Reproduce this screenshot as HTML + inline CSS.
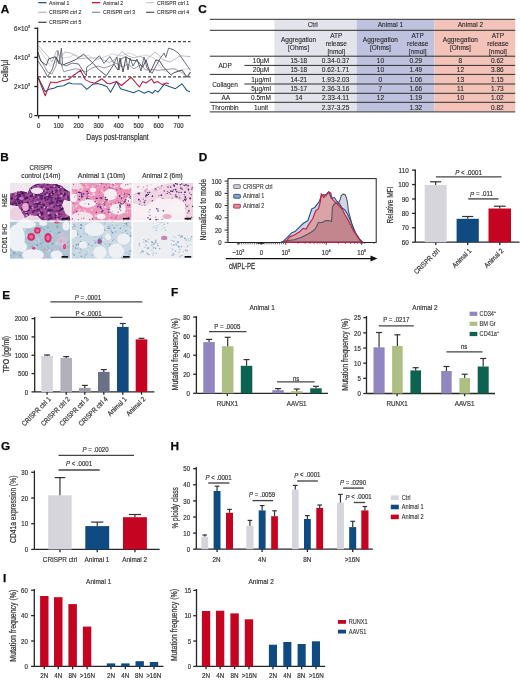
<!DOCTYPE html>
<html><head><meta charset="utf-8"><title>Figure</title>
<style>
html,body{margin:0;padding:0;background:#fff;}
body{width:520px;height:680px;overflow:hidden;}
svg{display:block;font-family:"Liberation Sans", sans-serif;will-change:transform;filter:blur(0.3px);}
</style></head>
<body>
<svg width="520" height="680" viewBox="0 0 520 680" font-family='"Liberation Sans", sans-serif'>
<rect width="520" height="680" fill="#fff"/>
<text x="0.69" y="12.70" font-size="11.8" font-weight="bold" fill="#0a0a0a" stroke="#0a0a0a" stroke-width="0.25">A</text>
<line x1="38.30" y1="2.70" x2="46.50" y2="2.70" stroke="#0f4a80" stroke-width="1.2"/>
<text transform="translate(49.10 2.70) scale(0.96 1.15)" font-size="5.4" text-anchor="start" font-weight="normal" fill="#3a3a3a" stroke="#3a3a3a" stroke-width="0.12" dominant-baseline="central">Animal 1</text>
<line x1="92.00" y1="2.70" x2="100.20" y2="2.70" stroke="#c40421" stroke-width="1.2"/>
<text transform="translate(103.00 2.70) scale(0.96 1.15)" font-size="5.4" text-anchor="start" font-weight="normal" fill="#3a3a3a" stroke="#3a3a3a" stroke-width="0.12" dominant-baseline="central">Animal 2</text>
<line x1="146.10" y1="2.70" x2="154.30" y2="2.70" stroke="#c9c9d0" stroke-width="1.2"/>
<text transform="translate(156.90 2.70) scale(0.96 1.15)" font-size="5.4" text-anchor="start" font-weight="normal" fill="#3a3a3a" stroke="#3a3a3a" stroke-width="0.12" dominant-baseline="central">CRISPR ctrl 1</text>
<line x1="38.30" y1="12.30" x2="46.50" y2="12.30" stroke="#b1b1ba" stroke-width="1.2"/>
<text transform="translate(49.10 12.30) scale(0.96 1.15)" font-size="5.4" text-anchor="start" font-weight="normal" fill="#3a3a3a" stroke="#3a3a3a" stroke-width="0.12" dominant-baseline="central">CRISPR ctrl 2</text>
<line x1="92.00" y1="12.30" x2="100.20" y2="12.30" stroke="#8c8c97" stroke-width="1.2"/>
<text transform="translate(103.00 12.30) scale(0.96 1.15)" font-size="5.4" text-anchor="start" font-weight="normal" fill="#3a3a3a" stroke="#3a3a3a" stroke-width="0.12" dominant-baseline="central">CRISPR ctrl 3</text>
<line x1="146.10" y1="12.30" x2="154.30" y2="12.30" stroke="#4f5466" stroke-width="1.2"/>
<text transform="translate(156.90 12.30) scale(0.96 1.15)" font-size="5.4" text-anchor="start" font-weight="normal" fill="#3a3a3a" stroke="#3a3a3a" stroke-width="0.12" dominant-baseline="central">CRISPR ctrl 4</text>
<line x1="38.30" y1="22.30" x2="46.50" y2="22.30" stroke="#3c3c44" stroke-width="1.2"/>
<text transform="translate(49.10 22.30) scale(0.96 1.15)" font-size="5.4" text-anchor="start" font-weight="normal" fill="#3a3a3a" stroke="#3a3a3a" stroke-width="0.12" dominant-baseline="central">CRISPR ctrl 5</text>
<polyline points="38.0,48.0 44.0,56.0 50.0,66.0 56.0,62.0 62.0,58.0 70.0,57.0 74.0,54.5 80.0,57.0 88.0,55.0 96.0,60.0 104.0,57.0 112.0,54.0 120.0,56.0 130.0,53.0 138.0,57.0 146.0,55.0 154.0,58.0 163.0,70.3 171.8,73.5 178.3,71.1 187.2,68.7 190.4,67.9" fill="none" stroke="#cfcfd6" stroke-width="0.9" stroke-linejoin="round"/>
<polyline points="38.0,45.0 47.5,55.7 52.0,62.0 56.8,50.3 60.0,58.0 65.2,51.8 71.4,53.4 76.0,55.7 78.6,58.8 87.8,58.0 99.4,58.0 109.4,62.6 114.0,60.0 122.0,51.5 128.0,56.0 134.0,58.0 140.0,56.0 146.0,60.0 152.4,54.2 154.8,52.1 158.0,54.2 163.0,60.0 170.0,62.0 180.7,55.8 190.4,56.6" fill="none" stroke="#b3b3bc" stroke-width="0.9" stroke-linejoin="round"/>
<polyline points="38.0,55.0 42.0,62.0 47.5,72.0 52.0,74.0 56.0,66.0 58.0,50.3 60.0,60.0 63.7,71.8 70.0,70.0 76.0,68.8 80.0,69.5 86.0,72.0 92.0,68.0 98.0,66.0 104.0,68.0 110.0,66.0 116.0,63.0 122.0,67.0 128.0,64.0 134.0,69.0 140.0,65.0 146.0,70.0 153.2,69.5 158.0,70.3 166.2,69.5 174.2,68.7 182.3,72.7 187.2,77.6 190.4,72.7" fill="none" stroke="#8e8e99" stroke-width="0.9" stroke-linejoin="round"/>
<polyline points="38.0,61.0 44.0,70.0 47.5,76.5 52.0,70.0 56.0,57.2 59.0,64.0 61.4,48.0 62.5,64.0 66.0,66.0 72.0,63.0 78.6,64.0 86.3,75.7 86.7,67.2 91.0,64.2 99.4,55.7 104.0,63.4 109.8,56.5 114.0,63.4 117.0,57.0 119.0,70.0 121.0,59.0 125.8,56.5 128.0,70.0 130.0,58.0 133.0,66.0 137.0,59.0 141.0,71.0 144.0,57.0 147.0,68.0 152.0,73.4 160.5,57.8 164.1,53.0 165.8,57.4 168.6,48.1 173.4,49.7 178.3,53.0 190.4,70.3" fill="none" stroke="#5a5f72" stroke-width="0.9" stroke-linejoin="round"/>
<polyline points="38.0,51.8 40.6,61.0 46.4,65.3 48.7,58.8 55.6,56.8 59.0,62.6 62.2,65.3 76.0,59.5 83.6,54.2 93.2,63.4 98.6,69.5 106.3,75.7 114.0,64.2 118.0,70.0 120.0,58.0 123.0,72.0 126.0,57.0 131.0,60.0 137.4,61.0 142.8,67.2 146.0,60.0 150.0,72.7 156.0,59.8 159.7,61.0 162.9,66.3 171.0,75.2 174.2,72.7 182.0,70.0 187.0,77.0 190.4,72.0" fill="none" stroke="#44444c" stroke-width="0.9" stroke-linejoin="round"/>
<polyline points="38.0,77.3 45.2,91.5 48.3,89.6 54.5,88.0 57.5,86.5 63.7,85.8 69.0,82.7 72.0,83.8 81.4,84.0 86.8,89.3 93.0,84.2 97.5,83.5 102.0,84.7 106.8,86.5 110.6,92.2 116.5,81.4 120.6,88.7 126.3,90.4 133.7,92.8 138.6,90.4 144.3,93.3 148.4,91.2 152.5,93.3 155.0,90.4 158.2,92.0 163.9,84.6 170.5,87.0 175.4,88.7 181.9,83.8 186.8,90.4 190.0,91.7" fill="none" stroke="#1b5284" stroke-width="1.05" stroke-linejoin="round"/>
<polyline points="38.0,77.3 45.2,95.8 50.6,82.0 56.0,82.7 63.0,80.4 68.3,79.6 73.0,75.8 80.6,70.4 85.2,79.6 89.8,81.9 94.5,83.2 102.0,78.8 107.5,83.5 110.0,83.8 116.5,81.4 121.4,85.5 131.2,77.3 139.4,87.0 142.7,81.4 146.0,83.0 151.7,78.9 154.0,83.0 157.4,81.4 162.3,84.6 166.4,83.0 168.8,83.8" fill="none" stroke="#c0163a" stroke-width="1.05" stroke-linejoin="round"/>
<line x1="38.00" y1="41.70" x2="190.50" y2="41.70" stroke="#444" stroke-width="1.2" stroke-dasharray="3 2"/>
<line x1="38.00" y1="76.80" x2="190.50" y2="76.80" stroke="#444" stroke-width="1.2" stroke-dasharray="3 2"/>
<line x1="37.60" y1="27.50" x2="37.60" y2="115.60" stroke="#262626" stroke-width="1.3"/>
<line x1="34.30" y1="115.60" x2="37.60" y2="115.60" stroke="#262626" stroke-width="1.3"/>
<text transform="translate(32.50 115.60) scale(1.0 1.15)" font-size="6.2" text-anchor="end" font-weight="normal" fill="#383838" stroke="#383838" stroke-width="0.18" dominant-baseline="central">0</text>
<line x1="34.30" y1="86.50" x2="37.60" y2="86.50" stroke="#262626" stroke-width="1.3"/>
<text transform="translate(14.00 86.50) scale(1.0 1.15)" font-size="6.2" text-anchor="start" font-weight="normal" fill="#383838" stroke="#383838" stroke-width="0.18" dominant-baseline="central">2×10<tspan font-size="3.8" dy="-2.0">3</tspan></text>
<line x1="34.30" y1="57.40" x2="37.60" y2="57.40" stroke="#262626" stroke-width="1.3"/>
<text transform="translate(14.00 57.40) scale(1.0 1.15)" font-size="6.2" text-anchor="start" font-weight="normal" fill="#383838" stroke="#383838" stroke-width="0.18" dominant-baseline="central">4×10<tspan font-size="3.8" dy="-2.0">3</tspan></text>
<line x1="34.30" y1="28.30" x2="37.60" y2="28.30" stroke="#262626" stroke-width="1.3"/>
<text transform="translate(14.00 28.30) scale(1.0 1.15)" font-size="6.2" text-anchor="start" font-weight="normal" fill="#383838" stroke="#383838" stroke-width="0.18" dominant-baseline="central">6×10<tspan font-size="3.8" dy="-2.0">3</tspan></text>
<line x1="37.60" y1="115.60" x2="190.80" y2="115.60" stroke="#262626" stroke-width="1.3"/>
<line x1="38.60" y1="115.60" x2="38.60" y2="118.40" stroke="#262626" stroke-width="1.3"/>
<line x1="58.60" y1="115.60" x2="58.60" y2="118.40" stroke="#262626" stroke-width="1.3"/>
<line x1="78.60" y1="115.60" x2="78.60" y2="118.40" stroke="#262626" stroke-width="1.3"/>
<line x1="98.60" y1="115.60" x2="98.60" y2="118.40" stroke="#262626" stroke-width="1.3"/>
<line x1="118.60" y1="115.60" x2="118.60" y2="118.40" stroke="#262626" stroke-width="1.3"/>
<line x1="138.60" y1="115.60" x2="138.60" y2="118.40" stroke="#262626" stroke-width="1.3"/>
<line x1="158.60" y1="115.60" x2="158.60" y2="118.40" stroke="#262626" stroke-width="1.3"/>
<line x1="178.60" y1="115.60" x2="178.60" y2="118.40" stroke="#262626" stroke-width="1.3"/>
<text transform="translate(38.60 125.30) scale(1.0 1.15)" font-size="6.0" text-anchor="middle" font-weight="normal" fill="#383838" stroke="#383838" stroke-width="0.18" dominant-baseline="central">0</text>
<text transform="translate(58.60 125.30) scale(1.0 1.15)" font-size="6.0" text-anchor="middle" font-weight="normal" fill="#383838" stroke="#383838" stroke-width="0.18" dominant-baseline="central">100</text>
<text transform="translate(78.60 125.30) scale(1.0 1.15)" font-size="6.0" text-anchor="middle" font-weight="normal" fill="#383838" stroke="#383838" stroke-width="0.18" dominant-baseline="central">200</text>
<text transform="translate(98.60 125.30) scale(1.0 1.15)" font-size="6.0" text-anchor="middle" font-weight="normal" fill="#383838" stroke="#383838" stroke-width="0.18" dominant-baseline="central">300</text>
<text transform="translate(118.60 125.30) scale(1.0 1.15)" font-size="6.0" text-anchor="middle" font-weight="normal" fill="#383838" stroke="#383838" stroke-width="0.18" dominant-baseline="central">400</text>
<text transform="translate(138.60 125.30) scale(1.0 1.15)" font-size="6.0" text-anchor="middle" font-weight="normal" fill="#383838" stroke="#383838" stroke-width="0.18" dominant-baseline="central">500</text>
<text transform="translate(158.60 125.30) scale(1.0 1.15)" font-size="6.0" text-anchor="middle" font-weight="normal" fill="#383838" stroke="#383838" stroke-width="0.18" dominant-baseline="central">600</text>
<text transform="translate(178.60 125.30) scale(1.0 1.15)" font-size="6.0" text-anchor="middle" font-weight="normal" fill="#383838" stroke="#383838" stroke-width="0.18" dominant-baseline="central">700</text>
<text transform="translate(117.50 136.90) scale(1.0 1.22)" font-size="6.8" text-anchor="middle" font-weight="normal" fill="#383838" stroke="#383838" stroke-width="0.18" dominant-baseline="central">Days post-transplant</text>
<text transform="translate(4.80 71.00) rotate(-90) scale(1.0 1.28)" font-size="6.8" text-anchor="middle" font-weight="normal" fill="#383838" stroke="#383838" stroke-width="0.18" dominant-baseline="central">Cells/µl</text>
<text x="198.30" y="12.80" font-size="11.8" font-weight="bold" fill="#0a0a0a" stroke="#0a0a0a" stroke-width="0.25">C</text>
<rect x="274.40" y="19.60" width="82.30" height="92.00" fill="#e3e3ec"/>
<rect x="356.70" y="19.60" width="77.70" height="92.00" fill="#bfc2de"/>
<rect x="434.40" y="19.60" width="80.80" height="92.00" fill="#f3c2b8"/>
<line x1="209.80" y1="19.30" x2="515.20" y2="19.30" stroke="#2e2e2e" stroke-width="1.0"/>
<line x1="209.80" y1="30.30" x2="515.20" y2="30.30" stroke="#2e2e2e" stroke-width="1.0"/>
<line x1="209.80" y1="56.20" x2="515.20" y2="56.20" stroke="#2e2e2e" stroke-width="1.0"/>
<line x1="209.80" y1="74.40" x2="515.20" y2="74.40" stroke="#2e2e2e" stroke-width="1.0"/>
<line x1="209.80" y1="93.30" x2="515.20" y2="93.30" stroke="#2e2e2e" stroke-width="1.0"/>
<line x1="209.80" y1="102.30" x2="515.20" y2="102.30" stroke="#2e2e2e" stroke-width="1.0"/>
<line x1="209.80" y1="111.90" x2="515.20" y2="111.90" stroke="#2e2e2e" stroke-width="1.0"/>
<line x1="244.40" y1="65.40" x2="515.20" y2="65.40" stroke="#2e2e2e" stroke-width="1.0"/>
<line x1="244.40" y1="84.00" x2="515.20" y2="84.00" stroke="#2e2e2e" stroke-width="1.0"/>
<text transform="translate(312.70 24.60)" font-size="6.5" text-anchor="middle" font-weight="normal" fill="#262626" stroke="#262626" stroke-width="0.1" dominant-baseline="central">Ctrl</text>
<text transform="translate(390.40 24.60)" font-size="6.5" text-anchor="middle" font-weight="normal" fill="#262626" stroke="#262626" stroke-width="0.1" dominant-baseline="central">Animal 1</text>
<text transform="translate(470.40 24.60)" font-size="6.5" text-anchor="middle" font-weight="normal" fill="#262626" stroke="#262626" stroke-width="0.1" dominant-baseline="central">Animal 2</text>
<text transform="translate(298.50 39.60)" font-size="6.5" text-anchor="middle" font-weight="normal" fill="#262626" stroke="#262626" stroke-width="0.1" dominant-baseline="central">Aggregation</text>
<text transform="translate(298.50 47.30)" font-size="6.5" text-anchor="middle" font-weight="normal" fill="#262626" stroke="#262626" stroke-width="0.1" dominant-baseline="central">[Ohms]</text>
<text transform="translate(336.30 35.80)" font-size="6.5" text-anchor="middle" font-weight="normal" fill="#262626" stroke="#262626" stroke-width="0.1" dominant-baseline="central">ATP</text>
<text transform="translate(336.30 43.60)" font-size="6.5" text-anchor="middle" font-weight="normal" fill="#262626" stroke="#262626" stroke-width="0.1" dominant-baseline="central">release</text>
<text transform="translate(336.30 51.40)" font-size="6.5" text-anchor="middle" font-weight="normal" fill="#262626" stroke="#262626" stroke-width="0.1" dominant-baseline="central">[nmol]</text>
<text transform="translate(380.40 39.60)" font-size="6.5" text-anchor="middle" font-weight="normal" fill="#262626" stroke="#262626" stroke-width="0.1" dominant-baseline="central">Aggregation</text>
<text transform="translate(380.40 47.30)" font-size="6.5" text-anchor="middle" font-weight="normal" fill="#262626" stroke="#262626" stroke-width="0.1" dominant-baseline="central">[Ohms]</text>
<text transform="translate(417.70 35.80)" font-size="6.5" text-anchor="middle" font-weight="normal" fill="#262626" stroke="#262626" stroke-width="0.1" dominant-baseline="central">ATP</text>
<text transform="translate(417.70 43.60)" font-size="6.5" text-anchor="middle" font-weight="normal" fill="#262626" stroke="#262626" stroke-width="0.1" dominant-baseline="central">release</text>
<text transform="translate(417.70 51.40)" font-size="6.5" text-anchor="middle" font-weight="normal" fill="#262626" stroke="#262626" stroke-width="0.1" dominant-baseline="central">[nmol]</text>
<text transform="translate(460.40 39.60)" font-size="6.5" text-anchor="middle" font-weight="normal" fill="#262626" stroke="#262626" stroke-width="0.1" dominant-baseline="central">Aggregation</text>
<text transform="translate(460.40 47.30)" font-size="6.5" text-anchor="middle" font-weight="normal" fill="#262626" stroke="#262626" stroke-width="0.1" dominant-baseline="central">[Ohms]</text>
<text transform="translate(497.90 35.80)" font-size="6.5" text-anchor="middle" font-weight="normal" fill="#262626" stroke="#262626" stroke-width="0.1" dominant-baseline="central">ATP</text>
<text transform="translate(497.90 43.60)" font-size="6.5" text-anchor="middle" font-weight="normal" fill="#262626" stroke="#262626" stroke-width="0.1" dominant-baseline="central">release</text>
<text transform="translate(497.90 51.40)" font-size="6.5" text-anchor="middle" font-weight="normal" fill="#262626" stroke="#262626" stroke-width="0.1" dominant-baseline="central">[nmol]</text>
<text transform="translate(261.00 60.70)" font-size="6.5" text-anchor="middle" font-weight="normal" fill="#262626" stroke="#262626" stroke-width="0.1" dominant-baseline="central">10µM</text>
<text transform="translate(298.80 60.70)" font-size="6.5" text-anchor="middle" font-weight="normal" fill="#262626" stroke="#262626" stroke-width="0.1" dominant-baseline="central">15-18</text>
<text transform="translate(335.60 60.70)" font-size="6.5" text-anchor="middle" font-weight="normal" fill="#262626" stroke="#262626" stroke-width="0.1" dominant-baseline="central">0.34-0.37</text>
<text transform="translate(380.40 60.70)" font-size="6.5" text-anchor="middle" font-weight="normal" fill="#262626" stroke="#262626" stroke-width="0.1" dominant-baseline="central">10</text>
<text transform="translate(415.80 60.70)" font-size="6.5" text-anchor="middle" font-weight="normal" fill="#262626" stroke="#262626" stroke-width="0.1" dominant-baseline="central">0.29</text>
<text transform="translate(460.40 60.70)" font-size="6.5" text-anchor="middle" font-weight="normal" fill="#262626" stroke="#262626" stroke-width="0.1" dominant-baseline="central">8</text>
<text transform="translate(497.30 60.70)" font-size="6.5" text-anchor="middle" font-weight="normal" fill="#262626" stroke="#262626" stroke-width="0.1" dominant-baseline="central">0.62</text>
<text transform="translate(261.00 69.90)" font-size="6.5" text-anchor="middle" font-weight="normal" fill="#262626" stroke="#262626" stroke-width="0.1" dominant-baseline="central">20µM</text>
<text transform="translate(298.80 69.90)" font-size="6.5" text-anchor="middle" font-weight="normal" fill="#262626" stroke="#262626" stroke-width="0.1" dominant-baseline="central">15-18</text>
<text transform="translate(335.60 69.90)" font-size="6.5" text-anchor="middle" font-weight="normal" fill="#262626" stroke="#262626" stroke-width="0.1" dominant-baseline="central">0.62-1.71</text>
<text transform="translate(380.40 69.90)" font-size="6.5" text-anchor="middle" font-weight="normal" fill="#262626" stroke="#262626" stroke-width="0.1" dominant-baseline="central">10</text>
<text transform="translate(415.80 69.90)" font-size="6.5" text-anchor="middle" font-weight="normal" fill="#262626" stroke="#262626" stroke-width="0.1" dominant-baseline="central">1.49</text>
<text transform="translate(460.40 69.90)" font-size="6.5" text-anchor="middle" font-weight="normal" fill="#262626" stroke="#262626" stroke-width="0.1" dominant-baseline="central">12</text>
<text transform="translate(497.30 69.90)" font-size="6.5" text-anchor="middle" font-weight="normal" fill="#262626" stroke="#262626" stroke-width="0.1" dominant-baseline="central">3.86</text>
<text transform="translate(261.00 79.20)" font-size="6.5" text-anchor="middle" font-weight="normal" fill="#262626" stroke="#262626" stroke-width="0.1" dominant-baseline="central">1µg/ml</text>
<text transform="translate(298.80 79.20)" font-size="6.5" text-anchor="middle" font-weight="normal" fill="#262626" stroke="#262626" stroke-width="0.1" dominant-baseline="central">14-21</text>
<text transform="translate(335.60 79.20)" font-size="6.5" text-anchor="middle" font-weight="normal" fill="#262626" stroke="#262626" stroke-width="0.1" dominant-baseline="central">1.93-2.03</text>
<text transform="translate(380.40 79.20)" font-size="6.5" text-anchor="middle" font-weight="normal" fill="#262626" stroke="#262626" stroke-width="0.1" dominant-baseline="central">0</text>
<text transform="translate(415.80 79.20)" font-size="6.5" text-anchor="middle" font-weight="normal" fill="#262626" stroke="#262626" stroke-width="0.1" dominant-baseline="central">1.06</text>
<text transform="translate(460.40 79.20)" font-size="6.5" text-anchor="middle" font-weight="normal" fill="#262626" stroke="#262626" stroke-width="0.1" dominant-baseline="central">13</text>
<text transform="translate(497.30 79.20)" font-size="6.5" text-anchor="middle" font-weight="normal" fill="#262626" stroke="#262626" stroke-width="0.1" dominant-baseline="central">1.15</text>
<text transform="translate(261.00 88.60)" font-size="6.5" text-anchor="middle" font-weight="normal" fill="#262626" stroke="#262626" stroke-width="0.1" dominant-baseline="central">5µg/ml</text>
<text transform="translate(298.80 88.60)" font-size="6.5" text-anchor="middle" font-weight="normal" fill="#262626" stroke="#262626" stroke-width="0.1" dominant-baseline="central">15-17</text>
<text transform="translate(335.60 88.60)" font-size="6.5" text-anchor="middle" font-weight="normal" fill="#262626" stroke="#262626" stroke-width="0.1" dominant-baseline="central">2.36-3.16</text>
<text transform="translate(380.40 88.60)" font-size="6.5" text-anchor="middle" font-weight="normal" fill="#262626" stroke="#262626" stroke-width="0.1" dominant-baseline="central">7</text>
<text transform="translate(415.80 88.60)" font-size="6.5" text-anchor="middle" font-weight="normal" fill="#262626" stroke="#262626" stroke-width="0.1" dominant-baseline="central">1.66</text>
<text transform="translate(460.40 88.60)" font-size="6.5" text-anchor="middle" font-weight="normal" fill="#262626" stroke="#262626" stroke-width="0.1" dominant-baseline="central">11</text>
<text transform="translate(497.30 88.60)" font-size="6.5" text-anchor="middle" font-weight="normal" fill="#262626" stroke="#262626" stroke-width="0.1" dominant-baseline="central">1.73</text>
<text transform="translate(261.00 97.70)" font-size="6.5" text-anchor="middle" font-weight="normal" fill="#262626" stroke="#262626" stroke-width="0.1" dominant-baseline="central">0.5mM</text>
<text transform="translate(298.80 97.70)" font-size="6.5" text-anchor="middle" font-weight="normal" fill="#262626" stroke="#262626" stroke-width="0.1" dominant-baseline="central">14</text>
<text transform="translate(335.60 97.70)" font-size="6.5" text-anchor="middle" font-weight="normal" fill="#262626" stroke="#262626" stroke-width="0.1" dominant-baseline="central">2.33-4.11</text>
<text transform="translate(380.40 97.70)" font-size="6.5" text-anchor="middle" font-weight="normal" fill="#262626" stroke="#262626" stroke-width="0.1" dominant-baseline="central">12</text>
<text transform="translate(415.80 97.70)" font-size="6.5" text-anchor="middle" font-weight="normal" fill="#262626" stroke="#262626" stroke-width="0.1" dominant-baseline="central">1.19</text>
<text transform="translate(460.40 97.70)" font-size="6.5" text-anchor="middle" font-weight="normal" fill="#262626" stroke="#262626" stroke-width="0.1" dominant-baseline="central">10</text>
<text transform="translate(497.30 97.70)" font-size="6.5" text-anchor="middle" font-weight="normal" fill="#262626" stroke="#262626" stroke-width="0.1" dominant-baseline="central">1.02</text>
<text transform="translate(261.00 107.10)" font-size="6.5" text-anchor="middle" font-weight="normal" fill="#262626" stroke="#262626" stroke-width="0.1" dominant-baseline="central">1unit</text>
<text transform="translate(335.60 107.10)" font-size="6.5" text-anchor="middle" font-weight="normal" fill="#262626" stroke="#262626" stroke-width="0.1" dominant-baseline="central">2.37-3.25</text>
<text transform="translate(415.80 107.10)" font-size="6.5" text-anchor="middle" font-weight="normal" fill="#262626" stroke="#262626" stroke-width="0.1" dominant-baseline="central">1.32</text>
<text transform="translate(497.30 107.10)" font-size="6.5" text-anchor="middle" font-weight="normal" fill="#262626" stroke="#262626" stroke-width="0.1" dominant-baseline="central">0.82</text>
<text transform="translate(225.20 65.20)" font-size="6.5" text-anchor="middle" font-weight="normal" fill="#262626" stroke="#262626" stroke-width="0.1" dominant-baseline="central">ADP</text>
<text transform="translate(225.00 84.00)" font-size="6.5" text-anchor="middle" font-weight="normal" fill="#262626" stroke="#262626" stroke-width="0.1" dominant-baseline="central">Collagen</text>
<text transform="translate(225.80 97.70)" font-size="6.5" text-anchor="middle" font-weight="normal" fill="#262626" stroke="#262626" stroke-width="0.1" dominant-baseline="central">AA</text>
<text transform="translate(225.00 107.10)" font-size="6.5" text-anchor="middle" font-weight="normal" fill="#262626" stroke="#262626" stroke-width="0.1" dominant-baseline="central">Thrombin</text>
<text x="0.18" y="161.00" font-size="11.8" font-weight="bold" fill="#0a0a0a" stroke="#0a0a0a" stroke-width="0.25">B</text>
<text transform="translate(41.00 168.20) scale(0.87 1.15)" font-size="7.0" text-anchor="middle" font-weight="normal" fill="#383838" stroke="#383838" stroke-width="0.18" dominant-baseline="central">CRISPR</text>
<text transform="translate(40.90 175.60) scale(0.95 1.15)" font-size="7.0" text-anchor="middle" font-weight="normal" fill="#383838" stroke="#383838" stroke-width="0.18" dominant-baseline="central">control (14m)</text>
<text transform="translate(101.50 175.60) scale(1.0 1.15)" font-size="7.0" text-anchor="middle" font-weight="normal" fill="#383838" stroke="#383838" stroke-width="0.18" dominant-baseline="central">Animal 1 (10m)</text>
<text transform="translate(162.50 175.60) scale(0.93 1.15)" font-size="7.0" text-anchor="middle" font-weight="normal" fill="#383838" stroke="#383838" stroke-width="0.18" dominant-baseline="central">Animal 2 (6m)</text>
<text transform="translate(4.60 200.30) rotate(-90) scale(0.95 1.15)" font-size="6.8" text-anchor="middle" font-weight="normal" fill="#383838" stroke="#383838" stroke-width="0.18" dominant-baseline="central">H&amp;E</text>
<text transform="translate(4.60 238.40) rotate(-90) scale(0.94 1.15)" font-size="6.8" text-anchor="middle" font-weight="normal" fill="#383838" stroke="#383838" stroke-width="0.18" dominant-baseline="central">CD61 IHC</text>
<defs>
<clipPath id="c00"><rect x="10" y="183" width="60.2" height="37.6"/></clipPath>
<clipPath id="c01"><rect x="10" y="221.6" width="60.2" height="37.2"/></clipPath>
<clipPath id="c10"><rect x="71.4" y="183" width="60.2" height="37.6"/></clipPath>
<clipPath id="c11"><rect x="71.4" y="221.6" width="60.2" height="37.2"/></clipPath>
<clipPath id="c20"><rect x="133" y="183" width="60.2" height="37.6"/></clipPath>
<clipPath id="c21"><rect x="133" y="221.6" width="60.2" height="37.2"/></clipPath>
<clipPath id="mass1"><polygon points="10,194 16,192 22,191 28,193 30,188 33,185.5 37,184 43,183.5 50,184 56,184 62,186 66,190 71,192 71,201 64,200 62,205 66,214 71,217 71,221 50,221 42,221 38,216 30,215 25,218 22,212 18,206 10,205"/></clipPath>
<clipPath id="band3"><polygon points="133,194 140,192 148,191 155,188 162,185 170,183 194,183 194,221 186,221 185,203 176,198 166,199 158,198 150,203 146,206 140,205 133,203"/></clipPath>
<filter id="hb" x="-5%" y="-5%" width="110%" height="110%"><feGaussianBlur stdDeviation="0.35"/></filter>
</defs>
<g clip-path="url(#c00)"><g filter="url(#hb)">
<rect x="10.00" y="183.00" width="60.20" height="37.60" fill="#eee8ee"/>
<ellipse cx="17.0" cy="214.0" rx="8.0" ry="7.0" fill="#ecd0e2"/>
<g clip-path="url(#mass1)">
<rect x="10.00" y="183.00" width="60.20" height="37.60" fill="#9c4a94"/>
<circle cx="29.8" cy="188.7" r="1.12" fill="#4d1a5e" fill-opacity="1.0"/>
<circle cx="60.1" cy="186.6" r="1.08" fill="#502068" fill-opacity="1.0"/>
<circle cx="23.1" cy="186.3" r="0.97" fill="#5e2270" fill-opacity="1.0"/>
<circle cx="15.5" cy="199.1" r="1.24" fill="#4d1a5e" fill-opacity="1.0"/>
<circle cx="67.8" cy="207.0" r="1.08" fill="#4d1a5e" fill-opacity="1.0"/>
<circle cx="45.2" cy="198.1" r="1.33" fill="#4d1a5e" fill-opacity="1.0"/>
<circle cx="44.0" cy="188.1" r="0.97" fill="#502068" fill-opacity="1.0"/>
<circle cx="17.2" cy="194.7" r="1.23" fill="#5e2270" fill-opacity="1.0"/>
<circle cx="16.3" cy="204.7" r="0.82" fill="#4d1a5e" fill-opacity="1.0"/>
<circle cx="43.4" cy="185.4" r="0.74" fill="#5e2270" fill-opacity="1.0"/>
<circle cx="40.3" cy="203.2" r="1.21" fill="#3f1650" fill-opacity="1.0"/>
<circle cx="45.7" cy="200.2" r="0.89" fill="#5e2270" fill-opacity="1.0"/>
<circle cx="52.6" cy="192.3" r="1.07" fill="#502068" fill-opacity="1.0"/>
<circle cx="40.2" cy="196.1" r="0.99" fill="#502068" fill-opacity="1.0"/>
<circle cx="69.8" cy="187.5" r="0.97" fill="#6d2a7c" fill-opacity="1.0"/>
<circle cx="19.3" cy="201.6" r="0.73" fill="#4d1a5e" fill-opacity="1.0"/>
<circle cx="56.6" cy="204.8" r="1.27" fill="#6d2a7c" fill-opacity="1.0"/>
<circle cx="30.7" cy="196.3" r="1.02" fill="#3f1650" fill-opacity="1.0"/>
<circle cx="14.2" cy="186.6" r="0.88" fill="#4d1a5e" fill-opacity="1.0"/>
<circle cx="13.7" cy="209.7" r="1.12" fill="#3f1650" fill-opacity="1.0"/>
<circle cx="27.4" cy="197.7" r="1.13" fill="#4d1a5e" fill-opacity="1.0"/>
<circle cx="67.4" cy="196.5" r="1.10" fill="#3f1650" fill-opacity="1.0"/>
<circle cx="13.6" cy="212.2" r="0.78" fill="#5e2270" fill-opacity="1.0"/>
<circle cx="34.3" cy="217.8" r="1.02" fill="#5e2270" fill-opacity="1.0"/>
<circle cx="37.4" cy="203.9" r="1.27" fill="#3f1650" fill-opacity="1.0"/>
<circle cx="62.7" cy="193.6" r="0.97" fill="#6d2a7c" fill-opacity="1.0"/>
<circle cx="51.6" cy="197.5" r="0.85" fill="#4d1a5e" fill-opacity="1.0"/>
<circle cx="20.7" cy="191.8" r="0.85" fill="#3f1650" fill-opacity="1.0"/>
<circle cx="60.7" cy="189.9" r="0.88" fill="#5e2270" fill-opacity="1.0"/>
<circle cx="35.6" cy="197.0" r="1.07" fill="#5e2270" fill-opacity="1.0"/>
<circle cx="52.1" cy="202.6" r="1.10" fill="#4d1a5e" fill-opacity="1.0"/>
<circle cx="37.9" cy="216.1" r="1.32" fill="#502068" fill-opacity="1.0"/>
<circle cx="33.9" cy="198.2" r="0.77" fill="#3f1650" fill-opacity="1.0"/>
<circle cx="13.8" cy="185.6" r="0.84" fill="#5e2270" fill-opacity="1.0"/>
<circle cx="16.7" cy="205.8" r="0.77" fill="#502068" fill-opacity="1.0"/>
<circle cx="19.2" cy="186.9" r="0.94" fill="#4d1a5e" fill-opacity="1.0"/>
<circle cx="14.3" cy="190.9" r="0.94" fill="#6d2a7c" fill-opacity="1.0"/>
<circle cx="68.3" cy="205.9" r="1.01" fill="#4d1a5e" fill-opacity="1.0"/>
<circle cx="61.8" cy="220.7" r="1.00" fill="#3f1650" fill-opacity="1.0"/>
<circle cx="29.0" cy="188.5" r="1.19" fill="#6d2a7c" fill-opacity="1.0"/>
<circle cx="39.2" cy="209.3" r="1.04" fill="#5e2270" fill-opacity="1.0"/>
<circle cx="68.0" cy="203.1" r="0.80" fill="#502068" fill-opacity="1.0"/>
<circle cx="65.8" cy="211.8" r="0.89" fill="#4d1a5e" fill-opacity="1.0"/>
<circle cx="52.5" cy="192.9" r="0.94" fill="#5e2270" fill-opacity="1.0"/>
<circle cx="31.7" cy="191.5" r="1.05" fill="#502068" fill-opacity="1.0"/>
<circle cx="30.1" cy="191.5" r="1.23" fill="#5e2270" fill-opacity="1.0"/>
<circle cx="59.2" cy="214.1" r="1.18" fill="#5e2270" fill-opacity="1.0"/>
<circle cx="22.2" cy="201.7" r="1.18" fill="#4d1a5e" fill-opacity="1.0"/>
<circle cx="58.2" cy="200.9" r="0.83" fill="#502068" fill-opacity="1.0"/>
<circle cx="68.3" cy="200.0" r="1.31" fill="#6d2a7c" fill-opacity="1.0"/>
<circle cx="68.3" cy="196.9" r="0.84" fill="#5e2270" fill-opacity="1.0"/>
<circle cx="38.7" cy="195.8" r="1.01" fill="#502068" fill-opacity="1.0"/>
<circle cx="61.3" cy="201.2" r="1.12" fill="#4d1a5e" fill-opacity="1.0"/>
<circle cx="60.9" cy="187.6" r="0.95" fill="#5e2270" fill-opacity="1.0"/>
<circle cx="39.2" cy="189.8" r="1.21" fill="#6d2a7c" fill-opacity="1.0"/>
<circle cx="15.3" cy="219.0" r="1.17" fill="#3f1650" fill-opacity="1.0"/>
<circle cx="34.5" cy="219.0" r="1.17" fill="#5e2270" fill-opacity="1.0"/>
<circle cx="70.6" cy="184.0" r="1.08" fill="#3f1650" fill-opacity="1.0"/>
<circle cx="59.2" cy="188.6" r="1.24" fill="#3f1650" fill-opacity="1.0"/>
<circle cx="50.1" cy="196.3" r="1.06" fill="#5e2270" fill-opacity="1.0"/>
<circle cx="11.3" cy="213.4" r="1.17" fill="#4d1a5e" fill-opacity="1.0"/>
<circle cx="42.1" cy="218.5" r="0.98" fill="#5e2270" fill-opacity="1.0"/>
<circle cx="60.4" cy="191.0" r="0.86" fill="#6d2a7c" fill-opacity="1.0"/>
<circle cx="40.6" cy="212.0" r="0.91" fill="#502068" fill-opacity="1.0"/>
<circle cx="35.6" cy="188.0" r="1.29" fill="#6d2a7c" fill-opacity="1.0"/>
<circle cx="64.8" cy="208.2" r="1.23" fill="#502068" fill-opacity="1.0"/>
<circle cx="35.7" cy="217.9" r="1.03" fill="#502068" fill-opacity="1.0"/>
<circle cx="19.3" cy="202.4" r="1.27" fill="#5e2270" fill-opacity="1.0"/>
<circle cx="47.1" cy="212.5" r="0.80" fill="#5e2270" fill-opacity="1.0"/>
<circle cx="38.9" cy="210.6" r="1.06" fill="#6d2a7c" fill-opacity="1.0"/>
<circle cx="51.6" cy="203.2" r="1.01" fill="#4d1a5e" fill-opacity="1.0"/>
<circle cx="63.9" cy="185.2" r="0.82" fill="#4d1a5e" fill-opacity="1.0"/>
<circle cx="57.1" cy="202.3" r="1.07" fill="#4d1a5e" fill-opacity="1.0"/>
<circle cx="37.0" cy="206.3" r="1.03" fill="#502068" fill-opacity="1.0"/>
<circle cx="22.2" cy="193.5" r="1.03" fill="#3f1650" fill-opacity="1.0"/>
<circle cx="41.0" cy="192.4" r="1.04" fill="#6d2a7c" fill-opacity="1.0"/>
<circle cx="66.3" cy="216.9" r="0.83" fill="#3f1650" fill-opacity="1.0"/>
<circle cx="18.4" cy="187.6" r="0.99" fill="#4d1a5e" fill-opacity="1.0"/>
<circle cx="50.9" cy="199.3" r="0.84" fill="#6d2a7c" fill-opacity="1.0"/>
<circle cx="57.8" cy="217.1" r="0.80" fill="#6d2a7c" fill-opacity="1.0"/>
<circle cx="18.7" cy="216.5" r="1.33" fill="#5e2270" fill-opacity="1.0"/>
<circle cx="55.5" cy="186.6" r="1.28" fill="#5e2270" fill-opacity="1.0"/>
<circle cx="70.4" cy="214.6" r="0.80" fill="#3f1650" fill-opacity="1.0"/>
<circle cx="70.6" cy="198.3" r="0.97" fill="#6d2a7c" fill-opacity="1.0"/>
<circle cx="29.4" cy="210.4" r="0.71" fill="#502068" fill-opacity="1.0"/>
<circle cx="38.0" cy="209.7" r="0.95" fill="#502068" fill-opacity="1.0"/>
<circle cx="48.1" cy="202.5" r="0.74" fill="#5e2270" fill-opacity="1.0"/>
<circle cx="69.3" cy="187.0" r="0.87" fill="#4d1a5e" fill-opacity="1.0"/>
<circle cx="65.3" cy="189.9" r="1.19" fill="#3f1650" fill-opacity="1.0"/>
<circle cx="61.8" cy="208.7" r="1.31" fill="#3f1650" fill-opacity="1.0"/>
<circle cx="19.1" cy="217.9" r="1.07" fill="#6d2a7c" fill-opacity="1.0"/>
<circle cx="15.5" cy="185.2" r="1.15" fill="#3f1650" fill-opacity="1.0"/>
<circle cx="64.6" cy="193.2" r="0.71" fill="#4d1a5e" fill-opacity="1.0"/>
<circle cx="58.9" cy="186.2" r="1.26" fill="#4d1a5e" fill-opacity="1.0"/>
<circle cx="26.1" cy="187.6" r="0.71" fill="#502068" fill-opacity="1.0"/>
<circle cx="35.5" cy="217.8" r="1.10" fill="#4d1a5e" fill-opacity="1.0"/>
<circle cx="42.1" cy="192.1" r="0.77" fill="#5e2270" fill-opacity="1.0"/>
<circle cx="26.0" cy="189.9" r="1.31" fill="#6d2a7c" fill-opacity="1.0"/>
<circle cx="42.4" cy="190.8" r="0.99" fill="#5e2270" fill-opacity="1.0"/>
<circle cx="26.5" cy="213.5" r="1.35" fill="#4d1a5e" fill-opacity="1.0"/>
<circle cx="10.9" cy="210.9" r="1.06" fill="#5e2270" fill-opacity="1.0"/>
<circle cx="41.4" cy="192.3" r="0.99" fill="#3f1650" fill-opacity="1.0"/>
<circle cx="50.0" cy="203.7" r="1.28" fill="#502068" fill-opacity="1.0"/>
<circle cx="28.8" cy="191.2" r="0.85" fill="#5e2270" fill-opacity="1.0"/>
<circle cx="60.8" cy="209.9" r="1.11" fill="#3f1650" fill-opacity="1.0"/>
<circle cx="70.4" cy="220.3" r="1.24" fill="#4d1a5e" fill-opacity="1.0"/>
<circle cx="14.3" cy="211.2" r="0.87" fill="#5e2270" fill-opacity="1.0"/>
<circle cx="13.4" cy="208.3" r="0.95" fill="#502068" fill-opacity="1.0"/>
<circle cx="50.9" cy="193.7" r="0.86" fill="#6d2a7c" fill-opacity="1.0"/>
<circle cx="12.8" cy="190.0" r="0.87" fill="#4d1a5e" fill-opacity="1.0"/>
<circle cx="26.1" cy="219.5" r="1.33" fill="#502068" fill-opacity="1.0"/>
<circle cx="29.7" cy="184.3" r="1.27" fill="#5e2270" fill-opacity="1.0"/>
<circle cx="31.8" cy="183.0" r="0.95" fill="#3f1650" fill-opacity="1.0"/>
<circle cx="27.0" cy="207.9" r="0.86" fill="#4d1a5e" fill-opacity="1.0"/>
<circle cx="15.5" cy="214.0" r="0.79" fill="#502068" fill-opacity="1.0"/>
<circle cx="12.5" cy="183.9" r="0.90" fill="#5e2270" fill-opacity="1.0"/>
<circle cx="15.2" cy="219.4" r="1.25" fill="#5e2270" fill-opacity="1.0"/>
<circle cx="50.1" cy="210.2" r="1.27" fill="#3f1650" fill-opacity="1.0"/>
<circle cx="56.6" cy="210.4" r="1.02" fill="#6d2a7c" fill-opacity="1.0"/>
<circle cx="54.2" cy="207.4" r="0.73" fill="#502068" fill-opacity="1.0"/>
<circle cx="48.3" cy="210.9" r="1.23" fill="#5e2270" fill-opacity="1.0"/>
<circle cx="65.5" cy="211.6" r="1.07" fill="#4d1a5e" fill-opacity="1.0"/>
<circle cx="60.4" cy="205.2" r="1.28" fill="#5e2270" fill-opacity="1.0"/>
<circle cx="15.2" cy="184.6" r="1.11" fill="#4d1a5e" fill-opacity="1.0"/>
<circle cx="33.0" cy="200.2" r="0.73" fill="#4d1a5e" fill-opacity="1.0"/>
<circle cx="48.2" cy="208.9" r="1.02" fill="#4d1a5e" fill-opacity="1.0"/>
<circle cx="37.9" cy="185.7" r="1.31" fill="#502068" fill-opacity="1.0"/>
<circle cx="15.6" cy="203.0" r="1.18" fill="#3f1650" fill-opacity="1.0"/>
<circle cx="25.4" cy="185.8" r="0.87" fill="#5e2270" fill-opacity="1.0"/>
<circle cx="24.1" cy="207.7" r="1.00" fill="#3f1650" fill-opacity="1.0"/>
<circle cx="14.7" cy="217.6" r="0.89" fill="#4d1a5e" fill-opacity="1.0"/>
<circle cx="47.6" cy="207.4" r="0.75" fill="#5e2270" fill-opacity="1.0"/>
<circle cx="30.2" cy="207.8" r="1.15" fill="#502068" fill-opacity="1.0"/>
<circle cx="44.6" cy="183.5" r="0.74" fill="#6d2a7c" fill-opacity="1.0"/>
<circle cx="69.3" cy="186.8" r="0.84" fill="#3f1650" fill-opacity="1.0"/>
<circle cx="27.7" cy="202.6" r="1.00" fill="#3f1650" fill-opacity="1.0"/>
<circle cx="56.8" cy="220.7" r="1.06" fill="#6d2a7c" fill-opacity="1.0"/>
<circle cx="69.7" cy="218.6" r="0.71" fill="#3f1650" fill-opacity="1.0"/>
<circle cx="14.7" cy="202.3" r="1.35" fill="#6d2a7c" fill-opacity="1.0"/>
<circle cx="33.6" cy="217.8" r="1.30" fill="#4d1a5e" fill-opacity="1.0"/>
<circle cx="45.5" cy="188.4" r="1.04" fill="#6d2a7c" fill-opacity="1.0"/>
<circle cx="18.1" cy="214.2" r="1.03" fill="#4d1a5e" fill-opacity="1.0"/>
<circle cx="52.9" cy="191.8" r="1.28" fill="#3f1650" fill-opacity="1.0"/>
<circle cx="34.0" cy="189.0" r="1.32" fill="#3f1650" fill-opacity="1.0"/>
<circle cx="34.7" cy="210.6" r="0.97" fill="#3f1650" fill-opacity="1.0"/>
<circle cx="29.3" cy="214.9" r="0.70" fill="#6d2a7c" fill-opacity="1.0"/>
<circle cx="61.2" cy="187.6" r="1.30" fill="#4d1a5e" fill-opacity="1.0"/>
<circle cx="65.0" cy="194.0" r="0.94" fill="#3f1650" fill-opacity="1.0"/>
<circle cx="33.8" cy="216.1" r="0.75" fill="#3f1650" fill-opacity="1.0"/>
<circle cx="56.1" cy="215.5" r="0.88" fill="#4d1a5e" fill-opacity="1.0"/>
<circle cx="60.9" cy="193.9" r="1.31" fill="#5e2270" fill-opacity="1.0"/>
<circle cx="69.2" cy="199.6" r="0.91" fill="#6d2a7c" fill-opacity="1.0"/>
<circle cx="57.9" cy="199.3" r="0.72" fill="#3f1650" fill-opacity="1.0"/>
<circle cx="65.7" cy="218.7" r="1.06" fill="#4d1a5e" fill-opacity="1.0"/>
<circle cx="13.0" cy="210.8" r="0.99" fill="#5e2270" fill-opacity="1.0"/>
<circle cx="49.3" cy="193.9" r="0.73" fill="#502068" fill-opacity="1.0"/>
<circle cx="17.8" cy="200.9" r="0.92" fill="#6d2a7c" fill-opacity="1.0"/>
<circle cx="25.6" cy="211.1" r="1.12" fill="#3f1650" fill-opacity="1.0"/>
<circle cx="50.0" cy="194.4" r="1.06" fill="#3f1650" fill-opacity="1.0"/>
<circle cx="17.3" cy="207.4" r="0.75" fill="#502068" fill-opacity="1.0"/>
<circle cx="65.3" cy="201.9" r="0.84" fill="#6d2a7c" fill-opacity="1.0"/>
<circle cx="70.8" cy="200.1" r="0.79" fill="#5e2270" fill-opacity="1.0"/>
<circle cx="24.9" cy="189.6" r="1.06" fill="#6d2a7c" fill-opacity="1.0"/>
<circle cx="24.6" cy="192.8" r="1.07" fill="#4d1a5e" fill-opacity="1.0"/>
<circle cx="55.7" cy="198.7" r="0.97" fill="#502068" fill-opacity="1.0"/>
<circle cx="22.8" cy="193.3" r="1.19" fill="#3f1650" fill-opacity="1.0"/>
<circle cx="26.9" cy="219.8" r="0.78" fill="#502068" fill-opacity="1.0"/>
<circle cx="42.3" cy="213.0" r="1.25" fill="#4d1a5e" fill-opacity="1.0"/>
<circle cx="26.5" cy="192.4" r="0.96" fill="#3f1650" fill-opacity="1.0"/>
<circle cx="36.3" cy="194.9" r="1.23" fill="#4d1a5e" fill-opacity="1.0"/>
<circle cx="17.8" cy="199.2" r="1.20" fill="#3f1650" fill-opacity="1.0"/>
<circle cx="69.1" cy="201.6" r="0.75" fill="#502068" fill-opacity="1.0"/>
<circle cx="62.2" cy="219.9" r="0.86" fill="#4d1a5e" fill-opacity="1.0"/>
<circle cx="23.7" cy="188.8" r="1.33" fill="#4d1a5e" fill-opacity="1.0"/>
<circle cx="67.4" cy="210.4" r="1.12" fill="#3f1650" fill-opacity="1.0"/>
<circle cx="15.2" cy="212.5" r="0.70" fill="#5e2270" fill-opacity="1.0"/>
<circle cx="24.2" cy="218.0" r="1.12" fill="#6d2a7c" fill-opacity="1.0"/>
<circle cx="68.7" cy="206.8" r="1.04" fill="#3f1650" fill-opacity="1.0"/>
<circle cx="52.6" cy="187.3" r="0.75" fill="#502068" fill-opacity="1.0"/>
<circle cx="67.6" cy="190.3" r="0.87" fill="#502068" fill-opacity="1.0"/>
<circle cx="10.1" cy="203.4" r="1.35" fill="#6d2a7c" fill-opacity="1.0"/>
<circle cx="68.5" cy="207.5" r="1.27" fill="#3f1650" fill-opacity="1.0"/>
<circle cx="42.1" cy="203.8" r="0.72" fill="#3f1650" fill-opacity="1.0"/>
<circle cx="53.0" cy="194.7" r="0.71" fill="#3f1650" fill-opacity="1.0"/>
<circle cx="64.0" cy="207.6" r="0.75" fill="#5e2270" fill-opacity="1.0"/>
<circle cx="50.7" cy="218.2" r="0.85" fill="#4d1a5e" fill-opacity="1.0"/>
<circle cx="52.4" cy="210.3" r="0.94" fill="#3f1650" fill-opacity="1.0"/>
<circle cx="22.1" cy="213.3" r="1.18" fill="#502068" fill-opacity="1.0"/>
<circle cx="14.1" cy="201.8" r="0.83" fill="#5e2270" fill-opacity="1.0"/>
<circle cx="24.1" cy="191.4" r="1.19" fill="#6d2a7c" fill-opacity="1.0"/>
<circle cx="16.6" cy="206.7" r="1.10" fill="#5e2270" fill-opacity="1.0"/>
<circle cx="39.6" cy="217.6" r="0.74" fill="#502068" fill-opacity="1.0"/>
<circle cx="18.9" cy="198.0" r="0.84" fill="#502068" fill-opacity="1.0"/>
<circle cx="18.7" cy="185.0" r="0.74" fill="#3f1650" fill-opacity="1.0"/>
<circle cx="37.4" cy="210.1" r="0.90" fill="#4d1a5e" fill-opacity="1.0"/>
<circle cx="70.8" cy="218.4" r="0.91" fill="#5e2270" fill-opacity="1.0"/>
<circle cx="49.8" cy="202.9" r="1.00" fill="#6d2a7c" fill-opacity="1.0"/>
<circle cx="50.5" cy="197.4" r="0.94" fill="#6d2a7c" fill-opacity="1.0"/>
<circle cx="37.0" cy="187.1" r="0.75" fill="#4d1a5e" fill-opacity="1.0"/>
<circle cx="31.4" cy="219.3" r="0.78" fill="#5e2270" fill-opacity="1.0"/>
<circle cx="33.2" cy="212.2" r="0.90" fill="#3f1650" fill-opacity="1.0"/>
<circle cx="15.4" cy="209.8" r="0.83" fill="#502068" fill-opacity="1.0"/>
<circle cx="66.1" cy="190.3" r="0.94" fill="#3f1650" fill-opacity="1.0"/>
<circle cx="11.8" cy="198.6" r="1.23" fill="#3f1650" fill-opacity="1.0"/>
<circle cx="12.5" cy="184.3" r="0.74" fill="#4d1a5e" fill-opacity="1.0"/>
<circle cx="25.7" cy="211.4" r="1.28" fill="#6d2a7c" fill-opacity="1.0"/>
<circle cx="32.1" cy="195.7" r="1.32" fill="#4d1a5e" fill-opacity="1.0"/>
<circle cx="26.0" cy="210.2" r="0.91" fill="#6d2a7c" fill-opacity="1.0"/>
<circle cx="28.1" cy="210.4" r="1.09" fill="#4d1a5e" fill-opacity="1.0"/>
<circle cx="11.5" cy="191.9" r="1.01" fill="#3f1650" fill-opacity="1.0"/>
<circle cx="68.2" cy="197.7" r="0.86" fill="#3f1650" fill-opacity="1.0"/>
<circle cx="59.7" cy="188.0" r="1.02" fill="#4d1a5e" fill-opacity="1.0"/>
<circle cx="59.0" cy="211.1" r="1.23" fill="#5e2270" fill-opacity="1.0"/>
<circle cx="47.0" cy="195.5" r="0.91" fill="#6d2a7c" fill-opacity="1.0"/>
<circle cx="57.8" cy="205.6" r="1.03" fill="#3f1650" fill-opacity="1.0"/>
<circle cx="55.9" cy="192.4" r="0.74" fill="#4d1a5e" fill-opacity="1.0"/>
<circle cx="39.4" cy="203.7" r="0.80" fill="#3f1650" fill-opacity="1.0"/>
<circle cx="63.9" cy="220.5" r="0.87" fill="#4d1a5e" fill-opacity="1.0"/>
<circle cx="22.7" cy="199.0" r="1.34" fill="#3f1650" fill-opacity="1.0"/>
<circle cx="20.6" cy="188.1" r="1.00" fill="#5e2270" fill-opacity="1.0"/>
<circle cx="55.6" cy="215.2" r="1.13" fill="#4d1a5e" fill-opacity="1.0"/>
<circle cx="57.6" cy="194.2" r="0.88" fill="#6d2a7c" fill-opacity="1.0"/>
<circle cx="32.8" cy="211.0" r="0.83" fill="#5e2270" fill-opacity="1.0"/>
<circle cx="21.3" cy="191.9" r="0.88" fill="#502068" fill-opacity="1.0"/>
<circle cx="21.5" cy="185.5" r="0.86" fill="#5e2270" fill-opacity="1.0"/>
<circle cx="40.9" cy="191.8" r="1.23" fill="#3f1650" fill-opacity="1.0"/>
<circle cx="70.4" cy="186.9" r="1.01" fill="#5e2270" fill-opacity="1.0"/>
<circle cx="61.3" cy="217.7" r="0.73" fill="#6d2a7c" fill-opacity="1.0"/>
<circle cx="24.2" cy="184.9" r="1.09" fill="#502068" fill-opacity="1.0"/>
<circle cx="21.8" cy="185.9" r="1.03" fill="#5e2270" fill-opacity="1.0"/>
<circle cx="37.4" cy="192.9" r="1.21" fill="#4d1a5e" fill-opacity="1.0"/>
<circle cx="16.5" cy="205.7" r="1.10" fill="#5e2270" fill-opacity="1.0"/>
<circle cx="12.3" cy="195.9" r="0.73" fill="#6d2a7c" fill-opacity="1.0"/>
<circle cx="12.3" cy="210.8" r="1.29" fill="#4d1a5e" fill-opacity="1.0"/>
<circle cx="59.9" cy="198.5" r="0.94" fill="#502068" fill-opacity="1.0"/>
<circle cx="29.0" cy="190.7" r="1.22" fill="#502068" fill-opacity="1.0"/>
<circle cx="39.5" cy="198.5" r="1.22" fill="#502068" fill-opacity="1.0"/>
<circle cx="19.4" cy="203.3" r="1.12" fill="#3f1650" fill-opacity="1.0"/>
<circle cx="52.4" cy="198.6" r="0.88" fill="#6d2a7c" fill-opacity="1.0"/>
<circle cx="35.5" cy="185.0" r="1.18" fill="#6d2a7c" fill-opacity="1.0"/>
<circle cx="35.3" cy="183.7" r="1.20" fill="#6d2a7c" fill-opacity="1.0"/>
<circle cx="49.3" cy="197.8" r="0.96" fill="#4d1a5e" fill-opacity="1.0"/>
<circle cx="36.5" cy="188.9" r="0.77" fill="#4d1a5e" fill-opacity="1.0"/>
<circle cx="34.8" cy="216.5" r="1.00" fill="#5e2270" fill-opacity="1.0"/>
<circle cx="17.9" cy="185.0" r="0.79" fill="#3f1650" fill-opacity="1.0"/>
<circle cx="15.4" cy="206.6" r="0.94" fill="#502068" fill-opacity="1.0"/>
<circle cx="20.5" cy="196.2" r="0.81" fill="#5e2270" fill-opacity="1.0"/>
<circle cx="66.5" cy="187.1" r="1.02" fill="#5e2270" fill-opacity="1.0"/>
<circle cx="28.4" cy="214.8" r="0.73" fill="#3f1650" fill-opacity="1.0"/>
<circle cx="29.2" cy="206.1" r="1.11" fill="#4d1a5e" fill-opacity="1.0"/>
<circle cx="65.2" cy="206.6" r="1.24" fill="#5e2270" fill-opacity="1.0"/>
<circle cx="49.1" cy="215.6" r="1.10" fill="#502068" fill-opacity="1.0"/>
<circle cx="61.6" cy="214.5" r="0.82" fill="#5e2270" fill-opacity="1.0"/>
<circle cx="12.5" cy="218.7" r="0.80" fill="#6d2a7c" fill-opacity="1.0"/>
<circle cx="17.5" cy="192.4" r="1.17" fill="#5e2270" fill-opacity="1.0"/>
<circle cx="12.5" cy="204.4" r="1.19" fill="#4d1a5e" fill-opacity="1.0"/>
<circle cx="50.7" cy="195.3" r="0.95" fill="#3f1650" fill-opacity="1.0"/>
<circle cx="43.6" cy="206.8" r="0.90" fill="#3f1650" fill-opacity="1.0"/>
<circle cx="28.8" cy="192.5" r="0.95" fill="#6d2a7c" fill-opacity="1.0"/>
<circle cx="37.3" cy="199.7" r="0.72" fill="#502068" fill-opacity="1.0"/>
<circle cx="70.2" cy="200.7" r="0.99" fill="#502068" fill-opacity="1.0"/>
<circle cx="57.6" cy="200.4" r="0.82" fill="#3f1650" fill-opacity="1.0"/>
<circle cx="34.4" cy="185.6" r="0.93" fill="#6d2a7c" fill-opacity="1.0"/>
<circle cx="15.6" cy="199.8" r="1.03" fill="#4d1a5e" fill-opacity="1.0"/>
<circle cx="12.5" cy="188.0" r="1.30" fill="#6d2a7c" fill-opacity="1.0"/>
<circle cx="57.4" cy="202.4" r="0.74" fill="#502068" fill-opacity="1.0"/>
<circle cx="64.6" cy="207.8" r="1.21" fill="#4d1a5e" fill-opacity="1.0"/>
<circle cx="62.3" cy="220.9" r="1.18" fill="#4d1a5e" fill-opacity="1.0"/>
<circle cx="21.8" cy="220.3" r="1.02" fill="#5e2270" fill-opacity="1.0"/>
<circle cx="51.9" cy="210.4" r="0.84" fill="#6d2a7c" fill-opacity="1.0"/>
<circle cx="47.2" cy="192.6" r="0.91" fill="#502068" fill-opacity="1.0"/>
<circle cx="26.8" cy="214.0" r="0.79" fill="#502068" fill-opacity="1.0"/>
<circle cx="68.8" cy="201.2" r="1.08" fill="#502068" fill-opacity="1.0"/>
<circle cx="40.9" cy="195.1" r="0.72" fill="#5e2270" fill-opacity="1.0"/>
<circle cx="34.6" cy="207.2" r="0.88" fill="#6d2a7c" fill-opacity="1.0"/>
<circle cx="64.6" cy="189.4" r="1.21" fill="#4d1a5e" fill-opacity="1.0"/>
<circle cx="56.9" cy="184.8" r="1.26" fill="#3f1650" fill-opacity="1.0"/>
<circle cx="43.9" cy="205.0" r="1.27" fill="#4d1a5e" fill-opacity="1.0"/>
<circle cx="25.4" cy="203.4" r="1.26" fill="#6d2a7c" fill-opacity="1.0"/>
<circle cx="26.2" cy="220.6" r="1.08" fill="#6d2a7c" fill-opacity="1.0"/>
<circle cx="30.2" cy="186.1" r="0.85" fill="#502068" fill-opacity="1.0"/>
<circle cx="55.4" cy="184.8" r="1.23" fill="#6d2a7c" fill-opacity="1.0"/>
<circle cx="28.9" cy="219.7" r="1.27" fill="#6d2a7c" fill-opacity="1.0"/>
<circle cx="54.7" cy="211.4" r="0.84" fill="#6d2a7c" fill-opacity="1.0"/>
<circle cx="47.6" cy="199.4" r="1.03" fill="#4d1a5e" fill-opacity="1.0"/>
<circle cx="18.1" cy="191.6" r="1.12" fill="#4d1a5e" fill-opacity="1.0"/>
<circle cx="13.3" cy="204.6" r="0.90" fill="#502068" fill-opacity="1.0"/>
<circle cx="31.8" cy="191.5" r="1.08" fill="#502068" fill-opacity="1.0"/>
<circle cx="18.2" cy="196.9" r="1.24" fill="#5e2270" fill-opacity="1.0"/>
<circle cx="18.2" cy="218.6" r="0.86" fill="#5e2270" fill-opacity="1.0"/>
<circle cx="37.5" cy="185.4" r="0.79" fill="#6d2a7c" fill-opacity="1.0"/>
<circle cx="34.5" cy="193.0" r="0.71" fill="#502068" fill-opacity="1.0"/>
<circle cx="64.5" cy="205.6" r="1.08" fill="#502068" fill-opacity="1.0"/>
<circle cx="67.2" cy="210.9" r="0.86" fill="#4d1a5e" fill-opacity="1.0"/>
<circle cx="12.7" cy="203.2" r="0.96" fill="#5e2270" fill-opacity="1.0"/>
<circle cx="19.7" cy="217.6" r="0.77" fill="#502068" fill-opacity="1.0"/>
<circle cx="43.6" cy="218.8" r="0.79" fill="#5e2270" fill-opacity="1.0"/>
<circle cx="41.6" cy="207.4" r="1.12" fill="#3f1650" fill-opacity="1.0"/>
<circle cx="59.6" cy="189.6" r="0.90" fill="#6d2a7c" fill-opacity="1.0"/>
<circle cx="48.2" cy="220.8" r="1.17" fill="#3f1650" fill-opacity="1.0"/>
<circle cx="53.6" cy="183.2" r="1.25" fill="#3f1650" fill-opacity="1.0"/>
<circle cx="14.9" cy="207.9" r="0.81" fill="#4d1a5e" fill-opacity="1.0"/>
<circle cx="25.9" cy="207.5" r="0.78" fill="#6d2a7c" fill-opacity="1.0"/>
<circle cx="53.4" cy="193.1" r="1.06" fill="#3f1650" fill-opacity="1.0"/>
<circle cx="51.8" cy="217.9" r="1.33" fill="#6d2a7c" fill-opacity="1.0"/>
<circle cx="49.2" cy="219.7" r="0.84" fill="#502068" fill-opacity="1.0"/>
<circle cx="10.9" cy="192.9" r="0.85" fill="#5e2270" fill-opacity="1.0"/>
<circle cx="67.6" cy="211.4" r="0.91" fill="#3f1650" fill-opacity="1.0"/>
<circle cx="30.0" cy="192.1" r="1.29" fill="#502068" fill-opacity="1.0"/>
<circle cx="38.6" cy="214.9" r="1.15" fill="#4d1a5e" fill-opacity="1.0"/>
<circle cx="36.7" cy="210.5" r="1.07" fill="#6d2a7c" fill-opacity="1.0"/>
<circle cx="58.1" cy="197.9" r="1.08" fill="#502068" fill-opacity="1.0"/>
<circle cx="65.6" cy="188.5" r="0.72" fill="#4d1a5e" fill-opacity="1.0"/>
<circle cx="47.9" cy="189.1" r="1.34" fill="#4d1a5e" fill-opacity="1.0"/>
<circle cx="11.9" cy="188.3" r="1.12" fill="#4d1a5e" fill-opacity="1.0"/>
<circle cx="52.5" cy="211.0" r="0.74" fill="#502068" fill-opacity="1.0"/>
<circle cx="56.5" cy="190.6" r="1.32" fill="#502068" fill-opacity="1.0"/>
<circle cx="64.4" cy="185.5" r="1.26" fill="#3f1650" fill-opacity="1.0"/>
<circle cx="16.5" cy="190.8" r="0.77" fill="#4d1a5e" fill-opacity="1.0"/>
<circle cx="67.9" cy="217.6" r="1.19" fill="#4d1a5e" fill-opacity="1.0"/>
<circle cx="60.3" cy="207.0" r="0.89" fill="#4d1a5e" fill-opacity="1.0"/>
<circle cx="18.1" cy="213.1" r="1.12" fill="#6d2a7c" fill-opacity="1.0"/>
<circle cx="29.5" cy="199.1" r="0.71" fill="#6d2a7c" fill-opacity="1.0"/>
<circle cx="66.7" cy="184.8" r="1.19" fill="#6d2a7c" fill-opacity="1.0"/>
<circle cx="56.9" cy="205.9" r="1.01" fill="#6d2a7c" fill-opacity="1.0"/>
<circle cx="47.7" cy="184.2" r="0.97" fill="#3f1650" fill-opacity="1.0"/>
<circle cx="41.6" cy="186.7" r="1.00" fill="#4d1a5e" fill-opacity="1.0"/>
<circle cx="42.8" cy="191.2" r="1.26" fill="#4d1a5e" fill-opacity="1.0"/>
<circle cx="45.0" cy="193.9" r="0.98" fill="#502068" fill-opacity="1.0"/>
<circle cx="22.3" cy="212.0" r="1.34" fill="#4d1a5e" fill-opacity="1.0"/>
<circle cx="31.2" cy="186.6" r="1.15" fill="#5e2270" fill-opacity="1.0"/>
<circle cx="69.0" cy="205.5" r="1.32" fill="#502068" fill-opacity="1.0"/>
<circle cx="25.9" cy="218.9" r="0.88" fill="#5e2270" fill-opacity="1.0"/>
<circle cx="67.2" cy="191.8" r="0.81" fill="#4d1a5e" fill-opacity="1.0"/>
<circle cx="39.9" cy="220.7" r="1.06" fill="#4d1a5e" fill-opacity="1.0"/>
<circle cx="48.3" cy="196.5" r="0.96" fill="#3f1650" fill-opacity="1.0"/>
<circle cx="64.4" cy="211.3" r="0.97" fill="#4d1a5e" fill-opacity="1.0"/>
<circle cx="32.7" cy="194.5" r="0.98" fill="#502068" fill-opacity="1.0"/>
<circle cx="40.6" cy="197.4" r="1.27" fill="#5e2270" fill-opacity="1.0"/>
<circle cx="67.6" cy="187.8" r="1.09" fill="#502068" fill-opacity="1.0"/>
<circle cx="49.4" cy="196.2" r="0.91" fill="#5e2270" fill-opacity="1.0"/>
<circle cx="62.9" cy="200.1" r="1.06" fill="#6d2a7c" fill-opacity="1.0"/>
<circle cx="20.3" cy="199.7" r="1.20" fill="#502068" fill-opacity="1.0"/>
<circle cx="24.1" cy="195.7" r="1.12" fill="#5e2270" fill-opacity="1.0"/>
<circle cx="41.0" cy="193.2" r="1.19" fill="#502068" fill-opacity="1.0"/>
<circle cx="19.4" cy="188.9" r="0.86" fill="#6d2a7c" fill-opacity="1.0"/>
<circle cx="46.8" cy="196.2" r="0.85" fill="#5e2270" fill-opacity="1.0"/>
<circle cx="25.8" cy="219.3" r="1.35" fill="#5e2270" fill-opacity="1.0"/>
<circle cx="68.7" cy="186.9" r="0.95" fill="#5e2270" fill-opacity="1.0"/>
<circle cx="58.5" cy="210.9" r="0.98" fill="#5e2270" fill-opacity="1.0"/>
<circle cx="16.7" cy="217.6" r="0.88" fill="#3f1650" fill-opacity="1.0"/>
<circle cx="38.3" cy="183.5" r="1.26" fill="#3f1650" fill-opacity="1.0"/>
<circle cx="52.3" cy="202.0" r="1.11" fill="#3f1650" fill-opacity="1.0"/>
<circle cx="11.3" cy="192.8" r="1.18" fill="#4d1a5e" fill-opacity="1.0"/>
<circle cx="55.2" cy="217.5" r="0.98" fill="#502068" fill-opacity="1.0"/>
<circle cx="45.8" cy="207.6" r="1.25" fill="#502068" fill-opacity="1.0"/>
<circle cx="62.0" cy="208.8" r="1.12" fill="#3f1650" fill-opacity="1.0"/>
<circle cx="36.4" cy="192.9" r="1.16" fill="#3f1650" fill-opacity="1.0"/>
<circle cx="24.8" cy="198.2" r="1.16" fill="#5e2270" fill-opacity="1.0"/>
<circle cx="25.3" cy="199.1" r="1.00" fill="#502068" fill-opacity="1.0"/>
<circle cx="62.4" cy="202.7" r="1.13" fill="#5e2270" fill-opacity="1.0"/>
<circle cx="64.6" cy="195.5" r="0.71" fill="#3f1650" fill-opacity="1.0"/>
<circle cx="65.4" cy="187.0" r="0.86" fill="#5e2270" fill-opacity="1.0"/>
<circle cx="19.8" cy="212.7" r="1.31" fill="#502068" fill-opacity="1.0"/>
<circle cx="31.2" cy="215.2" r="1.00" fill="#5e2270" fill-opacity="1.0"/>
<circle cx="53.8" cy="202.5" r="1.12" fill="#6d2a7c" fill-opacity="1.0"/>
<circle cx="41.8" cy="198.6" r="1.32" fill="#5e2270" fill-opacity="1.0"/>
<circle cx="70.4" cy="190.0" r="1.03" fill="#4d1a5e" fill-opacity="1.0"/>
<circle cx="54.5" cy="206.3" r="1.11" fill="#6d2a7c" fill-opacity="1.0"/>
<circle cx="26.7" cy="198.2" r="0.71" fill="#3f1650" fill-opacity="1.0"/>
<circle cx="65.8" cy="206.9" r="1.14" fill="#502068" fill-opacity="1.0"/>
<circle cx="26.2" cy="191.5" r="1.18" fill="#502068" fill-opacity="1.0"/>
<circle cx="69.3" cy="220.8" r="1.32" fill="#3f1650" fill-opacity="1.0"/>
<circle cx="22.9" cy="187.9" r="1.20" fill="#5e2270" fill-opacity="1.0"/>
<circle cx="38.6" cy="204.4" r="0.85" fill="#5e2270" fill-opacity="1.0"/>
<circle cx="31.5" cy="207.3" r="1.23" fill="#3f1650" fill-opacity="1.0"/>
<circle cx="38.6" cy="194.2" r="1.06" fill="#5e2270" fill-opacity="1.0"/>
<circle cx="57.6" cy="200.8" r="1.21" fill="#5e2270" fill-opacity="1.0"/>
<circle cx="26.3" cy="197.3" r="0.86" fill="#3f1650" fill-opacity="1.0"/>
<circle cx="51.4" cy="201.3" r="1.22" fill="#6d2a7c" fill-opacity="1.0"/>
<circle cx="31.8" cy="207.9" r="0.91" fill="#3f1650" fill-opacity="1.0"/>
<circle cx="36.1" cy="207.2" r="1.13" fill="#6d2a7c" fill-opacity="1.0"/>
<circle cx="19.3" cy="194.5" r="0.95" fill="#4d1a5e" fill-opacity="1.0"/>
<circle cx="60.5" cy="217.4" r="1.21" fill="#5e2270" fill-opacity="1.0"/>
<circle cx="42.4" cy="196.1" r="1.08" fill="#4d1a5e" fill-opacity="1.0"/>
<circle cx="22.8" cy="185.7" r="0.89" fill="#502068" fill-opacity="1.0"/>
<circle cx="16.2" cy="188.4" r="0.85" fill="#3f1650" fill-opacity="1.0"/>
<circle cx="31.1" cy="188.8" r="1.29" fill="#502068" fill-opacity="1.0"/>
<circle cx="20.2" cy="216.9" r="1.10" fill="#4d1a5e" fill-opacity="1.0"/>
<circle cx="50.8" cy="217.0" r="1.21" fill="#6d2a7c" fill-opacity="1.0"/>
<circle cx="22.0" cy="209.3" r="1.05" fill="#3f1650" fill-opacity="1.0"/>
<circle cx="50.9" cy="187.4" r="0.78" fill="#3f1650" fill-opacity="1.0"/>
<circle cx="24.3" cy="188.3" r="1.02" fill="#4d1a5e" fill-opacity="1.0"/>
<circle cx="39.5" cy="217.4" r="1.16" fill="#5e2270" fill-opacity="1.0"/>
<circle cx="40.4" cy="203.5" r="1.26" fill="#4d1a5e" fill-opacity="1.0"/>
<circle cx="19.8" cy="195.2" r="1.15" fill="#3f1650" fill-opacity="1.0"/>
<circle cx="50.6" cy="214.9" r="0.94" fill="#3f1650" fill-opacity="1.0"/>
<circle cx="71.0" cy="208.7" r="0.82" fill="#6d2a7c" fill-opacity="1.0"/>
<circle cx="48.8" cy="184.1" r="1.10" fill="#6d2a7c" fill-opacity="1.0"/>
<circle cx="59.3" cy="186.6" r="1.01" fill="#5e2270" fill-opacity="1.0"/>
<circle cx="12.1" cy="210.3" r="1.11" fill="#6d2a7c" fill-opacity="1.0"/>
<circle cx="15.8" cy="208.0" r="0.92" fill="#502068" fill-opacity="1.0"/>
<circle cx="43.8" cy="217.7" r="0.88" fill="#6d2a7c" fill-opacity="1.0"/>
<circle cx="35.8" cy="204.1" r="1.24" fill="#6d2a7c" fill-opacity="1.0"/>
<circle cx="31.7" cy="201.8" r="0.92" fill="#6d2a7c" fill-opacity="1.0"/>
<circle cx="63.3" cy="196.1" r="0.83" fill="#3f1650" fill-opacity="1.0"/>
<circle cx="58.3" cy="195.6" r="0.91" fill="#6d2a7c" fill-opacity="1.0"/>
<circle cx="17.8" cy="220.0" r="0.76" fill="#4d1a5e" fill-opacity="1.0"/>
<circle cx="34.3" cy="204.1" r="0.96" fill="#502068" fill-opacity="1.0"/>
<circle cx="13.0" cy="194.4" r="0.70" fill="#5e2270" fill-opacity="1.0"/>
<circle cx="60.1" cy="201.1" r="1.20" fill="#4d1a5e" fill-opacity="1.0"/>
<circle cx="58.1" cy="217.6" r="1.10" fill="#502068" fill-opacity="1.0"/>
<circle cx="19.0" cy="208.6" r="1.15" fill="#4d1a5e" fill-opacity="1.0"/>
<circle cx="23.0" cy="208.3" r="1.00" fill="#5e2270" fill-opacity="1.0"/>
<circle cx="16.2" cy="189.9" r="0.72" fill="#4d1a5e" fill-opacity="1.0"/>
<circle cx="65.8" cy="207.9" r="0.94" fill="#5e2270" fill-opacity="1.0"/>
<circle cx="58.0" cy="204.4" r="0.87" fill="#6d2a7c" fill-opacity="1.0"/>
<circle cx="21.3" cy="184.3" r="0.71" fill="#502068" fill-opacity="1.0"/>
<circle cx="49.1" cy="218.5" r="0.74" fill="#502068" fill-opacity="1.0"/>
<circle cx="41.9" cy="214.3" r="1.20" fill="#3f1650" fill-opacity="1.0"/>
<circle cx="45.1" cy="217.9" r="0.77" fill="#d07ac0" fill-opacity="1.0"/>
<circle cx="51.5" cy="205.6" r="1.10" fill="#c468b4" fill-opacity="1.0"/>
<circle cx="39.0" cy="198.7" r="0.56" fill="#e0a0d0" fill-opacity="1.0"/>
<circle cx="22.9" cy="188.8" r="0.51" fill="#d07ac0" fill-opacity="1.0"/>
<circle cx="10.6" cy="208.4" r="1.09" fill="#d07ac0" fill-opacity="1.0"/>
<circle cx="23.3" cy="187.6" r="0.78" fill="#dc92cc" fill-opacity="1.0"/>
<circle cx="53.9" cy="192.2" r="0.94" fill="#c468b4" fill-opacity="1.0"/>
<circle cx="66.3" cy="196.9" r="0.95" fill="#c468b4" fill-opacity="1.0"/>
<circle cx="54.5" cy="186.2" r="0.88" fill="#e0a0d0" fill-opacity="1.0"/>
<circle cx="38.1" cy="218.4" r="0.65" fill="#d07ac0" fill-opacity="1.0"/>
<circle cx="53.7" cy="183.4" r="0.51" fill="#d07ac0" fill-opacity="1.0"/>
<circle cx="33.7" cy="194.9" r="0.86" fill="#e0a0d0" fill-opacity="1.0"/>
<circle cx="47.1" cy="195.0" r="1.07" fill="#e0a0d0" fill-opacity="1.0"/>
<circle cx="38.7" cy="189.3" r="1.08" fill="#d07ac0" fill-opacity="1.0"/>
<circle cx="32.2" cy="207.5" r="0.88" fill="#e0a0d0" fill-opacity="1.0"/>
<circle cx="39.1" cy="212.6" r="0.77" fill="#dc92cc" fill-opacity="1.0"/>
<circle cx="57.9" cy="204.5" r="0.68" fill="#d07ac0" fill-opacity="1.0"/>
<circle cx="47.9" cy="207.7" r="0.98" fill="#dc92cc" fill-opacity="1.0"/>
<circle cx="63.0" cy="210.6" r="0.51" fill="#c468b4" fill-opacity="1.0"/>
<circle cx="46.7" cy="194.7" r="0.76" fill="#c468b4" fill-opacity="1.0"/>
<circle cx="33.0" cy="209.0" r="0.86" fill="#c468b4" fill-opacity="1.0"/>
<circle cx="59.3" cy="193.8" r="0.50" fill="#dc92cc" fill-opacity="1.0"/>
<circle cx="26.3" cy="189.0" r="1.05" fill="#d07ac0" fill-opacity="1.0"/>
<circle cx="27.6" cy="188.3" r="1.03" fill="#c468b4" fill-opacity="1.0"/>
<circle cx="26.7" cy="215.3" r="0.98" fill="#e0a0d0" fill-opacity="1.0"/>
<circle cx="31.2" cy="186.2" r="0.83" fill="#e0a0d0" fill-opacity="1.0"/>
<circle cx="22.2" cy="211.5" r="1.06" fill="#c468b4" fill-opacity="1.0"/>
<circle cx="28.9" cy="185.2" r="0.74" fill="#c468b4" fill-opacity="1.0"/>
<circle cx="66.5" cy="205.3" r="0.51" fill="#e0a0d0" fill-opacity="1.0"/>
<circle cx="38.0" cy="186.3" r="0.98" fill="#d07ac0" fill-opacity="1.0"/>
<circle cx="24.2" cy="205.0" r="1.04" fill="#dc92cc" fill-opacity="1.0"/>
<circle cx="39.1" cy="205.4" r="0.61" fill="#c468b4" fill-opacity="1.0"/>
<circle cx="15.6" cy="213.6" r="0.67" fill="#dc92cc" fill-opacity="1.0"/>
<circle cx="34.6" cy="202.7" r="0.59" fill="#d07ac0" fill-opacity="1.0"/>
<circle cx="66.3" cy="201.7" r="1.02" fill="#dc92cc" fill-opacity="1.0"/>
<circle cx="48.6" cy="212.9" r="0.59" fill="#d07ac0" fill-opacity="1.0"/>
<circle cx="31.0" cy="202.7" r="0.51" fill="#d07ac0" fill-opacity="1.0"/>
<circle cx="22.5" cy="216.1" r="0.84" fill="#c468b4" fill-opacity="1.0"/>
<circle cx="26.0" cy="212.6" r="0.76" fill="#e0a0d0" fill-opacity="1.0"/>
<circle cx="56.8" cy="214.1" r="1.08" fill="#dc92cc" fill-opacity="1.0"/>
<circle cx="61.5" cy="195.9" r="1.10" fill="#e0a0d0" fill-opacity="1.0"/>
<circle cx="15.1" cy="184.9" r="0.83" fill="#e0a0d0" fill-opacity="1.0"/>
<circle cx="39.7" cy="215.1" r="1.04" fill="#e0a0d0" fill-opacity="1.0"/>
<circle cx="66.3" cy="209.8" r="0.55" fill="#dc92cc" fill-opacity="1.0"/>
<circle cx="44.4" cy="207.3" r="1.07" fill="#e0a0d0" fill-opacity="1.0"/>
<circle cx="21.1" cy="215.3" r="0.72" fill="#c468b4" fill-opacity="1.0"/>
<circle cx="70.5" cy="191.4" r="0.52" fill="#dc92cc" fill-opacity="1.0"/>
<circle cx="67.4" cy="185.3" r="0.83" fill="#d07ac0" fill-opacity="1.0"/>
<circle cx="61.1" cy="184.8" r="0.97" fill="#e0a0d0" fill-opacity="1.0"/>
<circle cx="13.4" cy="188.5" r="0.95" fill="#c468b4" fill-opacity="1.0"/>
<circle cx="51.3" cy="194.4" r="0.85" fill="#d07ac0" fill-opacity="1.0"/>
<circle cx="38.7" cy="197.1" r="0.73" fill="#dc92cc" fill-opacity="1.0"/>
<circle cx="39.4" cy="189.4" r="0.64" fill="#c468b4" fill-opacity="1.0"/>
<circle cx="65.8" cy="216.9" r="0.78" fill="#c468b4" fill-opacity="1.0"/>
<circle cx="58.7" cy="189.0" r="1.00" fill="#d07ac0" fill-opacity="1.0"/>
<circle cx="67.0" cy="215.9" r="1.03" fill="#c468b4" fill-opacity="1.0"/>
<circle cx="57.5" cy="219.4" r="1.06" fill="#e0a0d0" fill-opacity="1.0"/>
<circle cx="61.4" cy="206.9" r="0.77" fill="#dc92cc" fill-opacity="1.0"/>
<circle cx="29.7" cy="191.9" r="0.57" fill="#dc92cc" fill-opacity="1.0"/>
<circle cx="18.7" cy="191.4" r="0.53" fill="#e0a0d0" fill-opacity="1.0"/>
<circle cx="43.8" cy="188.5" r="1.02" fill="#dc92cc" fill-opacity="1.0"/>
<circle cx="35.5" cy="192.4" r="0.52" fill="#dc92cc" fill-opacity="1.0"/>
<circle cx="30.4" cy="189.4" r="0.79" fill="#dc92cc" fill-opacity="1.0"/>
<circle cx="37.8" cy="201.3" r="0.59" fill="#d07ac0" fill-opacity="1.0"/>
<circle cx="48.5" cy="212.9" r="1.06" fill="#e0a0d0" fill-opacity="1.0"/>
<circle cx="61.0" cy="187.5" r="0.95" fill="#dc92cc" fill-opacity="1.0"/>
<circle cx="36.4" cy="192.9" r="0.64" fill="#c468b4" fill-opacity="1.0"/>
<circle cx="16.0" cy="194.0" r="1.04" fill="#d07ac0" fill-opacity="1.0"/>
<circle cx="60.8" cy="220.2" r="0.59" fill="#d07ac0" fill-opacity="1.0"/>
<circle cx="37.0" cy="202.3" r="0.81" fill="#e0a0d0" fill-opacity="1.0"/>
<circle cx="10.1" cy="214.6" r="0.82" fill="#c468b4" fill-opacity="1.0"/>
<circle cx="32.0" cy="184.5" r="0.75" fill="#dc92cc" fill-opacity="1.0"/>
<circle cx="44.9" cy="188.2" r="0.61" fill="#c468b4" fill-opacity="1.0"/>
<circle cx="53.4" cy="190.5" r="0.55" fill="#d07ac0" fill-opacity="1.0"/>
<circle cx="64.2" cy="210.8" r="0.96" fill="#c468b4" fill-opacity="1.0"/>
<circle cx="22.6" cy="206.3" r="0.92" fill="#c468b4" fill-opacity="1.0"/>
<circle cx="45.6" cy="190.7" r="0.54" fill="#e0a0d0" fill-opacity="1.0"/>
<circle cx="61.3" cy="217.8" r="0.81" fill="#dc92cc" fill-opacity="1.0"/>
<circle cx="30.4" cy="215.0" r="1.02" fill="#e0a0d0" fill-opacity="1.0"/>
<circle cx="15.5" cy="198.6" r="0.96" fill="#c468b4" fill-opacity="1.0"/>
<circle cx="63.2" cy="193.1" r="0.61" fill="#dc92cc" fill-opacity="1.0"/>
<circle cx="12.2" cy="209.7" r="0.84" fill="#d07ac0" fill-opacity="1.0"/>
<circle cx="31.7" cy="218.4" r="1.08" fill="#d07ac0" fill-opacity="1.0"/>
<circle cx="17.4" cy="210.2" r="0.99" fill="#dc92cc" fill-opacity="1.0"/>
<circle cx="57.5" cy="216.0" r="0.85" fill="#d07ac0" fill-opacity="1.0"/>
<circle cx="27.8" cy="187.1" r="0.94" fill="#e0a0d0" fill-opacity="1.0"/>
<circle cx="41.3" cy="203.2" r="0.82" fill="#d07ac0" fill-opacity="1.0"/>
<circle cx="24.9" cy="186.4" r="0.87" fill="#c468b4" fill-opacity="1.0"/>
<circle cx="16.3" cy="192.5" r="0.99" fill="#d07ac0" fill-opacity="1.0"/>
<circle cx="11.2" cy="218.2" r="0.94" fill="#dc92cc" fill-opacity="1.0"/>
</g>
<ellipse cx="37.0" cy="190.8" rx="6.2" ry="3.2" fill="#f0e2ec"/>
<ellipse cx="25.5" cy="207.0" rx="3.2" ry="4.0" fill="#e7a8d4"/>
<ellipse cx="21.5" cy="198.5" rx="2.6" ry="1.6" fill="#c878b8"/>
<ellipse cx="67.5" cy="208.0" rx="3.6" ry="6.5" fill="#f0e0ea"/>
<ellipse cx="33.5" cy="218.5" rx="6.0" ry="2.6" fill="#ecd2e2"/>
</g></g>
<g clip-path="url(#c10)"><g filter="url(#hb)">
<rect x="71.40" y="183.00" width="60.20" height="37.60" fill="#ec94ba"/>
<circle cx="72.5" cy="205.8" r="0.80" fill="#f8e0ea" fill-opacity="0.9"/>
<circle cx="114.3" cy="186.9" r="1.01" fill="#f8e0ea" fill-opacity="0.9"/>
<circle cx="74.2" cy="187.7" r="0.75" fill="#f2b4cc" fill-opacity="0.9"/>
<circle cx="78.1" cy="187.6" r="1.02" fill="#f8e0ea" fill-opacity="0.9"/>
<circle cx="123.9" cy="188.6" r="0.80" fill="#faeef2" fill-opacity="0.9"/>
<circle cx="81.4" cy="214.4" r="1.06" fill="#faeef2" fill-opacity="0.9"/>
<circle cx="113.7" cy="205.7" r="0.82" fill="#f6d0de" fill-opacity="0.9"/>
<circle cx="95.5" cy="218.8" r="0.94" fill="#f2b4cc" fill-opacity="0.9"/>
<circle cx="95.8" cy="214.9" r="0.90" fill="#f2b4cc" fill-opacity="0.9"/>
<circle cx="121.1" cy="215.2" r="0.44" fill="#f8e0ea" fill-opacity="0.9"/>
<circle cx="129.8" cy="218.5" r="0.57" fill="#faeef2" fill-opacity="0.9"/>
<circle cx="111.9" cy="183.4" r="0.48" fill="#f8e0ea" fill-opacity="0.9"/>
<circle cx="75.6" cy="199.5" r="0.75" fill="#f6d0de" fill-opacity="0.9"/>
<circle cx="85.2" cy="199.0" r="0.68" fill="#faeef2" fill-opacity="0.9"/>
<circle cx="110.0" cy="213.8" r="1.02" fill="#f6d0de" fill-opacity="0.9"/>
<circle cx="73.5" cy="207.4" r="0.59" fill="#f2b4cc" fill-opacity="0.9"/>
<circle cx="109.7" cy="213.6" r="0.43" fill="#f6d0de" fill-opacity="0.9"/>
<circle cx="86.7" cy="202.8" r="0.70" fill="#f6d0de" fill-opacity="0.9"/>
<circle cx="88.9" cy="194.6" r="0.85" fill="#f6d0de" fill-opacity="0.9"/>
<circle cx="75.1" cy="219.4" r="1.04" fill="#f2b4cc" fill-opacity="0.9"/>
<circle cx="76.6" cy="205.4" r="1.05" fill="#faeef2" fill-opacity="0.9"/>
<circle cx="79.0" cy="188.0" r="0.61" fill="#faeef2" fill-opacity="0.9"/>
<circle cx="106.6" cy="193.4" r="0.92" fill="#f2b4cc" fill-opacity="0.9"/>
<circle cx="122.6" cy="206.2" r="0.80" fill="#faeef2" fill-opacity="0.9"/>
<circle cx="83.7" cy="210.0" r="0.72" fill="#f2b4cc" fill-opacity="0.9"/>
<circle cx="108.8" cy="200.8" r="0.62" fill="#f8e0ea" fill-opacity="0.9"/>
<circle cx="91.8" cy="190.2" r="0.78" fill="#faeef2" fill-opacity="0.9"/>
<circle cx="72.1" cy="196.4" r="1.00" fill="#f8e0ea" fill-opacity="0.9"/>
<circle cx="91.2" cy="195.4" r="0.59" fill="#f8e0ea" fill-opacity="0.9"/>
<circle cx="89.4" cy="212.3" r="0.51" fill="#f6d0de" fill-opacity="0.9"/>
<circle cx="108.4" cy="196.2" r="0.86" fill="#faeef2" fill-opacity="0.9"/>
<circle cx="122.3" cy="196.5" r="0.93" fill="#f8e0ea" fill-opacity="0.9"/>
<circle cx="131.7" cy="208.8" r="1.05" fill="#faeef2" fill-opacity="0.9"/>
<circle cx="92.0" cy="196.4" r="0.87" fill="#f2b4cc" fill-opacity="0.9"/>
<circle cx="121.5" cy="202.7" r="0.92" fill="#faeef2" fill-opacity="0.9"/>
<circle cx="87.8" cy="207.0" r="0.84" fill="#f8e0ea" fill-opacity="0.9"/>
<circle cx="96.6" cy="186.9" r="0.69" fill="#f6d0de" fill-opacity="0.9"/>
<circle cx="101.8" cy="219.6" r="0.80" fill="#faeef2" fill-opacity="0.9"/>
<circle cx="123.2" cy="193.6" r="0.83" fill="#f6d0de" fill-opacity="0.9"/>
<circle cx="94.6" cy="200.2" r="0.72" fill="#f2b4cc" fill-opacity="0.9"/>
<circle cx="89.3" cy="197.8" r="0.79" fill="#faeef2" fill-opacity="0.9"/>
<circle cx="110.9" cy="183.3" r="0.92" fill="#faeef2" fill-opacity="0.9"/>
<circle cx="94.6" cy="194.4" r="0.78" fill="#f8e0ea" fill-opacity="0.9"/>
<circle cx="98.0" cy="197.3" r="0.56" fill="#f2b4cc" fill-opacity="0.9"/>
<circle cx="91.2" cy="215.0" r="0.99" fill="#f2b4cc" fill-opacity="0.9"/>
<circle cx="83.9" cy="199.2" r="1.04" fill="#f6d0de" fill-opacity="0.9"/>
<circle cx="73.0" cy="192.7" r="1.03" fill="#f2b4cc" fill-opacity="0.9"/>
<circle cx="127.5" cy="212.4" r="0.78" fill="#faeef2" fill-opacity="0.9"/>
<circle cx="103.0" cy="202.7" r="0.88" fill="#faeef2" fill-opacity="0.9"/>
<circle cx="99.7" cy="184.5" r="0.87" fill="#faeef2" fill-opacity="0.9"/>
<circle cx="129.2" cy="208.7" r="0.77" fill="#f6d0de" fill-opacity="0.9"/>
<circle cx="96.4" cy="202.0" r="0.85" fill="#f8e0ea" fill-opacity="0.9"/>
<circle cx="125.1" cy="219.6" r="0.74" fill="#faeef2" fill-opacity="0.9"/>
<circle cx="118.2" cy="217.2" r="0.81" fill="#f6d0de" fill-opacity="0.9"/>
<circle cx="81.8" cy="195.1" r="1.08" fill="#f2b4cc" fill-opacity="0.9"/>
<circle cx="102.7" cy="187.2" r="1.03" fill="#f2b4cc" fill-opacity="0.9"/>
<circle cx="121.5" cy="220.6" r="1.02" fill="#faeef2" fill-opacity="0.9"/>
<circle cx="109.9" cy="202.9" r="0.97" fill="#f8e0ea" fill-opacity="0.9"/>
<circle cx="102.2" cy="190.1" r="0.53" fill="#f6d0de" fill-opacity="0.9"/>
<circle cx="92.9" cy="220.8" r="0.85" fill="#f6d0de" fill-opacity="0.9"/>
<circle cx="113.6" cy="183.4" r="0.40" fill="#f6d0de" fill-opacity="0.9"/>
<circle cx="127.3" cy="198.1" r="0.47" fill="#f6d0de" fill-opacity="0.9"/>
<circle cx="112.2" cy="190.5" r="0.75" fill="#f2b4cc" fill-opacity="0.9"/>
<circle cx="124.5" cy="217.0" r="0.76" fill="#f8e0ea" fill-opacity="0.9"/>
<circle cx="106.4" cy="198.6" r="0.49" fill="#f8e0ea" fill-opacity="0.9"/>
<circle cx="103.0" cy="202.4" r="0.42" fill="#f6d0de" fill-opacity="0.9"/>
<circle cx="81.8" cy="202.9" r="0.98" fill="#faeef2" fill-opacity="0.9"/>
<circle cx="120.6" cy="185.4" r="0.41" fill="#f2b4cc" fill-opacity="0.9"/>
<circle cx="80.2" cy="192.1" r="0.59" fill="#f6d0de" fill-opacity="0.9"/>
<circle cx="87.7" cy="186.8" r="1.03" fill="#f6d0de" fill-opacity="0.9"/>
<circle cx="92.7" cy="200.1" r="0.67" fill="#f6d0de" fill-opacity="0.9"/>
<circle cx="84.8" cy="198.0" r="0.93" fill="#f6d0de" fill-opacity="0.9"/>
<circle cx="98.2" cy="206.6" r="0.57" fill="#f6d0de" fill-opacity="0.9"/>
<circle cx="81.1" cy="205.3" r="0.52" fill="#f6d0de" fill-opacity="0.9"/>
<circle cx="126.2" cy="214.0" r="0.61" fill="#f2b4cc" fill-opacity="0.9"/>
<circle cx="130.0" cy="201.8" r="1.06" fill="#f8e0ea" fill-opacity="0.9"/>
<circle cx="112.7" cy="208.6" r="0.81" fill="#faeef2" fill-opacity="0.9"/>
<circle cx="90.3" cy="216.3" r="0.74" fill="#f8e0ea" fill-opacity="0.9"/>
<circle cx="76.7" cy="189.5" r="0.67" fill="#f6d0de" fill-opacity="0.9"/>
<circle cx="130.7" cy="194.0" r="0.79" fill="#f6d0de" fill-opacity="0.9"/>
<circle cx="91.8" cy="216.1" r="0.64" fill="#f6d0de" fill-opacity="0.9"/>
<circle cx="130.0" cy="199.0" r="1.04" fill="#f8e0ea" fill-opacity="0.9"/>
<circle cx="95.0" cy="200.7" r="0.64" fill="#faeef2" fill-opacity="0.9"/>
<circle cx="73.5" cy="208.2" r="0.64" fill="#f8e0ea" fill-opacity="0.9"/>
<circle cx="86.1" cy="187.9" r="0.54" fill="#f8e0ea" fill-opacity="0.9"/>
<circle cx="105.3" cy="200.7" r="0.96" fill="#f8e0ea" fill-opacity="0.9"/>
<circle cx="81.1" cy="196.4" r="0.91" fill="#faeef2" fill-opacity="0.9"/>
<circle cx="109.8" cy="205.1" r="0.61" fill="#faeef2" fill-opacity="0.9"/>
<circle cx="102.2" cy="191.6" r="0.72" fill="#f8e0ea" fill-opacity="0.9"/>
<circle cx="128.9" cy="220.9" r="0.82" fill="#faeef2" fill-opacity="0.9"/>
<circle cx="107.2" cy="197.0" r="0.57" fill="#f8e0ea" fill-opacity="0.9"/>
<circle cx="79.1" cy="211.5" r="0.87" fill="#f6d0de" fill-opacity="0.9"/>
<circle cx="104.5" cy="193.3" r="0.94" fill="#faeef2" fill-opacity="0.9"/>
<circle cx="73.2" cy="210.3" r="0.50" fill="#f6d0de" fill-opacity="0.9"/>
<circle cx="95.2" cy="186.3" r="0.52" fill="#f8e0ea" fill-opacity="0.9"/>
<circle cx="91.0" cy="208.2" r="0.48" fill="#f2b4cc" fill-opacity="0.9"/>
<circle cx="120.5" cy="211.8" r="0.53" fill="#f2b4cc" fill-opacity="0.9"/>
<circle cx="76.8" cy="194.0" r="0.97" fill="#faeef2" fill-opacity="0.9"/>
<circle cx="88.6" cy="198.3" r="1.04" fill="#f8e0ea" fill-opacity="0.9"/>
<circle cx="128.5" cy="189.7" r="0.66" fill="#f2b4cc" fill-opacity="0.9"/>
<circle cx="126.1" cy="184.0" r="0.89" fill="#faeef2" fill-opacity="0.9"/>
<circle cx="86.6" cy="215.2" r="0.65" fill="#f6d0de" fill-opacity="0.9"/>
<circle cx="82.5" cy="187.4" r="1.04" fill="#f8e0ea" fill-opacity="0.9"/>
<circle cx="114.9" cy="184.5" r="0.43" fill="#f8e0ea" fill-opacity="0.9"/>
<circle cx="97.7" cy="211.8" r="0.51" fill="#f6d0de" fill-opacity="0.9"/>
<circle cx="105.1" cy="206.9" r="1.06" fill="#f8e0ea" fill-opacity="0.9"/>
<circle cx="106.2" cy="210.2" r="0.58" fill="#faeef2" fill-opacity="0.9"/>
<circle cx="112.3" cy="204.9" r="1.05" fill="#f6d0de" fill-opacity="0.9"/>
<circle cx="122.3" cy="212.5" r="0.60" fill="#f6d0de" fill-opacity="0.9"/>
<circle cx="124.8" cy="205.2" r="0.89" fill="#f8e0ea" fill-opacity="0.9"/>
<circle cx="112.9" cy="184.4" r="0.62" fill="#f2b4cc" fill-opacity="0.9"/>
<circle cx="117.1" cy="186.3" r="0.89" fill="#faeef2" fill-opacity="0.9"/>
<circle cx="132.3" cy="206.4" r="0.55" fill="#f6d0de" fill-opacity="0.9"/>
<circle cx="92.7" cy="219.1" r="0.71" fill="#f2b4cc" fill-opacity="0.9"/>
<circle cx="113.6" cy="211.1" r="0.98" fill="#faeef2" fill-opacity="0.9"/>
<circle cx="102.4" cy="208.7" r="0.54" fill="#f8e0ea" fill-opacity="0.9"/>
<circle cx="101.3" cy="190.2" r="1.07" fill="#f2b4cc" fill-opacity="0.9"/>
<circle cx="82.0" cy="189.2" r="0.95" fill="#f8e0ea" fill-opacity="0.9"/>
<circle cx="104.6" cy="192.5" r="0.44" fill="#f2b4cc" fill-opacity="0.9"/>
<circle cx="92.6" cy="186.5" r="0.85" fill="#f8e0ea" fill-opacity="0.9"/>
<circle cx="79.7" cy="209.9" r="0.87" fill="#f8e0ea" fill-opacity="0.9"/>
<circle cx="114.4" cy="183.2" r="0.88" fill="#f8e0ea" fill-opacity="0.9"/>
<circle cx="128.5" cy="196.4" r="0.61" fill="#f8e0ea" fill-opacity="0.9"/>
<circle cx="107.2" cy="192.1" r="0.84" fill="#f6d0de" fill-opacity="0.9"/>
<circle cx="104.8" cy="211.9" r="0.52" fill="#f8e0ea" fill-opacity="0.9"/>
<circle cx="107.9" cy="200.5" r="0.94" fill="#f8e0ea" fill-opacity="0.9"/>
<circle cx="78.4" cy="194.0" r="0.65" fill="#f8e0ea" fill-opacity="0.9"/>
<circle cx="74.0" cy="217.0" r="0.61" fill="#f6d0de" fill-opacity="0.9"/>
<circle cx="114.2" cy="200.0" r="0.48" fill="#f2b4cc" fill-opacity="0.9"/>
<circle cx="98.5" cy="204.6" r="0.60" fill="#f6d0de" fill-opacity="0.9"/>
<circle cx="74.2" cy="200.8" r="1.09" fill="#faeef2" fill-opacity="0.9"/>
<circle cx="76.5" cy="210.3" r="1.09" fill="#f2b4cc" fill-opacity="0.9"/>
<circle cx="78.0" cy="201.6" r="0.70" fill="#f8e0ea" fill-opacity="0.9"/>
<circle cx="119.2" cy="195.2" r="0.65" fill="#f6d0de" fill-opacity="0.9"/>
<circle cx="110.7" cy="206.9" r="1.05" fill="#f2b4cc" fill-opacity="0.9"/>
<circle cx="111.2" cy="186.0" r="0.92" fill="#f6d0de" fill-opacity="0.9"/>
<circle cx="118.6" cy="214.9" r="0.61" fill="#f8e0ea" fill-opacity="0.9"/>
<circle cx="130.1" cy="203.0" r="1.03" fill="#f8e0ea" fill-opacity="0.9"/>
<circle cx="77.6" cy="210.3" r="0.62" fill="#f2b4cc" fill-opacity="0.9"/>
<circle cx="94.5" cy="207.6" r="0.65" fill="#f8e0ea" fill-opacity="0.9"/>
<circle cx="93.9" cy="203.9" r="0.66" fill="#f2b4cc" fill-opacity="0.9"/>
<circle cx="86.0" cy="184.6" r="0.80" fill="#faeef2" fill-opacity="0.9"/>
<circle cx="126.6" cy="218.9" r="0.75" fill="#faeef2" fill-opacity="0.9"/>
<circle cx="116.0" cy="220.8" r="0.82" fill="#f6d0de" fill-opacity="0.9"/>
<circle cx="80.1" cy="191.6" r="0.50" fill="#faeef2" fill-opacity="0.9"/>
<circle cx="76.9" cy="184.5" r="0.71" fill="#f8e0ea" fill-opacity="0.9"/>
<circle cx="84.7" cy="197.2" r="0.42" fill="#faeef2" fill-opacity="0.9"/>
<circle cx="80.1" cy="185.7" r="0.44" fill="#faeef2" fill-opacity="0.9"/>
<circle cx="125.7" cy="185.4" r="0.41" fill="#f8e0ea" fill-opacity="0.9"/>
<circle cx="126.5" cy="189.2" r="0.61" fill="#faeef2" fill-opacity="0.9"/>
<circle cx="120.5" cy="208.7" r="0.80" fill="#faeef2" fill-opacity="0.9"/>
<circle cx="76.6" cy="195.3" r="0.72" fill="#f8e0ea" fill-opacity="0.9"/>
<circle cx="130.8" cy="219.5" r="0.83" fill="#f6d0de" fill-opacity="0.9"/>
<circle cx="115.5" cy="195.6" r="0.86" fill="#faeef2" fill-opacity="0.9"/>
<circle cx="129.5" cy="201.3" r="0.85" fill="#f2b4cc" fill-opacity="0.9"/>
<circle cx="124.2" cy="203.2" r="0.84" fill="#f8e0ea" fill-opacity="0.9"/>
<circle cx="85.0" cy="211.1" r="0.88" fill="#f8e0ea" fill-opacity="0.9"/>
<circle cx="111.7" cy="197.1" r="0.81" fill="#faeef2" fill-opacity="0.9"/>
<circle cx="93.4" cy="192.1" r="0.71" fill="#f2b4cc" fill-opacity="0.9"/>
<circle cx="78.4" cy="189.9" r="1.02" fill="#f6d0de" fill-opacity="0.9"/>
<circle cx="84.9" cy="214.8" r="0.85" fill="#f8e0ea" fill-opacity="0.9"/>
<circle cx="103.8" cy="192.6" r="0.74" fill="#faeef2" fill-opacity="0.9"/>
<circle cx="85.2" cy="204.8" r="0.48" fill="#f6d0de" fill-opacity="0.9"/>
<circle cx="123.3" cy="208.8" r="0.96" fill="#f8e0ea" fill-opacity="0.9"/>
<circle cx="124.1" cy="203.9" r="0.90" fill="#f6d0de" fill-opacity="0.9"/>
<circle cx="109.6" cy="219.5" r="0.76" fill="#faeef2" fill-opacity="0.9"/>
<circle cx="122.0" cy="197.9" r="0.52" fill="#f8e0ea" fill-opacity="0.9"/>
<circle cx="105.7" cy="212.4" r="0.50" fill="#f6d0de" fill-opacity="0.9"/>
<circle cx="96.1" cy="184.8" r="0.43" fill="#f8e0ea" fill-opacity="0.9"/>
<circle cx="99.4" cy="187.6" r="0.49" fill="#f6d0de" fill-opacity="0.9"/>
<circle cx="109.3" cy="216.1" r="0.79" fill="#f2b4cc" fill-opacity="0.9"/>
<circle cx="81.6" cy="211.3" r="0.64" fill="#f6d0de" fill-opacity="0.9"/>
<circle cx="121.8" cy="187.7" r="0.66" fill="#f2b4cc" fill-opacity="0.9"/>
<circle cx="115.4" cy="184.7" r="0.82" fill="#f6d0de" fill-opacity="0.9"/>
<circle cx="93.1" cy="195.4" r="0.82" fill="#f6d0de" fill-opacity="0.9"/>
<circle cx="127.8" cy="208.7" r="0.58" fill="#f8e0ea" fill-opacity="0.9"/>
<circle cx="113.7" cy="183.8" r="1.09" fill="#faeef2" fill-opacity="0.9"/>
<circle cx="78.3" cy="183.8" r="0.48" fill="#f2b4cc" fill-opacity="0.9"/>
<circle cx="82.7" cy="204.1" r="0.60" fill="#faeef2" fill-opacity="0.9"/>
<circle cx="122.4" cy="205.4" r="0.58" fill="#f2b4cc" fill-opacity="0.9"/>
<circle cx="129.3" cy="183.5" r="0.64" fill="#f8e0ea" fill-opacity="0.9"/>
<circle cx="101.1" cy="201.4" r="0.42" fill="#f6d0de" fill-opacity="0.9"/>
<circle cx="76.0" cy="206.6" r="0.85" fill="#faeef2" fill-opacity="0.9"/>
<circle cx="122.8" cy="219.8" r="0.89" fill="#faeef2" fill-opacity="0.9"/>
<circle cx="95.4" cy="216.2" r="0.83" fill="#f6d0de" fill-opacity="0.9"/>
<circle cx="93.4" cy="203.1" r="0.62" fill="#f8e0ea" fill-opacity="0.9"/>
<circle cx="107.3" cy="184.7" r="0.52" fill="#f2b4cc" fill-opacity="0.9"/>
<circle cx="115.8" cy="195.6" r="0.73" fill="#f2b4cc" fill-opacity="0.9"/>
<circle cx="90.6" cy="195.7" r="0.74" fill="#f8e0ea" fill-opacity="0.9"/>
<circle cx="72.7" cy="200.5" r="1.09" fill="#f6d0de" fill-opacity="0.9"/>
<circle cx="109.9" cy="210.6" r="0.50" fill="#faeef2" fill-opacity="0.9"/>
<circle cx="88.1" cy="202.0" r="0.58" fill="#f8e0ea" fill-opacity="0.9"/>
<circle cx="131.9" cy="184.3" r="0.79" fill="#f6d0de" fill-opacity="0.9"/>
<circle cx="124.6" cy="212.4" r="0.84" fill="#f6d0de" fill-opacity="0.9"/>
<circle cx="93.5" cy="193.7" r="0.96" fill="#f8e0ea" fill-opacity="0.9"/>
<circle cx="113.0" cy="194.6" r="0.93" fill="#f2b4cc" fill-opacity="0.9"/>
<circle cx="102.4" cy="207.1" r="0.65" fill="#faeef2" fill-opacity="0.9"/>
<circle cx="91.8" cy="209.8" r="0.87" fill="#faeef2" fill-opacity="0.9"/>
<circle cx="102.1" cy="217.0" r="0.97" fill="#f2b4cc" fill-opacity="0.9"/>
<circle cx="80.6" cy="190.8" r="1.02" fill="#faeef2" fill-opacity="0.9"/>
<circle cx="96.1" cy="198.1" r="0.89" fill="#d8588c" fill-opacity="0.8"/>
<circle cx="107.2" cy="188.5" r="0.86" fill="#e06898" fill-opacity="0.8"/>
<circle cx="115.7" cy="203.9" r="0.97" fill="#e06898" fill-opacity="0.8"/>
<circle cx="75.9" cy="190.2" r="0.96" fill="#d8588c" fill-opacity="0.8"/>
<circle cx="90.0" cy="196.4" r="0.73" fill="#e06898" fill-opacity="0.8"/>
<circle cx="115.4" cy="218.0" r="0.92" fill="#e06898" fill-opacity="0.8"/>
<circle cx="126.2" cy="193.5" r="0.63" fill="#d8588c" fill-opacity="0.8"/>
<circle cx="117.7" cy="206.8" r="0.62" fill="#d8588c" fill-opacity="0.8"/>
<circle cx="84.7" cy="198.2" r="0.60" fill="#e06898" fill-opacity="0.8"/>
<circle cx="124.1" cy="207.6" r="0.60" fill="#d8588c" fill-opacity="0.8"/>
<circle cx="130.2" cy="205.8" r="0.54" fill="#e06898" fill-opacity="0.8"/>
<circle cx="115.3" cy="183.2" r="0.64" fill="#d8588c" fill-opacity="0.8"/>
<circle cx="110.4" cy="218.1" r="0.61" fill="#e06898" fill-opacity="0.8"/>
<circle cx="124.3" cy="184.0" r="0.74" fill="#e06898" fill-opacity="0.8"/>
<circle cx="82.0" cy="215.8" r="0.90" fill="#d8588c" fill-opacity="0.8"/>
<circle cx="109.6" cy="195.7" r="0.75" fill="#e06898" fill-opacity="0.8"/>
<circle cx="87.1" cy="200.6" r="0.51" fill="#e06898" fill-opacity="0.8"/>
<circle cx="105.8" cy="220.5" r="0.53" fill="#e06898" fill-opacity="0.8"/>
<circle cx="81.0" cy="183.7" r="0.61" fill="#d8588c" fill-opacity="0.8"/>
<circle cx="93.2" cy="196.7" r="0.67" fill="#d8588c" fill-opacity="0.8"/>
<circle cx="111.5" cy="205.9" r="0.67" fill="#e06898" fill-opacity="0.8"/>
<circle cx="121.0" cy="201.1" r="0.52" fill="#e06898" fill-opacity="0.8"/>
<circle cx="111.2" cy="203.9" r="0.85" fill="#e06898" fill-opacity="0.8"/>
<circle cx="93.4" cy="203.1" r="0.64" fill="#e06898" fill-opacity="0.8"/>
<circle cx="72.0" cy="201.1" r="0.83" fill="#e06898" fill-opacity="0.8"/>
<circle cx="80.6" cy="206.9" r="0.70" fill="#d8588c" fill-opacity="0.8"/>
<circle cx="128.6" cy="206.7" r="0.56" fill="#d8588c" fill-opacity="0.8"/>
<circle cx="105.3" cy="189.9" r="0.97" fill="#e06898" fill-opacity="0.8"/>
<circle cx="116.4" cy="217.3" r="0.94" fill="#d8588c" fill-opacity="0.8"/>
<circle cx="103.6" cy="196.3" r="0.85" fill="#e06898" fill-opacity="0.8"/>
<circle cx="131.3" cy="202.0" r="0.82" fill="#e06898" fill-opacity="0.8"/>
<circle cx="126.4" cy="197.8" r="0.61" fill="#d8588c" fill-opacity="0.8"/>
<circle cx="78.0" cy="210.9" r="0.53" fill="#e06898" fill-opacity="0.8"/>
<circle cx="112.5" cy="196.3" r="0.61" fill="#e06898" fill-opacity="0.8"/>
<circle cx="96.4" cy="217.9" r="0.97" fill="#d8588c" fill-opacity="0.8"/>
<circle cx="73.3" cy="183.8" r="0.85" fill="#d8588c" fill-opacity="0.8"/>
<circle cx="85.5" cy="190.7" r="0.88" fill="#e06898" fill-opacity="0.8"/>
<circle cx="89.6" cy="220.8" r="0.61" fill="#d8588c" fill-opacity="0.8"/>
<circle cx="100.5" cy="218.5" r="0.88" fill="#d8588c" fill-opacity="0.8"/>
<circle cx="121.6" cy="193.7" r="0.67" fill="#e06898" fill-opacity="0.8"/>
<circle cx="124.6" cy="192.5" r="0.66" fill="#e06898" fill-opacity="0.8"/>
<circle cx="84.3" cy="185.0" r="0.89" fill="#e06898" fill-opacity="0.8"/>
<circle cx="74.2" cy="212.4" r="0.72" fill="#e06898" fill-opacity="0.8"/>
<circle cx="124.1" cy="220.8" r="0.65" fill="#d8588c" fill-opacity="0.8"/>
<circle cx="120.5" cy="188.8" r="0.96" fill="#d8588c" fill-opacity="0.8"/>
<circle cx="127.0" cy="188.7" r="0.87" fill="#d8588c" fill-opacity="0.8"/>
<circle cx="117.2" cy="200.7" r="0.70" fill="#e06898" fill-opacity="0.8"/>
<circle cx="92.1" cy="217.9" r="0.86" fill="#e06898" fill-opacity="0.8"/>
<circle cx="131.2" cy="184.3" r="0.62" fill="#d8588c" fill-opacity="0.8"/>
<circle cx="73.7" cy="202.2" r="0.62" fill="#e06898" fill-opacity="0.8"/>
<circle cx="114.0" cy="210.7" r="0.52" fill="#e06898" fill-opacity="0.8"/>
<circle cx="75.3" cy="187.2" r="0.98" fill="#d8588c" fill-opacity="0.8"/>
<circle cx="103.5" cy="183.1" r="0.61" fill="#d8588c" fill-opacity="0.8"/>
<circle cx="110.0" cy="203.7" r="1.00" fill="#e06898" fill-opacity="0.8"/>
<circle cx="122.6" cy="219.4" r="0.54" fill="#d8588c" fill-opacity="0.8"/>
<circle cx="123.4" cy="219.9" r="0.61" fill="#d8588c" fill-opacity="0.8"/>
<circle cx="88.1" cy="189.7" r="0.63" fill="#d8588c" fill-opacity="0.8"/>
<circle cx="130.3" cy="190.5" r="0.52" fill="#e06898" fill-opacity="0.8"/>
<circle cx="87.7" cy="195.4" r="0.52" fill="#e06898" fill-opacity="0.8"/>
<circle cx="104.6" cy="203.9" r="0.85" fill="#e06898" fill-opacity="0.8"/>
<ellipse cx="76.0" cy="186.0" rx="6.0" ry="3.5" fill="#f2d8e4"/>
<ellipse cx="82.0" cy="217.0" rx="11.0" ry="5.0" fill="#f4e4ec"/>
<ellipse cx="87.5" cy="203.5" rx="8.5" ry="4.0" fill="#f4eef0"/>
<ellipse cx="110.5" cy="194.5" rx="6.5" ry="5.8" fill="#f4eef0"/>
<ellipse cx="118.0" cy="209.0" rx="8.0" ry="5.5" fill="#f4eef0"/>
<ellipse cx="74.0" cy="198.0" rx="3.2" ry="4.2" fill="#f4eef0"/>
<ellipse cx="126.0" cy="186.0" rx="6.0" ry="3.2" fill="#f4eef0"/>
<ellipse cx="101.0" cy="216.5" rx="4.5" ry="2.8" fill="#f4eef0"/>
<ellipse cx="93.0" cy="190.0" rx="3.0" ry="2.2" fill="#f4eef0"/>
<ellipse cx="128.5" cy="200.0" rx="2.5" ry="3.0" fill="#f4eef0"/>
<circle cx="81.8" cy="193.9" r="0.62" fill="#4a2a78" fill-opacity="1.0"/>
<circle cx="81.6" cy="194.5" r="0.61" fill="#4a2a78" fill-opacity="1.0"/>
<circle cx="87.8" cy="196.7" r="0.55" fill="#5a3a8a" fill-opacity="1.0"/>
<circle cx="88.1" cy="193.3" r="0.69" fill="#3e2a6a" fill-opacity="1.0"/>
<circle cx="88.9" cy="198.4" r="0.72" fill="#4a2a78" fill-opacity="1.0"/>
<circle cx="87.1" cy="198.1" r="0.81" fill="#4a2a78" fill-opacity="1.0"/>
<circle cx="81.9" cy="196.0" r="0.72" fill="#3e2a6a" fill-opacity="1.0"/>
<circle cx="83.6" cy="193.8" r="0.84" fill="#4a2a78" fill-opacity="1.0"/>
<circle cx="82.7" cy="196.8" r="0.64" fill="#3e2a6a" fill-opacity="1.0"/>
<circle cx="84.1" cy="200.0" r="0.54" fill="#5a3a8a" fill-opacity="1.0"/>
<circle cx="86.5" cy="198.8" r="0.59" fill="#4a2a78" fill-opacity="1.0"/>
<circle cx="81.7" cy="195.7" r="0.70" fill="#5a3a8a" fill-opacity="1.0"/>
<circle cx="86.9" cy="191.6" r="0.77" fill="#5a3a8a" fill-opacity="1.0"/>
<circle cx="79.7" cy="196.5" r="0.56" fill="#3e2a6a" fill-opacity="1.0"/>
<circle cx="87.3" cy="194.1" r="0.69" fill="#5a3a8a" fill-opacity="1.0"/>
<circle cx="79.7" cy="192.3" r="0.82" fill="#5a3a8a" fill-opacity="1.0"/>
<circle cx="81.4" cy="192.8" r="0.52" fill="#3e2a6a" fill-opacity="1.0"/>
<circle cx="79.9" cy="192.6" r="0.78" fill="#3e2a6a" fill-opacity="1.0"/>
<circle cx="79.1" cy="199.5" r="0.79" fill="#5a3a8a" fill-opacity="1.0"/>
<circle cx="87.4" cy="191.4" r="0.60" fill="#3e2a6a" fill-opacity="1.0"/>
<circle cx="78.5" cy="192.4" r="0.55" fill="#4a2a78" fill-opacity="1.0"/>
<circle cx="81.4" cy="197.0" r="0.66" fill="#3e2a6a" fill-opacity="1.0"/>
<circle cx="101.3" cy="198.6" r="0.61" fill="#3e2a6a" fill-opacity="1.0"/>
<circle cx="104.7" cy="205.1" r="0.64" fill="#4a2a78" fill-opacity="1.0"/>
<circle cx="105.6" cy="199.7" r="0.72" fill="#3e2a6a" fill-opacity="1.0"/>
<circle cx="101.8" cy="208.9" r="0.70" fill="#5a3a8a" fill-opacity="1.0"/>
<circle cx="99.8" cy="203.9" r="0.46" fill="#4a2a78" fill-opacity="1.0"/>
<circle cx="95.0" cy="201.7" r="0.69" fill="#3e2a6a" fill-opacity="1.0"/>
<circle cx="105.1" cy="201.9" r="0.58" fill="#4a2a78" fill-opacity="1.0"/>
<circle cx="98.7" cy="204.9" r="0.66" fill="#3e2a6a" fill-opacity="1.0"/>
<circle cx="107.0" cy="200.6" r="0.62" fill="#3e2a6a" fill-opacity="1.0"/>
<circle cx="103.7" cy="203.7" r="0.47" fill="#3e2a6a" fill-opacity="1.0"/>
<circle cx="100.3" cy="197.8" r="0.75" fill="#3e2a6a" fill-opacity="1.0"/>
<circle cx="101.0" cy="207.9" r="0.55" fill="#4a2a78" fill-opacity="1.0"/>
<circle cx="100.4" cy="207.4" r="0.82" fill="#4a2a78" fill-opacity="1.0"/>
<circle cx="108.7" cy="212.3" r="0.68" fill="#4a2a78" fill-opacity="1.0"/>
<circle cx="104.3" cy="202.9" r="0.48" fill="#3e2a6a" fill-opacity="1.0"/>
<circle cx="100.3" cy="206.5" r="0.65" fill="#5a3a8a" fill-opacity="1.0"/>
<circle cx="105.6" cy="197.5" r="0.69" fill="#3e2a6a" fill-opacity="1.0"/>
<circle cx="108.1" cy="209.6" r="0.62" fill="#3e2a6a" fill-opacity="1.0"/>
<circle cx="97.5" cy="198.2" r="0.61" fill="#4a2a78" fill-opacity="1.0"/>
<circle cx="102.2" cy="211.8" r="0.72" fill="#5a3a8a" fill-opacity="1.0"/>
<circle cx="97.8" cy="206.7" r="0.82" fill="#3e2a6a" fill-opacity="1.0"/>
<circle cx="102.8" cy="210.8" r="0.76" fill="#4a2a78" fill-opacity="1.0"/>
<circle cx="96.3" cy="212.3" r="0.68" fill="#4a2a78" fill-opacity="1.0"/>
<circle cx="96.4" cy="198.6" r="0.75" fill="#5a3a8a" fill-opacity="1.0"/>
<circle cx="101.4" cy="211.8" r="0.53" fill="#3e2a6a" fill-opacity="1.0"/>
<circle cx="101.8" cy="198.0" r="0.73" fill="#3e2a6a" fill-opacity="1.0"/>
<circle cx="106.8" cy="199.5" r="0.61" fill="#4a2a78" fill-opacity="1.0"/>
<circle cx="107.2" cy="199.6" r="0.58" fill="#5a3a8a" fill-opacity="1.0"/>
<circle cx="130.8" cy="196.6" r="0.67" fill="#5a3a8a" fill-opacity="1.0"/>
<circle cx="121.4" cy="198.4" r="0.55" fill="#3e2a6a" fill-opacity="1.0"/>
<circle cx="125.2" cy="201.2" r="0.62" fill="#4a2a78" fill-opacity="1.0"/>
<circle cx="122.0" cy="197.5" r="0.60" fill="#3e2a6a" fill-opacity="1.0"/>
<circle cx="129.1" cy="197.6" r="0.53" fill="#4a2a78" fill-opacity="1.0"/>
<circle cx="120.7" cy="203.1" r="0.82" fill="#5a3a8a" fill-opacity="1.0"/>
<circle cx="124.4" cy="202.2" r="0.60" fill="#3e2a6a" fill-opacity="1.0"/>
<circle cx="120.6" cy="206.9" r="0.67" fill="#4a2a78" fill-opacity="1.0"/>
<circle cx="127.5" cy="194.1" r="0.48" fill="#5a3a8a" fill-opacity="1.0"/>
<circle cx="128.7" cy="194.5" r="0.54" fill="#3e2a6a" fill-opacity="1.0"/>
<circle cx="121.8" cy="203.9" r="0.77" fill="#5a3a8a" fill-opacity="1.0"/>
<circle cx="125.9" cy="199.7" r="0.74" fill="#4a2a78" fill-opacity="1.0"/>
<circle cx="129.4" cy="194.8" r="0.62" fill="#5a3a8a" fill-opacity="1.0"/>
<circle cx="119.6" cy="195.9" r="0.80" fill="#5a3a8a" fill-opacity="1.0"/>
<circle cx="124.5" cy="194.2" r="0.74" fill="#5a3a8a" fill-opacity="1.0"/>
<circle cx="128.4" cy="201.0" r="0.72" fill="#5a3a8a" fill-opacity="1.0"/>
<circle cx="127.7" cy="205.2" r="0.66" fill="#4a2a78" fill-opacity="1.0"/>
<circle cx="119.9" cy="206.9" r="0.53" fill="#4a2a78" fill-opacity="1.0"/>
<circle cx="124.1" cy="196.8" r="0.49" fill="#4a2a78" fill-opacity="1.0"/>
<circle cx="123.4" cy="203.2" r="0.55" fill="#3e2a6a" fill-opacity="1.0"/>
<circle cx="126.9" cy="196.2" r="0.47" fill="#5a3a8a" fill-opacity="1.0"/>
<circle cx="119.7" cy="196.2" r="0.63" fill="#4a2a78" fill-opacity="1.0"/>
<circle cx="129.4" cy="205.2" r="0.73" fill="#5a3a8a" fill-opacity="1.0"/>
<circle cx="120.0" cy="206.8" r="0.58" fill="#4a2a78" fill-opacity="1.0"/>
<circle cx="120.0" cy="205.2" r="0.84" fill="#3e2a6a" fill-opacity="1.0"/>
<circle cx="130.7" cy="198.6" r="0.51" fill="#3e2a6a" fill-opacity="1.0"/>
<circle cx="85.0" cy="203.7" r="0.38" fill="#6a4a9a" fill-opacity="1.0"/>
<circle cx="80.5" cy="190.0" r="0.47" fill="#6a4a9a" fill-opacity="1.0"/>
<circle cx="78.4" cy="214.5" r="0.39" fill="#4a2a78" fill-opacity="1.0"/>
<circle cx="132.2" cy="218.7" r="0.53" fill="#6a4a9a" fill-opacity="1.0"/>
<circle cx="101.3" cy="183.7" r="0.62" fill="#4a2a78" fill-opacity="1.0"/>
<circle cx="83.6" cy="193.6" r="0.46" fill="#8a3a7a" fill-opacity="1.0"/>
<circle cx="104.4" cy="186.4" r="0.40" fill="#6a4a9a" fill-opacity="1.0"/>
<circle cx="118.2" cy="212.1" r="0.67" fill="#8a3a7a" fill-opacity="1.0"/>
<circle cx="127.8" cy="184.2" r="0.56" fill="#4a2a78" fill-opacity="1.0"/>
<circle cx="92.4" cy="218.9" r="0.58" fill="#4a2a78" fill-opacity="1.0"/>
<circle cx="81.9" cy="196.3" r="0.52" fill="#6a4a9a" fill-opacity="1.0"/>
<circle cx="116.7" cy="189.8" r="0.63" fill="#6a4a9a" fill-opacity="1.0"/>
<circle cx="120.7" cy="210.5" r="0.51" fill="#8a3a7a" fill-opacity="1.0"/>
<circle cx="105.0" cy="212.9" r="0.56" fill="#6a4a9a" fill-opacity="1.0"/>
<circle cx="73.6" cy="184.5" r="0.55" fill="#6a4a9a" fill-opacity="1.0"/>
<circle cx="110.9" cy="188.0" r="0.55" fill="#6a4a9a" fill-opacity="1.0"/>
<circle cx="76.1" cy="210.6" r="0.61" fill="#6a4a9a" fill-opacity="1.0"/>
<circle cx="81.8" cy="218.8" r="0.47" fill="#8a3a7a" fill-opacity="1.0"/>
<circle cx="124.7" cy="201.2" r="0.40" fill="#4a2a78" fill-opacity="1.0"/>
<circle cx="77.9" cy="192.1" r="0.40" fill="#6a4a9a" fill-opacity="1.0"/>
<circle cx="104.1" cy="187.5" r="0.51" fill="#4a2a78" fill-opacity="1.0"/>
<circle cx="106.1" cy="184.6" r="0.44" fill="#4a2a78" fill-opacity="1.0"/>
<circle cx="88.7" cy="204.1" r="0.70" fill="#4a2a78" fill-opacity="1.0"/>
<circle cx="115.7" cy="203.3" r="0.43" fill="#4a2a78" fill-opacity="1.0"/>
<circle cx="72.3" cy="218.8" r="0.52" fill="#8a3a7a" fill-opacity="1.0"/>
<circle cx="106.2" cy="209.2" r="0.43" fill="#4a2a78" fill-opacity="1.0"/>
<circle cx="80.8" cy="193.0" r="0.36" fill="#6a4a9a" fill-opacity="1.0"/>
<circle cx="109.5" cy="187.2" r="0.55" fill="#4a2a78" fill-opacity="1.0"/>
<circle cx="76.5" cy="205.0" r="0.43" fill="#8a3a7a" fill-opacity="1.0"/>
<circle cx="118.7" cy="202.5" r="0.64" fill="#4a2a78" fill-opacity="1.0"/>
<circle cx="75.9" cy="195.8" r="0.38" fill="#4a2a78" fill-opacity="1.0"/>
<circle cx="109.1" cy="209.3" r="0.64" fill="#6a4a9a" fill-opacity="1.0"/>
<circle cx="76.5" cy="211.8" r="0.56" fill="#4a2a78" fill-opacity="1.0"/>
<circle cx="72.1" cy="218.7" r="0.49" fill="#6a4a9a" fill-opacity="1.0"/>
<circle cx="73.4" cy="213.0" r="0.40" fill="#8a3a7a" fill-opacity="1.0"/>
<circle cx="112.8" cy="188.7" r="0.47" fill="#4a2a78" fill-opacity="1.0"/>
<circle cx="83.8" cy="218.1" r="0.59" fill="#8a3a7a" fill-opacity="1.0"/>
<circle cx="130.9" cy="220.9" r="0.63" fill="#6a4a9a" fill-opacity="1.0"/>
<circle cx="73.7" cy="203.0" r="0.47" fill="#4a2a78" fill-opacity="1.0"/>
<circle cx="117.2" cy="207.2" r="0.42" fill="#8a3a7a" fill-opacity="1.0"/>
<circle cx="74.5" cy="196.9" r="0.49" fill="#8a3a7a" fill-opacity="1.0"/>
<circle cx="115.2" cy="196.3" r="0.41" fill="#6a4a9a" fill-opacity="1.0"/>
<circle cx="112.4" cy="211.3" r="0.40" fill="#8a3a7a" fill-opacity="1.0"/>
<circle cx="128.6" cy="217.4" r="0.61" fill="#8a3a7a" fill-opacity="1.0"/>
<circle cx="107.4" cy="199.5" r="0.64" fill="#8a3a7a" fill-opacity="1.0"/>
<circle cx="89.6" cy="219.5" r="0.54" fill="#8a3a7a" fill-opacity="1.0"/>
<circle cx="78.5" cy="219.8" r="0.63" fill="#6a4a9a" fill-opacity="1.0"/>
<circle cx="117.2" cy="215.2" r="0.43" fill="#8a3a7a" fill-opacity="1.0"/>
<circle cx="99.3" cy="192.0" r="0.52" fill="#8a3a7a" fill-opacity="1.0"/>
<circle cx="125.7" cy="184.9" r="0.58" fill="#6a4a9a" fill-opacity="1.0"/>
<circle cx="119.8" cy="208.9" r="0.68" fill="#6a4a9a" fill-opacity="1.0"/>
<circle cx="96.2" cy="186.3" r="0.58" fill="#6a4a9a" fill-opacity="1.0"/>
<circle cx="111.9" cy="217.4" r="0.50" fill="#6a4a9a" fill-opacity="1.0"/>
<circle cx="71.7" cy="201.6" r="0.36" fill="#4a2a78" fill-opacity="1.0"/>
<circle cx="125.0" cy="201.1" r="0.49" fill="#6a4a9a" fill-opacity="1.0"/>
<circle cx="99.3" cy="195.7" r="0.42" fill="#6a4a9a" fill-opacity="1.0"/>
<circle cx="95.4" cy="200.7" r="0.36" fill="#6a4a9a" fill-opacity="1.0"/>
<circle cx="76.8" cy="193.3" r="0.60" fill="#6a4a9a" fill-opacity="1.0"/>
<circle cx="96.3" cy="203.5" r="0.43" fill="#4a2a78" fill-opacity="1.0"/>
<circle cx="113.1" cy="184.6" r="0.64" fill="#4a2a78" fill-opacity="1.0"/>
</g></g>
<g clip-path="url(#c20)"><g filter="url(#hb)">
<rect x="133.00" y="183.00" width="60.20" height="37.60" fill="#f7eff3"/>
<g clip-path="url(#band3)">
<rect x="133.00" y="183.00" width="60.20" height="37.60" fill="#f1d4e2"/>
<circle cx="156.8" cy="195.6" r="0.59" fill="#f8e8ef" fill-opacity="0.8"/>
<circle cx="146.7" cy="216.8" r="0.87" fill="#e8b8cc" fill-opacity="0.8"/>
<circle cx="151.8" cy="195.1" r="1.03" fill="#f8e8ef" fill-opacity="0.8"/>
<circle cx="185.3" cy="219.8" r="0.73" fill="#f8e8ef" fill-opacity="0.8"/>
<circle cx="133.0" cy="189.7" r="1.07" fill="#e8b8cc" fill-opacity="0.8"/>
<circle cx="167.5" cy="208.0" r="0.94" fill="#f8e8ef" fill-opacity="0.8"/>
<circle cx="193.1" cy="210.9" r="0.95" fill="#e8b8cc" fill-opacity="0.8"/>
<circle cx="141.2" cy="211.6" r="0.65" fill="#e8b8cc" fill-opacity="0.8"/>
<circle cx="137.6" cy="206.7" r="0.77" fill="#e8b8cc" fill-opacity="0.8"/>
<circle cx="155.1" cy="208.1" r="0.88" fill="#e8b8cc" fill-opacity="0.8"/>
<circle cx="190.2" cy="213.7" r="0.54" fill="#e8b8cc" fill-opacity="0.8"/>
<circle cx="163.1" cy="209.3" r="0.51" fill="#f8e8ef" fill-opacity="0.8"/>
<circle cx="167.0" cy="200.0" r="0.95" fill="#f8e8ef" fill-opacity="0.8"/>
<circle cx="177.5" cy="211.5" r="0.52" fill="#e8b8cc" fill-opacity="0.8"/>
<circle cx="162.4" cy="183.3" r="1.06" fill="#e8b8cc" fill-opacity="0.8"/>
<circle cx="141.8" cy="205.3" r="0.85" fill="#f8e8ef" fill-opacity="0.8"/>
<circle cx="193.9" cy="189.6" r="0.85" fill="#e8b8cc" fill-opacity="0.8"/>
<circle cx="171.3" cy="192.2" r="0.96" fill="#f8e8ef" fill-opacity="0.8"/>
<circle cx="158.7" cy="220.2" r="0.89" fill="#e8b8cc" fill-opacity="0.8"/>
<circle cx="163.1" cy="220.0" r="0.72" fill="#e8b8cc" fill-opacity="0.8"/>
<circle cx="152.8" cy="214.7" r="0.80" fill="#f8e8ef" fill-opacity="0.8"/>
<circle cx="181.4" cy="196.2" r="0.58" fill="#f8e8ef" fill-opacity="0.8"/>
<circle cx="142.9" cy="211.1" r="0.60" fill="#e8b8cc" fill-opacity="0.8"/>
<circle cx="188.4" cy="205.3" r="1.08" fill="#e8b8cc" fill-opacity="0.8"/>
<circle cx="191.7" cy="190.1" r="0.69" fill="#e8b8cc" fill-opacity="0.8"/>
<circle cx="145.0" cy="195.2" r="0.76" fill="#f8e8ef" fill-opacity="0.8"/>
<circle cx="174.6" cy="196.7" r="0.69" fill="#e8b8cc" fill-opacity="0.8"/>
<circle cx="149.3" cy="190.8" r="1.05" fill="#e8b8cc" fill-opacity="0.8"/>
<circle cx="163.6" cy="198.5" r="0.60" fill="#e8b8cc" fill-opacity="0.8"/>
<circle cx="135.7" cy="193.6" r="0.82" fill="#e8b8cc" fill-opacity="0.8"/>
<circle cx="178.9" cy="193.5" r="0.72" fill="#e8b8cc" fill-opacity="0.8"/>
<circle cx="165.3" cy="194.0" r="0.88" fill="#e8b8cc" fill-opacity="0.8"/>
<circle cx="160.4" cy="183.4" r="0.82" fill="#e8b8cc" fill-opacity="0.8"/>
<circle cx="154.6" cy="218.7" r="0.66" fill="#f8e8ef" fill-opacity="0.8"/>
<circle cx="187.0" cy="216.3" r="0.56" fill="#e8b8cc" fill-opacity="0.8"/>
<circle cx="183.9" cy="210.0" r="1.06" fill="#f8e8ef" fill-opacity="0.8"/>
<circle cx="172.3" cy="219.8" r="0.88" fill="#f8e8ef" fill-opacity="0.8"/>
<circle cx="180.3" cy="198.0" r="1.06" fill="#e8b8cc" fill-opacity="0.8"/>
<circle cx="157.4" cy="202.0" r="0.70" fill="#f8e8ef" fill-opacity="0.8"/>
<circle cx="176.4" cy="188.4" r="0.94" fill="#e8b8cc" fill-opacity="0.8"/>
<circle cx="173.8" cy="217.3" r="0.58" fill="#e8b8cc" fill-opacity="0.8"/>
<circle cx="174.6" cy="218.1" r="0.54" fill="#f8e8ef" fill-opacity="0.8"/>
<circle cx="185.0" cy="208.4" r="0.85" fill="#e8b8cc" fill-opacity="0.8"/>
<circle cx="146.1" cy="210.7" r="0.97" fill="#f8e8ef" fill-opacity="0.8"/>
<circle cx="142.2" cy="208.5" r="0.95" fill="#f8e8ef" fill-opacity="0.8"/>
<circle cx="187.8" cy="217.2" r="0.95" fill="#e8b8cc" fill-opacity="0.8"/>
<circle cx="186.6" cy="188.0" r="0.92" fill="#e8b8cc" fill-opacity="0.8"/>
<circle cx="170.4" cy="193.5" r="0.54" fill="#e8b8cc" fill-opacity="0.8"/>
<circle cx="170.1" cy="217.3" r="0.69" fill="#e8b8cc" fill-opacity="0.8"/>
<circle cx="174.2" cy="220.0" r="0.98" fill="#e8b8cc" fill-opacity="0.8"/>
<circle cx="134.4" cy="202.7" r="0.57" fill="#e8b8cc" fill-opacity="0.8"/>
<circle cx="146.3" cy="200.4" r="0.96" fill="#e8b8cc" fill-opacity="0.8"/>
<circle cx="149.8" cy="185.2" r="0.77" fill="#f8e8ef" fill-opacity="0.8"/>
<circle cx="135.4" cy="214.4" r="0.57" fill="#f8e8ef" fill-opacity="0.8"/>
<circle cx="150.9" cy="218.6" r="1.08" fill="#f8e8ef" fill-opacity="0.8"/>
<circle cx="146.3" cy="213.2" r="0.63" fill="#f8e8ef" fill-opacity="0.8"/>
<circle cx="146.6" cy="189.6" r="0.99" fill="#e8b8cc" fill-opacity="0.8"/>
<circle cx="158.9" cy="185.4" r="0.88" fill="#f8e8ef" fill-opacity="0.8"/>
<circle cx="168.7" cy="198.2" r="0.81" fill="#e8b8cc" fill-opacity="0.8"/>
<circle cx="146.8" cy="216.0" r="1.10" fill="#e8b8cc" fill-opacity="0.8"/>
<circle cx="191.6" cy="195.5" r="1.09" fill="#f8e8ef" fill-opacity="0.8"/>
<circle cx="172.1" cy="204.9" r="0.76" fill="#e8b8cc" fill-opacity="0.8"/>
<circle cx="144.6" cy="206.4" r="0.57" fill="#f8e8ef" fill-opacity="0.8"/>
<circle cx="150.2" cy="190.4" r="0.94" fill="#f8e8ef" fill-opacity="0.8"/>
<circle cx="159.8" cy="190.5" r="0.92" fill="#f8e8ef" fill-opacity="0.8"/>
<circle cx="180.2" cy="190.6" r="0.95" fill="#e8b8cc" fill-opacity="0.8"/>
<circle cx="178.6" cy="219.0" r="1.05" fill="#f8e8ef" fill-opacity="0.8"/>
<circle cx="136.8" cy="190.8" r="0.51" fill="#e8b8cc" fill-opacity="0.8"/>
<circle cx="167.0" cy="206.8" r="0.84" fill="#e8b8cc" fill-opacity="0.8"/>
<circle cx="193.5" cy="194.6" r="0.53" fill="#f8e8ef" fill-opacity="0.8"/>
<circle cx="175.2" cy="199.0" r="0.52" fill="#e8b8cc" fill-opacity="0.8"/>
<circle cx="180.1" cy="196.0" r="1.01" fill="#e8b8cc" fill-opacity="0.8"/>
<circle cx="180.4" cy="200.9" r="1.09" fill="#e8b8cc" fill-opacity="0.8"/>
<circle cx="181.5" cy="201.1" r="0.99" fill="#f8e8ef" fill-opacity="0.8"/>
<circle cx="184.8" cy="203.1" r="0.65" fill="#e8b8cc" fill-opacity="0.8"/>
<circle cx="145.8" cy="192.6" r="0.51" fill="#f8e8ef" fill-opacity="0.8"/>
<circle cx="176.3" cy="218.9" r="1.09" fill="#e8b8cc" fill-opacity="0.8"/>
<circle cx="180.2" cy="210.6" r="0.60" fill="#e8b8cc" fill-opacity="0.8"/>
<circle cx="141.2" cy="183.5" r="0.63" fill="#e8b8cc" fill-opacity="0.8"/>
<circle cx="134.7" cy="213.9" r="1.08" fill="#f8e8ef" fill-opacity="0.8"/>
<circle cx="161.3" cy="184.6" r="1.03" fill="#f8e8ef" fill-opacity="0.8"/>
<circle cx="185.4" cy="195.9" r="0.84" fill="#e8b8cc" fill-opacity="0.8"/>
<circle cx="162.6" cy="207.3" r="0.62" fill="#f8e8ef" fill-opacity="0.8"/>
<circle cx="145.5" cy="196.5" r="1.03" fill="#f8e8ef" fill-opacity="0.8"/>
<circle cx="169.1" cy="187.8" r="0.62" fill="#e8b8cc" fill-opacity="0.8"/>
<circle cx="167.9" cy="218.0" r="0.91" fill="#e8b8cc" fill-opacity="0.8"/>
<circle cx="179.5" cy="204.7" r="0.93" fill="#e8b8cc" fill-opacity="0.8"/>
<circle cx="143.3" cy="207.8" r="1.02" fill="#f8e8ef" fill-opacity="0.8"/>
<circle cx="176.7" cy="200.8" r="1.03" fill="#f8e8ef" fill-opacity="0.8"/>
<circle cx="140.2" cy="201.9" r="0.73" fill="#f8e8ef" fill-opacity="0.8"/>
<circle cx="181.8" cy="216.8" r="0.50" fill="#5a3282" fill-opacity="1.0"/>
<circle cx="171.7" cy="211.2" r="0.52" fill="#4a2872" fill-opacity="1.0"/>
<circle cx="188.4" cy="190.6" r="0.50" fill="#6a3a8a" fill-opacity="1.0"/>
<circle cx="136.0" cy="192.1" r="0.92" fill="#5a3282" fill-opacity="1.0"/>
<circle cx="180.3" cy="184.7" r="0.75" fill="#6a3a8a" fill-opacity="1.0"/>
<circle cx="149.0" cy="188.8" r="0.51" fill="#4a2872" fill-opacity="1.0"/>
<circle cx="179.3" cy="216.5" r="0.54" fill="#5a3282" fill-opacity="1.0"/>
<circle cx="182.2" cy="189.2" r="0.73" fill="#4a2872" fill-opacity="1.0"/>
<circle cx="164.1" cy="219.4" r="0.67" fill="#4a2872" fill-opacity="1.0"/>
<circle cx="137.4" cy="184.1" r="0.79" fill="#4a2872" fill-opacity="1.0"/>
<circle cx="163.7" cy="206.6" r="0.77" fill="#4a2872" fill-opacity="1.0"/>
<circle cx="176.1" cy="208.1" r="0.78" fill="#6a3a8a" fill-opacity="1.0"/>
<circle cx="157.2" cy="183.3" r="0.84" fill="#4a2872" fill-opacity="1.0"/>
<circle cx="144.4" cy="202.3" r="0.88" fill="#5a3282" fill-opacity="1.0"/>
<circle cx="140.5" cy="207.7" r="0.59" fill="#6a3a8a" fill-opacity="1.0"/>
<circle cx="193.0" cy="206.3" r="0.54" fill="#3c205e" fill-opacity="1.0"/>
<circle cx="174.3" cy="186.3" r="0.61" fill="#4a2872" fill-opacity="1.0"/>
<circle cx="138.5" cy="193.4" r="0.64" fill="#3c205e" fill-opacity="1.0"/>
<circle cx="142.0" cy="206.0" r="0.94" fill="#5a3282" fill-opacity="1.0"/>
<circle cx="133.4" cy="185.8" r="0.55" fill="#5a3282" fill-opacity="1.0"/>
<circle cx="164.7" cy="200.3" r="0.68" fill="#5a3282" fill-opacity="1.0"/>
<circle cx="188.9" cy="210.8" r="0.86" fill="#4a2872" fill-opacity="1.0"/>
<circle cx="184.1" cy="210.2" r="0.51" fill="#5a3282" fill-opacity="1.0"/>
<circle cx="184.8" cy="199.4" r="0.90" fill="#5a3282" fill-opacity="1.0"/>
<circle cx="170.7" cy="194.1" r="0.61" fill="#5a3282" fill-opacity="1.0"/>
<circle cx="148.4" cy="194.4" r="0.66" fill="#3c205e" fill-opacity="1.0"/>
<circle cx="156.3" cy="189.2" r="0.57" fill="#6a3a8a" fill-opacity="1.0"/>
<circle cx="179.5" cy="214.8" r="0.95" fill="#3c205e" fill-opacity="1.0"/>
<circle cx="149.7" cy="192.5" r="0.69" fill="#4a2872" fill-opacity="1.0"/>
<circle cx="153.8" cy="203.7" r="0.66" fill="#3c205e" fill-opacity="1.0"/>
<circle cx="133.1" cy="212.3" r="0.61" fill="#3c205e" fill-opacity="1.0"/>
<circle cx="181.5" cy="203.2" r="0.55" fill="#3c205e" fill-opacity="1.0"/>
<circle cx="158.9" cy="195.8" r="0.53" fill="#4a2872" fill-opacity="1.0"/>
<circle cx="191.9" cy="189.1" r="0.74" fill="#5a3282" fill-opacity="1.0"/>
<circle cx="190.2" cy="198.5" r="0.91" fill="#4a2872" fill-opacity="1.0"/>
<circle cx="172.5" cy="191.3" r="0.84" fill="#4a2872" fill-opacity="1.0"/>
<circle cx="176.6" cy="199.4" r="0.55" fill="#5a3282" fill-opacity="1.0"/>
<circle cx="170.2" cy="206.3" r="0.57" fill="#3c205e" fill-opacity="1.0"/>
<circle cx="178.9" cy="192.4" r="0.62" fill="#4a2872" fill-opacity="1.0"/>
<circle cx="138.6" cy="215.9" r="0.79" fill="#5a3282" fill-opacity="1.0"/>
<circle cx="173.0" cy="205.7" r="0.81" fill="#3c205e" fill-opacity="1.0"/>
<circle cx="137.8" cy="210.7" r="0.74" fill="#4a2872" fill-opacity="1.0"/>
<circle cx="155.1" cy="188.4" r="0.55" fill="#6a3a8a" fill-opacity="1.0"/>
<circle cx="172.6" cy="202.4" r="0.90" fill="#6a3a8a" fill-opacity="1.0"/>
<circle cx="143.9" cy="186.8" r="0.64" fill="#6a3a8a" fill-opacity="1.0"/>
<circle cx="175.5" cy="189.6" r="0.95" fill="#4a2872" fill-opacity="1.0"/>
<circle cx="185.5" cy="200.5" r="0.65" fill="#5a3282" fill-opacity="1.0"/>
<circle cx="134.9" cy="214.5" r="0.60" fill="#5a3282" fill-opacity="1.0"/>
<circle cx="182.0" cy="208.5" r="0.62" fill="#4a2872" fill-opacity="1.0"/>
<circle cx="184.6" cy="185.8" r="0.54" fill="#3c205e" fill-opacity="1.0"/>
<circle cx="173.3" cy="189.9" r="0.56" fill="#4a2872" fill-opacity="1.0"/>
<circle cx="184.0" cy="185.2" r="0.61" fill="#4a2872" fill-opacity="1.0"/>
<circle cx="167.7" cy="191.5" r="0.53" fill="#4a2872" fill-opacity="1.0"/>
<circle cx="149.4" cy="218.4" r="0.92" fill="#3c205e" fill-opacity="1.0"/>
<circle cx="155.2" cy="210.5" r="0.56" fill="#3c205e" fill-opacity="1.0"/>
<circle cx="155.6" cy="189.3" r="0.80" fill="#5a3282" fill-opacity="1.0"/>
<circle cx="188.5" cy="189.3" r="0.84" fill="#4a2872" fill-opacity="1.0"/>
<circle cx="146.7" cy="190.4" r="0.60" fill="#6a3a8a" fill-opacity="1.0"/>
<circle cx="185.0" cy="192.2" r="0.90" fill="#3c205e" fill-opacity="1.0"/>
<circle cx="186.0" cy="184.9" r="0.80" fill="#3c205e" fill-opacity="1.0"/>
<circle cx="147.3" cy="184.1" r="0.70" fill="#4a2872" fill-opacity="1.0"/>
<circle cx="139.7" cy="204.1" r="0.72" fill="#6a3a8a" fill-opacity="1.0"/>
<circle cx="140.2" cy="201.2" r="0.58" fill="#5a3282" fill-opacity="1.0"/>
<circle cx="159.0" cy="185.3" r="0.59" fill="#3c205e" fill-opacity="1.0"/>
<circle cx="155.0" cy="200.8" r="0.92" fill="#4a2872" fill-opacity="1.0"/>
<circle cx="137.4" cy="191.5" r="0.83" fill="#6a3a8a" fill-opacity="1.0"/>
<circle cx="139.7" cy="218.9" r="0.74" fill="#5a3282" fill-opacity="1.0"/>
<circle cx="164.8" cy="202.4" r="0.64" fill="#4a2872" fill-opacity="1.0"/>
<circle cx="138.1" cy="193.1" r="0.92" fill="#6a3a8a" fill-opacity="1.0"/>
<circle cx="180.9" cy="188.0" r="0.86" fill="#3c205e" fill-opacity="1.0"/>
<circle cx="139.0" cy="193.7" r="0.86" fill="#4a2872" fill-opacity="1.0"/>
<circle cx="140.3" cy="220.4" r="0.72" fill="#5a3282" fill-opacity="1.0"/>
<circle cx="164.1" cy="206.8" r="0.87" fill="#4a2872" fill-opacity="1.0"/>
<circle cx="172.3" cy="209.1" r="0.51" fill="#5a3282" fill-opacity="1.0"/>
<circle cx="180.1" cy="208.2" r="0.56" fill="#3c205e" fill-opacity="1.0"/>
<circle cx="141.8" cy="213.5" r="0.93" fill="#4a2872" fill-opacity="1.0"/>
<circle cx="185.3" cy="197.0" r="0.91" fill="#5a3282" fill-opacity="1.0"/>
<circle cx="175.7" cy="183.6" r="0.71" fill="#4a2872" fill-opacity="1.0"/>
<circle cx="160.4" cy="215.3" r="0.63" fill="#5a3282" fill-opacity="1.0"/>
<circle cx="184.2" cy="194.6" r="0.64" fill="#5a3282" fill-opacity="1.0"/>
<circle cx="190.3" cy="198.3" r="0.81" fill="#4a2872" fill-opacity="1.0"/>
<circle cx="155.0" cy="201.4" r="0.53" fill="#3c205e" fill-opacity="1.0"/>
<circle cx="164.2" cy="219.0" r="0.72" fill="#5a3282" fill-opacity="1.0"/>
<circle cx="170.9" cy="191.2" r="0.88" fill="#5a3282" fill-opacity="1.0"/>
<circle cx="151.9" cy="212.8" r="0.62" fill="#3c205e" fill-opacity="1.0"/>
<circle cx="134.9" cy="189.7" r="0.69" fill="#4a2872" fill-opacity="1.0"/>
<circle cx="167.7" cy="212.3" r="0.61" fill="#4a2872" fill-opacity="1.0"/>
<circle cx="142.4" cy="213.8" r="0.77" fill="#6a3a8a" fill-opacity="1.0"/>
<circle cx="167.3" cy="210.0" r="0.56" fill="#5a3282" fill-opacity="1.0"/>
<circle cx="167.3" cy="193.4" r="0.69" fill="#5a3282" fill-opacity="1.0"/>
<circle cx="193.9" cy="188.1" r="0.64" fill="#4a2872" fill-opacity="1.0"/>
<circle cx="143.2" cy="199.1" r="0.54" fill="#6a3a8a" fill-opacity="1.0"/>
<circle cx="181.2" cy="192.6" r="0.76" fill="#5a3282" fill-opacity="1.0"/>
<circle cx="185.5" cy="219.4" r="0.62" fill="#6a3a8a" fill-opacity="1.0"/>
<circle cx="138.8" cy="199.6" r="0.87" fill="#4a2872" fill-opacity="1.0"/>
<circle cx="188.1" cy="185.7" r="0.84" fill="#5a3282" fill-opacity="1.0"/>
<circle cx="186.1" cy="199.0" r="0.74" fill="#3c205e" fill-opacity="1.0"/>
<circle cx="182.2" cy="207.8" r="0.73" fill="#4a2872" fill-opacity="1.0"/>
<circle cx="160.2" cy="202.0" r="0.74" fill="#3c205e" fill-opacity="1.0"/>
<circle cx="187.8" cy="219.6" r="0.59" fill="#4a2872" fill-opacity="1.0"/>
<circle cx="169.1" cy="192.6" r="0.67" fill="#3c205e" fill-opacity="1.0"/>
<circle cx="172.3" cy="198.7" r="0.93" fill="#3c205e" fill-opacity="1.0"/>
<circle cx="174.3" cy="185.8" r="0.83" fill="#6a3a8a" fill-opacity="1.0"/>
<circle cx="146.0" cy="195.5" r="0.91" fill="#6a3a8a" fill-opacity="1.0"/>
<circle cx="162.0" cy="208.8" r="0.82" fill="#5a3282" fill-opacity="1.0"/>
<circle cx="161.4" cy="195.3" r="0.94" fill="#6a3a8a" fill-opacity="1.0"/>
<circle cx="138.4" cy="219.9" r="0.74" fill="#6a3a8a" fill-opacity="1.0"/>
<circle cx="191.7" cy="217.2" r="0.60" fill="#3c205e" fill-opacity="1.0"/>
<circle cx="156.2" cy="201.8" r="0.66" fill="#5a3282" fill-opacity="1.0"/>
<circle cx="172.0" cy="216.4" r="0.55" fill="#5a3282" fill-opacity="1.0"/>
<circle cx="187.0" cy="206.4" r="0.79" fill="#6a3a8a" fill-opacity="1.0"/>
<circle cx="168.5" cy="218.8" r="0.76" fill="#3c205e" fill-opacity="1.0"/>
<circle cx="154.1" cy="211.8" r="0.64" fill="#6a3a8a" fill-opacity="1.0"/>
<circle cx="175.3" cy="208.7" r="0.85" fill="#6a3a8a" fill-opacity="1.0"/>
<circle cx="155.6" cy="219.6" r="0.85" fill="#5a3282" fill-opacity="1.0"/>
<circle cx="171.7" cy="209.8" r="0.93" fill="#5a3282" fill-opacity="1.0"/>
<circle cx="155.5" cy="215.3" r="0.79" fill="#5a3282" fill-opacity="1.0"/>
<circle cx="183.1" cy="205.8" r="0.88" fill="#4a2872" fill-opacity="1.0"/>
<circle cx="145.1" cy="183.6" r="0.74" fill="#3c205e" fill-opacity="1.0"/>
<circle cx="134.8" cy="213.3" r="0.88" fill="#4a2872" fill-opacity="1.0"/>
<circle cx="175.4" cy="183.1" r="0.60" fill="#3c205e" fill-opacity="1.0"/>
<circle cx="187.9" cy="212.8" r="0.61" fill="#4a2872" fill-opacity="1.0"/>
<circle cx="140.0" cy="218.5" r="0.94" fill="#5a3282" fill-opacity="1.0"/>
<circle cx="161.7" cy="185.8" r="0.66" fill="#3c205e" fill-opacity="1.0"/>
<circle cx="158.5" cy="201.2" r="0.62" fill="#4a2872" fill-opacity="1.0"/>
<circle cx="189.6" cy="193.0" r="0.62" fill="#4a2872" fill-opacity="1.0"/>
<circle cx="171.1" cy="209.5" r="0.62" fill="#3c205e" fill-opacity="1.0"/>
<circle cx="153.8" cy="201.7" r="0.58" fill="#4a2872" fill-opacity="1.0"/>
<circle cx="178.8" cy="214.9" r="0.69" fill="#3c205e" fill-opacity="1.0"/>
<circle cx="176.7" cy="191.7" r="0.86" fill="#6a3a8a" fill-opacity="1.0"/>
<circle cx="138.7" cy="205.3" r="0.59" fill="#6a3a8a" fill-opacity="1.0"/>
<circle cx="182.0" cy="213.1" r="0.60" fill="#4a2872" fill-opacity="1.0"/>
<circle cx="183.3" cy="200.9" r="0.70" fill="#4a2872" fill-opacity="1.0"/>
<circle cx="144.8" cy="205.1" r="0.55" fill="#6a3a8a" fill-opacity="1.0"/>
<circle cx="147.7" cy="192.8" r="0.69" fill="#3c205e" fill-opacity="1.0"/>
<circle cx="177.2" cy="184.2" r="0.83" fill="#5a3282" fill-opacity="1.0"/>
<circle cx="164.3" cy="191.0" r="0.82" fill="#6a3a8a" fill-opacity="1.0"/>
<circle cx="170.5" cy="217.3" r="0.59" fill="#3c205e" fill-opacity="1.0"/>
<circle cx="193.7" cy="217.1" r="0.56" fill="#4a2872" fill-opacity="1.0"/>
<circle cx="146.8" cy="212.3" r="0.87" fill="#3c205e" fill-opacity="1.0"/>
<circle cx="157.2" cy="202.9" r="0.64" fill="#3c205e" fill-opacity="1.0"/>
<circle cx="138.4" cy="184.9" r="0.73" fill="#5a3282" fill-opacity="1.0"/>
<circle cx="143.7" cy="206.9" r="0.61" fill="#4a2872" fill-opacity="1.0"/>
<circle cx="145.1" cy="187.5" r="0.73" fill="#3c205e" fill-opacity="1.0"/>
<circle cx="174.8" cy="201.1" r="0.64" fill="#4a2872" fill-opacity="1.0"/>
<circle cx="139.5" cy="185.7" r="0.67" fill="#6a3a8a" fill-opacity="1.0"/>
<circle cx="137.1" cy="213.5" r="0.73" fill="#6a3a8a" fill-opacity="1.0"/>
<circle cx="152.4" cy="201.1" r="0.82" fill="#3c205e" fill-opacity="1.0"/>
<circle cx="165.6" cy="212.6" r="0.83" fill="#3c205e" fill-opacity="1.0"/>
<circle cx="170.7" cy="187.0" r="0.71" fill="#3c205e" fill-opacity="1.0"/>
<circle cx="141.1" cy="215.6" r="0.92" fill="#5a3282" fill-opacity="1.0"/>
<circle cx="136.9" cy="209.0" r="0.52" fill="#4a2872" fill-opacity="1.0"/>
<circle cx="185.0" cy="208.1" r="0.65" fill="#4a2872" fill-opacity="1.0"/>
<circle cx="141.8" cy="209.5" r="0.82" fill="#4a2872" fill-opacity="1.0"/>
<circle cx="134.9" cy="217.6" r="0.80" fill="#4a2872" fill-opacity="1.0"/>
<circle cx="175.7" cy="195.0" r="0.87" fill="#6a3a8a" fill-opacity="1.0"/>
<circle cx="143.3" cy="189.6" r="0.84" fill="#6a3a8a" fill-opacity="1.0"/>
<circle cx="176.2" cy="196.8" r="0.90" fill="#6a3a8a" fill-opacity="1.0"/>
<circle cx="192.3" cy="187.4" r="0.62" fill="#6a3a8a" fill-opacity="1.0"/>
<circle cx="161.8" cy="219.3" r="0.77" fill="#3c205e" fill-opacity="1.0"/>
<circle cx="179.3" cy="197.9" r="0.59" fill="#5a3282" fill-opacity="1.0"/>
<circle cx="178.7" cy="217.8" r="0.72" fill="#3c205e" fill-opacity="1.0"/>
<circle cx="181.9" cy="184.1" r="0.73" fill="#5a3282" fill-opacity="1.0"/>
<circle cx="192.6" cy="206.4" r="0.64" fill="#3c205e" fill-opacity="1.0"/>
<circle cx="174.6" cy="208.1" r="0.53" fill="#4a2872" fill-opacity="1.0"/>
<circle cx="185.6" cy="204.8" r="0.50" fill="#3c205e" fill-opacity="1.0"/>
<circle cx="170.0" cy="217.2" r="0.93" fill="#3c205e" fill-opacity="1.0"/>
<circle cx="146.9" cy="195.1" r="0.90" fill="#3c205e" fill-opacity="1.0"/>
<circle cx="151.4" cy="206.5" r="0.68" fill="#3c205e" fill-opacity="1.0"/>
<circle cx="139.7" cy="191.6" r="0.91" fill="#6a3a8a" fill-opacity="1.0"/>
<circle cx="179.1" cy="212.2" r="0.76" fill="#5a3282" fill-opacity="1.0"/>
<circle cx="182.8" cy="207.5" r="0.52" fill="#5a3282" fill-opacity="1.0"/>
<circle cx="179.0" cy="213.9" r="0.61" fill="#3c205e" fill-opacity="1.0"/>
<circle cx="156.2" cy="214.9" r="0.56" fill="#3c205e" fill-opacity="1.0"/>
<circle cx="173.9" cy="185.1" r="0.90" fill="#5a3282" fill-opacity="1.0"/>
<circle cx="184.7" cy="216.4" r="0.56" fill="#4a2872" fill-opacity="1.0"/>
<circle cx="181.4" cy="215.0" r="0.94" fill="#3c205e" fill-opacity="1.0"/>
<circle cx="161.7" cy="200.5" r="0.84" fill="#5a3282" fill-opacity="1.0"/>
<circle cx="177.5" cy="196.7" r="0.53" fill="#4a2872" fill-opacity="1.0"/>
<circle cx="153.0" cy="184.0" r="0.86" fill="#5a3282" fill-opacity="1.0"/>
<circle cx="155.6" cy="206.4" r="0.72" fill="#4a2872" fill-opacity="1.0"/>
<circle cx="145.1" cy="200.6" r="0.68" fill="#6a3a8a" fill-opacity="1.0"/>
<circle cx="191.2" cy="194.8" r="0.78" fill="#6a3a8a" fill-opacity="1.0"/>
<circle cx="152.4" cy="196.1" r="0.88" fill="#3c205e" fill-opacity="1.0"/>
<circle cx="168.0" cy="187.0" r="0.76" fill="#4a2872" fill-opacity="1.0"/>
<circle cx="162.5" cy="198.8" r="0.90" fill="#5a3282" fill-opacity="1.0"/>
<circle cx="145.7" cy="196.8" r="0.66" fill="#4a2872" fill-opacity="1.0"/>
<circle cx="172.9" cy="204.6" r="0.71" fill="#6a3a8a" fill-opacity="1.0"/>
<circle cx="134.4" cy="188.0" r="0.95" fill="#5a3282" fill-opacity="1.0"/>
<circle cx="164.9" cy="214.2" r="0.85" fill="#3c205e" fill-opacity="1.0"/>
</g>
<ellipse cx="178.0" cy="208.0" rx="7.0" ry="7.5" fill="#f7f3f5"/>
<ellipse cx="167.0" cy="216.5" rx="4.5" ry="2.5" fill="#e6aec4"/>
<ellipse cx="150.0" cy="213.0" rx="12.0" ry="5.0" fill="#f7f1f4"/>
<circle cx="148.0" cy="217.7" r="0.66" fill="#4a2872" fill-opacity="1.0"/>
<circle cx="150.4" cy="219.1" r="0.80" fill="#5a3282" fill-opacity="1.0"/>
<circle cx="149.2" cy="215.2" r="0.48" fill="#5a3282" fill-opacity="1.0"/>
<circle cx="150.0" cy="209.8" r="0.57" fill="#4a2872" fill-opacity="1.0"/>
<circle cx="155.8" cy="217.0" r="0.45" fill="#4a2872" fill-opacity="1.0"/>
<circle cx="158.1" cy="211.0" r="0.74" fill="#4a2872" fill-opacity="1.0"/>
<circle cx="149.7" cy="219.6" r="0.64" fill="#4a2872" fill-opacity="1.0"/>
<circle cx="163.4" cy="210.8" r="0.77" fill="#4a2872" fill-opacity="1.0"/>
<circle cx="156.1" cy="219.4" r="0.75" fill="#4a2872" fill-opacity="1.0"/>
<circle cx="156.2" cy="219.9" r="0.65" fill="#4a2872" fill-opacity="1.0"/>
<circle cx="149.1" cy="212.0" r="0.46" fill="#4a2872" fill-opacity="1.0"/>
<circle cx="158.0" cy="209.1" r="0.55" fill="#5a3282" fill-opacity="1.0"/>
<circle cx="150.3" cy="215.1" r="0.47" fill="#4a2872" fill-opacity="1.0"/>
<circle cx="162.1" cy="219.5" r="0.51" fill="#4a2872" fill-opacity="1.0"/>
<circle cx="156.8" cy="208.7" r="0.74" fill="#4a2872" fill-opacity="1.0"/>
<circle cx="158.1" cy="219.5" r="0.52" fill="#4a2872" fill-opacity="1.0"/>
<circle cx="155.5" cy="190.1" r="1.00" fill="#d8a0c0" fill-opacity="1.0"/>
<circle cx="158.1" cy="187.2" r="0.86" fill="#d8a0c0" fill-opacity="1.0"/>
<circle cx="161.3" cy="187.4" r="0.56" fill="#e8c0d4" fill-opacity="1.0"/>
<circle cx="159.9" cy="188.6" r="0.79" fill="#d8a0c0" fill-opacity="1.0"/>
<circle cx="146.8" cy="189.4" r="1.20" fill="#d8a0c0" fill-opacity="1.0"/>
<circle cx="145.2" cy="190.2" r="1.20" fill="#e8c0d4" fill-opacity="1.0"/>
<circle cx="137.8" cy="187.1" r="0.93" fill="#d8a0c0" fill-opacity="1.0"/>
<circle cx="142.3" cy="189.3" r="0.81" fill="#e8c0d4" fill-opacity="1.0"/>
<circle cx="138.8" cy="186.2" r="0.85" fill="#e8c0d4" fill-opacity="1.0"/>
<circle cx="145.5" cy="191.4" r="1.04" fill="#d8a0c0" fill-opacity="1.0"/>
<circle cx="147.2" cy="185.8" r="0.86" fill="#d8a0c0" fill-opacity="1.0"/>
<circle cx="150.8" cy="184.4" r="0.62" fill="#e8c0d4" fill-opacity="1.0"/>
<circle cx="143.6" cy="186.8" r="0.55" fill="#e8c0d4" fill-opacity="1.0"/>
<circle cx="143.6" cy="187.3" r="0.75" fill="#d8a0c0" fill-opacity="1.0"/>
</g></g>
<g clip-path="url(#c01)"><g filter="url(#hb)">
<rect x="10.00" y="221.60" width="60.20" height="37.20" fill="#aec6d3"/>
<circle cx="49.4" cy="239.3" r="1.08" fill="#d4e2ea" fill-opacity="1.0"/>
<circle cx="10.4" cy="253.9" r="1.01" fill="#c8d8e2" fill-opacity="1.0"/>
<circle cx="41.0" cy="248.7" r="0.97" fill="#7ea2ba" fill-opacity="1.0"/>
<circle cx="47.8" cy="227.5" r="0.96" fill="#8aaabf" fill-opacity="1.0"/>
<circle cx="67.9" cy="227.1" r="0.76" fill="#7ea2ba" fill-opacity="1.0"/>
<circle cx="58.3" cy="244.0" r="0.97" fill="#c8d8e2" fill-opacity="1.0"/>
<circle cx="58.9" cy="227.5" r="0.89" fill="#a0bccd" fill-opacity="1.0"/>
<circle cx="27.4" cy="226.8" r="1.13" fill="#8aaabf" fill-opacity="1.0"/>
<circle cx="47.6" cy="252.2" r="0.81" fill="#c8d8e2" fill-opacity="1.0"/>
<circle cx="32.2" cy="255.6" r="0.74" fill="#d4e2ea" fill-opacity="1.0"/>
<circle cx="58.3" cy="234.0" r="1.16" fill="#8aaabf" fill-opacity="1.0"/>
<circle cx="30.3" cy="236.3" r="0.93" fill="#c8d8e2" fill-opacity="1.0"/>
<circle cx="11.0" cy="252.0" r="0.55" fill="#d4e2ea" fill-opacity="1.0"/>
<circle cx="10.7" cy="255.5" r="0.70" fill="#7ea2ba" fill-opacity="1.0"/>
<circle cx="19.8" cy="247.8" r="0.52" fill="#a0bccd" fill-opacity="1.0"/>
<circle cx="22.8" cy="249.6" r="0.60" fill="#c8d8e2" fill-opacity="1.0"/>
<circle cx="23.9" cy="223.8" r="0.68" fill="#8aaabf" fill-opacity="1.0"/>
<circle cx="67.8" cy="242.5" r="1.15" fill="#8aaabf" fill-opacity="1.0"/>
<circle cx="57.1" cy="227.2" r="1.09" fill="#8aaabf" fill-opacity="1.0"/>
<circle cx="55.6" cy="254.2" r="0.77" fill="#8aaabf" fill-opacity="1.0"/>
<circle cx="48.4" cy="248.5" r="0.63" fill="#a0bccd" fill-opacity="1.0"/>
<circle cx="69.6" cy="223.0" r="0.54" fill="#8aaabf" fill-opacity="1.0"/>
<circle cx="12.4" cy="234.1" r="0.99" fill="#a0bccd" fill-opacity="1.0"/>
<circle cx="16.9" cy="227.8" r="0.63" fill="#d4e2ea" fill-opacity="1.0"/>
<circle cx="31.8" cy="257.4" r="0.64" fill="#8aaabf" fill-opacity="1.0"/>
<circle cx="69.7" cy="238.1" r="0.77" fill="#c8d8e2" fill-opacity="1.0"/>
<circle cx="37.2" cy="240.0" r="0.52" fill="#a0bccd" fill-opacity="1.0"/>
<circle cx="20.1" cy="255.5" r="1.06" fill="#8aaabf" fill-opacity="1.0"/>
<circle cx="37.2" cy="245.2" r="1.13" fill="#7ea2ba" fill-opacity="1.0"/>
<circle cx="43.4" cy="255.2" r="0.51" fill="#7ea2ba" fill-opacity="1.0"/>
<circle cx="63.8" cy="244.4" r="0.74" fill="#7ea2ba" fill-opacity="1.0"/>
<circle cx="41.2" cy="227.2" r="0.53" fill="#d4e2ea" fill-opacity="1.0"/>
<circle cx="41.5" cy="240.5" r="0.98" fill="#a0bccd" fill-opacity="1.0"/>
<circle cx="52.1" cy="221.8" r="1.06" fill="#d4e2ea" fill-opacity="1.0"/>
<circle cx="67.3" cy="253.7" r="0.75" fill="#a0bccd" fill-opacity="1.0"/>
<circle cx="44.8" cy="249.3" r="0.79" fill="#7ea2ba" fill-opacity="1.0"/>
<circle cx="68.3" cy="256.9" r="0.93" fill="#c8d8e2" fill-opacity="1.0"/>
<circle cx="64.6" cy="228.9" r="1.20" fill="#a0bccd" fill-opacity="1.0"/>
<circle cx="58.3" cy="251.5" r="1.07" fill="#d4e2ea" fill-opacity="1.0"/>
<circle cx="52.0" cy="233.7" r="1.03" fill="#c8d8e2" fill-opacity="1.0"/>
<circle cx="58.9" cy="234.4" r="0.90" fill="#d4e2ea" fill-opacity="1.0"/>
<circle cx="39.8" cy="232.1" r="1.15" fill="#8aaabf" fill-opacity="1.0"/>
<circle cx="40.0" cy="253.1" r="0.53" fill="#7ea2ba" fill-opacity="1.0"/>
<circle cx="56.4" cy="243.4" r="1.14" fill="#d4e2ea" fill-opacity="1.0"/>
<circle cx="41.0" cy="248.4" r="0.50" fill="#d4e2ea" fill-opacity="1.0"/>
<circle cx="57.4" cy="225.5" r="0.69" fill="#8aaabf" fill-opacity="1.0"/>
<circle cx="47.0" cy="238.1" r="1.12" fill="#c8d8e2" fill-opacity="1.0"/>
<circle cx="15.0" cy="238.7" r="0.76" fill="#8aaabf" fill-opacity="1.0"/>
<circle cx="40.1" cy="249.0" r="0.65" fill="#c8d8e2" fill-opacity="1.0"/>
<circle cx="27.0" cy="235.7" r="1.14" fill="#d4e2ea" fill-opacity="1.0"/>
<circle cx="70.9" cy="237.8" r="0.90" fill="#c8d8e2" fill-opacity="1.0"/>
<circle cx="37.8" cy="254.4" r="0.78" fill="#7ea2ba" fill-opacity="1.0"/>
<circle cx="68.5" cy="223.4" r="1.09" fill="#c8d8e2" fill-opacity="1.0"/>
<circle cx="13.3" cy="259.2" r="0.88" fill="#a0bccd" fill-opacity="1.0"/>
<circle cx="31.4" cy="254.0" r="1.10" fill="#c8d8e2" fill-opacity="1.0"/>
<circle cx="59.7" cy="222.9" r="0.83" fill="#8aaabf" fill-opacity="1.0"/>
<circle cx="15.0" cy="251.7" r="1.12" fill="#a0bccd" fill-opacity="1.0"/>
<circle cx="38.3" cy="239.4" r="1.00" fill="#c8d8e2" fill-opacity="1.0"/>
<circle cx="30.9" cy="257.0" r="0.63" fill="#a0bccd" fill-opacity="1.0"/>
<circle cx="49.4" cy="250.4" r="0.95" fill="#d4e2ea" fill-opacity="1.0"/>
<circle cx="25.9" cy="227.8" r="1.13" fill="#a0bccd" fill-opacity="1.0"/>
<circle cx="38.9" cy="251.5" r="0.68" fill="#8aaabf" fill-opacity="1.0"/>
<circle cx="23.5" cy="256.0" r="0.93" fill="#8aaabf" fill-opacity="1.0"/>
<circle cx="48.5" cy="241.9" r="1.10" fill="#7ea2ba" fill-opacity="1.0"/>
<circle cx="22.9" cy="237.4" r="0.83" fill="#c8d8e2" fill-opacity="1.0"/>
<circle cx="51.6" cy="249.9" r="0.66" fill="#7ea2ba" fill-opacity="1.0"/>
<circle cx="39.3" cy="241.7" r="0.64" fill="#c8d8e2" fill-opacity="1.0"/>
<circle cx="19.8" cy="247.6" r="0.89" fill="#7ea2ba" fill-opacity="1.0"/>
<circle cx="64.3" cy="256.4" r="1.13" fill="#7ea2ba" fill-opacity="1.0"/>
<circle cx="40.1" cy="231.8" r="0.76" fill="#d4e2ea" fill-opacity="1.0"/>
<circle cx="40.3" cy="258.6" r="0.73" fill="#c8d8e2" fill-opacity="1.0"/>
<circle cx="64.1" cy="235.6" r="1.17" fill="#a0bccd" fill-opacity="1.0"/>
<circle cx="40.4" cy="232.3" r="0.73" fill="#d4e2ea" fill-opacity="1.0"/>
<circle cx="43.4" cy="233.5" r="0.52" fill="#a0bccd" fill-opacity="1.0"/>
<circle cx="38.0" cy="258.0" r="0.82" fill="#c8d8e2" fill-opacity="1.0"/>
<circle cx="44.3" cy="257.6" r="0.98" fill="#c8d8e2" fill-opacity="1.0"/>
<circle cx="39.3" cy="256.9" r="0.64" fill="#a0bccd" fill-opacity="1.0"/>
<circle cx="32.0" cy="244.6" r="0.71" fill="#a0bccd" fill-opacity="1.0"/>
<circle cx="53.3" cy="243.9" r="0.79" fill="#a0bccd" fill-opacity="1.0"/>
<circle cx="43.7" cy="229.4" r="0.86" fill="#8aaabf" fill-opacity="1.0"/>
<circle cx="55.9" cy="230.6" r="0.58" fill="#c8d8e2" fill-opacity="1.0"/>
<circle cx="66.5" cy="259.3" r="0.97" fill="#8aaabf" fill-opacity="1.0"/>
<circle cx="26.3" cy="258.6" r="0.56" fill="#c8d8e2" fill-opacity="1.0"/>
<circle cx="29.1" cy="243.2" r="0.51" fill="#7ea2ba" fill-opacity="1.0"/>
<circle cx="31.4" cy="248.6" r="0.87" fill="#a0bccd" fill-opacity="1.0"/>
<circle cx="10.8" cy="229.3" r="0.63" fill="#a0bccd" fill-opacity="1.0"/>
<circle cx="16.2" cy="257.0" r="0.69" fill="#d4e2ea" fill-opacity="1.0"/>
<circle cx="68.3" cy="247.2" r="0.77" fill="#8aaabf" fill-opacity="1.0"/>
<circle cx="14.1" cy="253.2" r="1.19" fill="#8aaabf" fill-opacity="1.0"/>
<circle cx="60.6" cy="255.5" r="0.86" fill="#7ea2ba" fill-opacity="1.0"/>
<circle cx="32.2" cy="246.7" r="1.17" fill="#8aaabf" fill-opacity="1.0"/>
<circle cx="70.6" cy="245.3" r="0.96" fill="#a0bccd" fill-opacity="1.0"/>
<circle cx="32.7" cy="235.5" r="0.59" fill="#c8d8e2" fill-opacity="1.0"/>
<circle cx="25.6" cy="227.0" r="0.61" fill="#a0bccd" fill-opacity="1.0"/>
<circle cx="16.7" cy="251.9" r="0.59" fill="#c8d8e2" fill-opacity="1.0"/>
<circle cx="40.7" cy="243.4" r="0.89" fill="#7ea2ba" fill-opacity="1.0"/>
<circle cx="38.3" cy="250.1" r="1.01" fill="#a0bccd" fill-opacity="1.0"/>
<circle cx="35.8" cy="230.6" r="1.03" fill="#a0bccd" fill-opacity="1.0"/>
<circle cx="64.6" cy="235.2" r="1.04" fill="#7ea2ba" fill-opacity="1.0"/>
<circle cx="45.9" cy="237.9" r="0.83" fill="#8aaabf" fill-opacity="1.0"/>
<circle cx="23.6" cy="247.1" r="1.08" fill="#7ea2ba" fill-opacity="1.0"/>
<circle cx="70.3" cy="230.7" r="0.53" fill="#a0bccd" fill-opacity="1.0"/>
<circle cx="22.1" cy="231.5" r="1.04" fill="#8aaabf" fill-opacity="1.0"/>
<circle cx="30.7" cy="224.6" r="1.03" fill="#8aaabf" fill-opacity="1.0"/>
<circle cx="41.2" cy="257.2" r="0.67" fill="#a0bccd" fill-opacity="1.0"/>
<circle cx="20.5" cy="238.0" r="1.15" fill="#8aaabf" fill-opacity="1.0"/>
<circle cx="53.1" cy="237.9" r="0.62" fill="#8aaabf" fill-opacity="1.0"/>
<circle cx="40.4" cy="259.2" r="1.01" fill="#a0bccd" fill-opacity="1.0"/>
<circle cx="59.9" cy="251.6" r="0.70" fill="#8aaabf" fill-opacity="1.0"/>
<circle cx="30.5" cy="225.5" r="1.02" fill="#a0bccd" fill-opacity="1.0"/>
<circle cx="41.1" cy="228.0" r="0.97" fill="#7ea2ba" fill-opacity="1.0"/>
<circle cx="25.8" cy="238.8" r="0.67" fill="#7ea2ba" fill-opacity="1.0"/>
<circle cx="10.2" cy="230.1" r="0.78" fill="#a0bccd" fill-opacity="1.0"/>
<circle cx="34.9" cy="242.0" r="0.70" fill="#c8d8e2" fill-opacity="1.0"/>
<circle cx="30.4" cy="231.7" r="0.97" fill="#a0bccd" fill-opacity="1.0"/>
<circle cx="12.3" cy="237.4" r="1.09" fill="#8aaabf" fill-opacity="1.0"/>
<circle cx="19.5" cy="224.3" r="0.88" fill="#c8d8e2" fill-opacity="1.0"/>
<circle cx="66.1" cy="225.4" r="0.85" fill="#7ea2ba" fill-opacity="1.0"/>
<circle cx="25.4" cy="225.4" r="1.15" fill="#d4e2ea" fill-opacity="1.0"/>
<circle cx="59.3" cy="232.7" r="1.15" fill="#7ea2ba" fill-opacity="1.0"/>
<circle cx="17.7" cy="224.2" r="0.81" fill="#8aaabf" fill-opacity="1.0"/>
<circle cx="52.5" cy="243.6" r="1.18" fill="#8aaabf" fill-opacity="1.0"/>
<circle cx="58.2" cy="251.6" r="0.55" fill="#c8d8e2" fill-opacity="1.0"/>
<circle cx="24.6" cy="230.0" r="1.16" fill="#c8d8e2" fill-opacity="1.0"/>
<circle cx="31.2" cy="248.0" r="0.76" fill="#c8d8e2" fill-opacity="1.0"/>
<circle cx="19.9" cy="238.2" r="0.63" fill="#a0bccd" fill-opacity="1.0"/>
<circle cx="15.6" cy="249.2" r="1.11" fill="#a0bccd" fill-opacity="1.0"/>
<circle cx="50.2" cy="231.5" r="0.58" fill="#7ea2ba" fill-opacity="1.0"/>
<circle cx="15.6" cy="230.0" r="0.61" fill="#c8d8e2" fill-opacity="1.0"/>
<circle cx="15.1" cy="233.2" r="0.91" fill="#d4e2ea" fill-opacity="1.0"/>
<circle cx="62.8" cy="244.0" r="1.18" fill="#d4e2ea" fill-opacity="1.0"/>
<circle cx="42.5" cy="233.4" r="0.64" fill="#c8d8e2" fill-opacity="1.0"/>
<circle cx="17.7" cy="235.1" r="0.89" fill="#a0bccd" fill-opacity="1.0"/>
<circle cx="47.8" cy="246.7" r="0.59" fill="#8aaabf" fill-opacity="1.0"/>
<circle cx="35.5" cy="246.8" r="0.63" fill="#d4e2ea" fill-opacity="1.0"/>
<circle cx="27.9" cy="226.1" r="0.94" fill="#7ea2ba" fill-opacity="1.0"/>
<circle cx="57.6" cy="241.3" r="0.67" fill="#d4e2ea" fill-opacity="1.0"/>
<circle cx="43.1" cy="242.3" r="0.71" fill="#8aaabf" fill-opacity="1.0"/>
<circle cx="59.9" cy="239.9" r="1.01" fill="#a0bccd" fill-opacity="1.0"/>
<circle cx="54.5" cy="254.4" r="1.00" fill="#7ea2ba" fill-opacity="1.0"/>
<circle cx="31.9" cy="250.3" r="1.01" fill="#a0bccd" fill-opacity="1.0"/>
<circle cx="60.4" cy="259.0" r="0.80" fill="#c8d8e2" fill-opacity="1.0"/>
<circle cx="48.7" cy="248.0" r="0.69" fill="#8aaabf" fill-opacity="1.0"/>
<circle cx="30.8" cy="237.2" r="0.81" fill="#d4e2ea" fill-opacity="1.0"/>
<circle cx="42.0" cy="247.1" r="1.18" fill="#a0bccd" fill-opacity="1.0"/>
<circle cx="30.8" cy="239.5" r="1.00" fill="#a0bccd" fill-opacity="1.0"/>
<circle cx="39.7" cy="235.6" r="0.69" fill="#7ea2ba" fill-opacity="1.0"/>
<circle cx="12.6" cy="226.6" r="0.74" fill="#7ea2ba" fill-opacity="1.0"/>
<circle cx="62.9" cy="238.3" r="0.79" fill="#c8d8e2" fill-opacity="1.0"/>
<circle cx="19.4" cy="246.0" r="1.00" fill="#c8d8e2" fill-opacity="1.0"/>
<circle cx="27.1" cy="256.6" r="1.10" fill="#c8d8e2" fill-opacity="1.0"/>
<circle cx="12.2" cy="228.2" r="0.54" fill="#7ea2ba" fill-opacity="1.0"/>
<circle cx="21.7" cy="251.0" r="0.76" fill="#8aaabf" fill-opacity="1.0"/>
<circle cx="16.8" cy="231.9" r="0.86" fill="#d4e2ea" fill-opacity="1.0"/>
<circle cx="70.3" cy="259.1" r="0.77" fill="#a0bccd" fill-opacity="1.0"/>
<circle cx="33.1" cy="222.0" r="0.76" fill="#c8d8e2" fill-opacity="1.0"/>
<circle cx="30.3" cy="247.4" r="0.94" fill="#a0bccd" fill-opacity="1.0"/>
<circle cx="22.6" cy="243.6" r="0.90" fill="#a0bccd" fill-opacity="1.0"/>
<circle cx="27.9" cy="229.2" r="1.10" fill="#a0bccd" fill-opacity="1.0"/>
<circle cx="24.2" cy="243.9" r="0.90" fill="#c8d8e2" fill-opacity="1.0"/>
<ellipse cx="16.5" cy="238.0" rx="8.5" ry="13.5" fill="#eef1f5"/>
<ellipse cx="33.0" cy="255.0" rx="11.0" ry="6.0" fill="#eef1f5"/>
<ellipse cx="26.0" cy="224.5" rx="10.0" ry="4.0" fill="#eef1f5"/>
<ellipse cx="66.0" cy="226.0" rx="3.5" ry="4.5" fill="#eef1f5"/>
<ellipse cx="56.5" cy="255.0" rx="6.0" ry="4.5" fill="#eef1f5"/>
<ellipse cx="43.0" cy="223.5" rx="4.0" ry="2.2" fill="#eef1f5"/>
<ellipse cx="22.0" cy="247.0" rx="5.0" ry="5.0" fill="#eef1f5"/>
<ellipse cx="63.0" cy="240.0" rx="5.0" ry="8.0" fill="#d8c0d8" fill-opacity="0.7"/>
<circle cx="43.6" cy="250.3" r="0.86" fill="#d8a0c0" fill-opacity="1.0"/>
<circle cx="55.3" cy="242.2" r="0.65" fill="#e0b0cc" fill-opacity="1.0"/>
<circle cx="69.8" cy="256.5" r="0.51" fill="#d8a0c0" fill-opacity="1.0"/>
<circle cx="43.5" cy="257.8" r="0.67" fill="#e0b0cc" fill-opacity="1.0"/>
<circle cx="47.3" cy="250.6" r="0.76" fill="#d8a0c0" fill-opacity="1.0"/>
<circle cx="55.6" cy="249.9" r="0.71" fill="#e0b0cc" fill-opacity="1.0"/>
<circle cx="63.3" cy="248.6" r="1.19" fill="#d8a0c0" fill-opacity="1.0"/>
<circle cx="59.9" cy="248.3" r="0.92" fill="#d8a0c0" fill-opacity="1.0"/>
<circle cx="63.3" cy="255.2" r="0.88" fill="#e0b0cc" fill-opacity="1.0"/>
<circle cx="44.8" cy="257.2" r="1.19" fill="#e0b0cc" fill-opacity="1.0"/>
<circle cx="68.2" cy="255.8" r="0.72" fill="#d8a0c0" fill-opacity="1.0"/>
<circle cx="60.8" cy="241.2" r="1.13" fill="#d8a0c0" fill-opacity="1.0"/>
<circle cx="51.1" cy="247.8" r="0.86" fill="#e0b0cc" fill-opacity="1.0"/>
<circle cx="67.6" cy="246.3" r="0.76" fill="#d8a0c0" fill-opacity="1.0"/>
<circle cx="43.0" cy="249.5" r="0.58" fill="#e0b0cc" fill-opacity="1.0"/>
<circle cx="65.8" cy="243.8" r="1.11" fill="#e0b0cc" fill-opacity="1.0"/>
<circle cx="65.4" cy="250.8" r="0.89" fill="#e0b0cc" fill-opacity="1.0"/>
<circle cx="48.5" cy="241.5" r="1.17" fill="#e0b0cc" fill-opacity="1.0"/>
<circle cx="65.3" cy="246.6" r="1.19" fill="#e0b0cc" fill-opacity="1.0"/>
<circle cx="44.1" cy="252.1" r="0.58" fill="#d8a0c0" fill-opacity="1.0"/>
<ellipse cx="31.2" cy="236.8" rx="3.9" ry="3.9" fill="#dd2a6c"/>
<ellipse cx="31.2" cy="236.8" rx="1.9" ry="1.9" fill="#ee6e9c"/>
<ellipse cx="37.4" cy="230.5" rx="3.3" ry="3.3" fill="#dd2a6c"/>
<ellipse cx="37.4" cy="230.5" rx="1.6" ry="1.6" fill="#ee6e9c"/>
<ellipse cx="48.0" cy="237.8" rx="3.6" ry="4.9" fill="#dd2a6c"/>
<ellipse cx="48.0" cy="237.8" rx="1.8" ry="2.5" fill="#ee6e9c"/>
<ellipse cx="56.6" cy="222.3" rx="2.2" ry="1.3" fill="#dd2a6c"/>
<ellipse cx="56.6" cy="222.3" rx="1.1" ry="0.7" fill="#ee6e9c"/>
<ellipse cx="64.6" cy="246.5" rx="1.5" ry="2.6" fill="#dd2a6c"/>
<ellipse cx="64.6" cy="246.5" rx="0.8" ry="1.3" fill="#ee6e9c"/>
<ellipse cx="33.8" cy="248.3" rx="1.6" ry="1.4" fill="#dd2a6c"/>
<ellipse cx="33.8" cy="248.3" rx="0.8" ry="0.7" fill="#ee6e9c"/>
</g></g>
<g clip-path="url(#c11)"><g filter="url(#hb)">
<rect x="71.40" y="221.60" width="60.20" height="37.20" fill="#cad9e3"/>
<circle cx="96.9" cy="258.0" r="0.62" fill="#b0c6d6" fill-opacity="1.0"/>
<circle cx="71.6" cy="259.5" r="0.52" fill="#e4ecf0" fill-opacity="1.0"/>
<circle cx="98.6" cy="237.0" r="0.54" fill="#b0c6d6" fill-opacity="1.0"/>
<circle cx="81.4" cy="256.4" r="0.89" fill="#7fa2bc" fill-opacity="1.0"/>
<circle cx="73.2" cy="229.9" r="0.98" fill="#b0c6d6" fill-opacity="1.0"/>
<circle cx="112.6" cy="240.5" r="0.68" fill="#9ab6cb" fill-opacity="1.0"/>
<circle cx="104.4" cy="224.2" r="0.50" fill="#9ab6cb" fill-opacity="1.0"/>
<circle cx="87.2" cy="246.1" r="0.48" fill="#e4ecf0" fill-opacity="1.0"/>
<circle cx="118.4" cy="246.6" r="0.92" fill="#6d92b0" fill-opacity="1.0"/>
<circle cx="105.0" cy="226.7" r="0.69" fill="#e4ecf0" fill-opacity="1.0"/>
<circle cx="78.2" cy="232.0" r="0.58" fill="#9ab6cb" fill-opacity="1.0"/>
<circle cx="104.7" cy="245.0" r="0.87" fill="#e4ecf0" fill-opacity="1.0"/>
<circle cx="122.2" cy="247.1" r="0.85" fill="#6d92b0" fill-opacity="1.0"/>
<circle cx="106.0" cy="250.2" r="0.62" fill="#b0c6d6" fill-opacity="1.0"/>
<circle cx="104.9" cy="227.8" r="0.44" fill="#7fa2bc" fill-opacity="1.0"/>
<circle cx="76.3" cy="245.3" r="0.76" fill="#e4ecf0" fill-opacity="1.0"/>
<circle cx="115.8" cy="231.8" r="0.91" fill="#9ab6cb" fill-opacity="1.0"/>
<circle cx="126.6" cy="257.7" r="0.41" fill="#e4ecf0" fill-opacity="1.0"/>
<circle cx="125.7" cy="238.3" r="0.90" fill="#b0c6d6" fill-opacity="1.0"/>
<circle cx="103.9" cy="254.4" r="0.52" fill="#6d92b0" fill-opacity="1.0"/>
<circle cx="108.2" cy="226.6" r="0.62" fill="#7fa2bc" fill-opacity="1.0"/>
<circle cx="72.8" cy="248.9" r="0.43" fill="#6d92b0" fill-opacity="1.0"/>
<circle cx="112.4" cy="233.0" r="0.84" fill="#7fa2bc" fill-opacity="1.0"/>
<circle cx="124.5" cy="259.2" r="0.66" fill="#6d92b0" fill-opacity="1.0"/>
<circle cx="105.1" cy="221.8" r="0.44" fill="#6d92b0" fill-opacity="1.0"/>
<circle cx="85.3" cy="225.1" r="0.96" fill="#e4ecf0" fill-opacity="1.0"/>
<circle cx="100.9" cy="244.4" r="0.93" fill="#b0c6d6" fill-opacity="1.0"/>
<circle cx="114.1" cy="239.2" r="0.87" fill="#b0c6d6" fill-opacity="1.0"/>
<circle cx="122.0" cy="257.3" r="0.53" fill="#6d92b0" fill-opacity="1.0"/>
<circle cx="116.8" cy="253.2" r="0.55" fill="#6d92b0" fill-opacity="1.0"/>
<circle cx="95.6" cy="230.1" r="0.53" fill="#6d92b0" fill-opacity="1.0"/>
<circle cx="99.6" cy="234.8" r="0.69" fill="#e4ecf0" fill-opacity="1.0"/>
<circle cx="117.4" cy="249.9" r="0.93" fill="#6d92b0" fill-opacity="1.0"/>
<circle cx="95.9" cy="227.7" r="0.70" fill="#b0c6d6" fill-opacity="1.0"/>
<circle cx="80.9" cy="250.6" r="0.66" fill="#9ab6cb" fill-opacity="1.0"/>
<circle cx="100.2" cy="240.9" r="0.87" fill="#9ab6cb" fill-opacity="1.0"/>
<circle cx="111.3" cy="231.1" r="0.74" fill="#7fa2bc" fill-opacity="1.0"/>
<circle cx="87.5" cy="234.8" r="0.47" fill="#6d92b0" fill-opacity="1.0"/>
<circle cx="94.4" cy="243.6" r="0.53" fill="#b0c6d6" fill-opacity="1.0"/>
<circle cx="120.7" cy="254.7" r="0.58" fill="#9ab6cb" fill-opacity="1.0"/>
<circle cx="105.1" cy="244.5" r="0.78" fill="#9ab6cb" fill-opacity="1.0"/>
<circle cx="114.1" cy="228.1" r="0.80" fill="#7fa2bc" fill-opacity="1.0"/>
<circle cx="119.4" cy="247.4" r="0.89" fill="#b0c6d6" fill-opacity="1.0"/>
<circle cx="122.3" cy="248.7" r="0.66" fill="#7fa2bc" fill-opacity="1.0"/>
<circle cx="80.9" cy="228.1" r="0.94" fill="#6d92b0" fill-opacity="1.0"/>
<circle cx="84.9" cy="254.5" r="0.63" fill="#9ab6cb" fill-opacity="1.0"/>
<circle cx="77.5" cy="249.0" r="0.90" fill="#9ab6cb" fill-opacity="1.0"/>
<circle cx="100.4" cy="242.0" r="0.66" fill="#e4ecf0" fill-opacity="1.0"/>
<circle cx="101.1" cy="225.4" r="0.99" fill="#9ab6cb" fill-opacity="1.0"/>
<circle cx="98.5" cy="255.4" r="0.79" fill="#7fa2bc" fill-opacity="1.0"/>
<circle cx="104.2" cy="229.9" r="0.87" fill="#6d92b0" fill-opacity="1.0"/>
<circle cx="109.9" cy="244.2" r="0.96" fill="#9ab6cb" fill-opacity="1.0"/>
<circle cx="110.9" cy="235.7" r="0.69" fill="#7fa2bc" fill-opacity="1.0"/>
<circle cx="131.2" cy="227.6" r="0.58" fill="#6d92b0" fill-opacity="1.0"/>
<circle cx="105.0" cy="249.5" r="0.46" fill="#e4ecf0" fill-opacity="1.0"/>
<circle cx="124.5" cy="223.5" r="0.55" fill="#7fa2bc" fill-opacity="1.0"/>
<circle cx="87.0" cy="253.3" r="0.56" fill="#9ab6cb" fill-opacity="1.0"/>
<circle cx="86.7" cy="233.0" r="0.68" fill="#6d92b0" fill-opacity="1.0"/>
<circle cx="86.2" cy="255.0" r="0.65" fill="#9ab6cb" fill-opacity="1.0"/>
<circle cx="124.1" cy="225.9" r="0.85" fill="#b0c6d6" fill-opacity="1.0"/>
<circle cx="113.9" cy="251.3" r="1.00" fill="#9ab6cb" fill-opacity="1.0"/>
<circle cx="92.8" cy="233.5" r="0.63" fill="#e4ecf0" fill-opacity="1.0"/>
<circle cx="95.3" cy="233.5" r="0.44" fill="#e4ecf0" fill-opacity="1.0"/>
<circle cx="117.0" cy="247.3" r="0.75" fill="#e4ecf0" fill-opacity="1.0"/>
<circle cx="122.1" cy="239.7" r="0.51" fill="#b0c6d6" fill-opacity="1.0"/>
<circle cx="126.6" cy="252.8" r="0.53" fill="#7fa2bc" fill-opacity="1.0"/>
<circle cx="105.5" cy="239.1" r="0.74" fill="#9ab6cb" fill-opacity="1.0"/>
<circle cx="132.1" cy="240.9" r="0.47" fill="#6d92b0" fill-opacity="1.0"/>
<circle cx="126.3" cy="238.0" r="0.41" fill="#6d92b0" fill-opacity="1.0"/>
<circle cx="109.6" cy="245.6" r="0.91" fill="#b0c6d6" fill-opacity="1.0"/>
<circle cx="121.3" cy="254.8" r="0.66" fill="#9ab6cb" fill-opacity="1.0"/>
<circle cx="80.1" cy="236.5" r="0.40" fill="#6d92b0" fill-opacity="1.0"/>
<circle cx="72.7" cy="238.4" r="0.59" fill="#e4ecf0" fill-opacity="1.0"/>
<circle cx="85.5" cy="224.2" r="0.43" fill="#7fa2bc" fill-opacity="1.0"/>
<circle cx="88.9" cy="251.6" r="0.58" fill="#e4ecf0" fill-opacity="1.0"/>
<circle cx="113.4" cy="227.8" r="0.46" fill="#7fa2bc" fill-opacity="1.0"/>
<circle cx="132.1" cy="233.0" r="0.87" fill="#6d92b0" fill-opacity="1.0"/>
<circle cx="114.4" cy="245.0" r="0.78" fill="#b0c6d6" fill-opacity="1.0"/>
<circle cx="126.0" cy="226.1" r="0.68" fill="#b0c6d6" fill-opacity="1.0"/>
<circle cx="130.4" cy="236.2" r="0.66" fill="#9ab6cb" fill-opacity="1.0"/>
<circle cx="94.6" cy="229.2" r="0.69" fill="#b0c6d6" fill-opacity="1.0"/>
<circle cx="95.4" cy="250.3" r="0.57" fill="#7fa2bc" fill-opacity="1.0"/>
<circle cx="107.2" cy="246.4" r="0.56" fill="#9ab6cb" fill-opacity="1.0"/>
<circle cx="80.8" cy="236.4" r="0.77" fill="#6d92b0" fill-opacity="1.0"/>
<circle cx="80.7" cy="241.3" r="0.66" fill="#6d92b0" fill-opacity="1.0"/>
<circle cx="126.1" cy="230.6" r="0.74" fill="#b0c6d6" fill-opacity="1.0"/>
<circle cx="76.4" cy="244.9" r="0.80" fill="#6d92b0" fill-opacity="1.0"/>
<circle cx="127.0" cy="238.3" r="0.86" fill="#7fa2bc" fill-opacity="1.0"/>
<circle cx="127.8" cy="225.7" r="0.58" fill="#7fa2bc" fill-opacity="1.0"/>
<circle cx="120.8" cy="235.4" r="0.88" fill="#7fa2bc" fill-opacity="1.0"/>
<circle cx="72.4" cy="227.3" r="0.53" fill="#7fa2bc" fill-opacity="1.0"/>
<circle cx="121.1" cy="242.6" r="0.76" fill="#7fa2bc" fill-opacity="1.0"/>
<circle cx="79.8" cy="252.8" r="0.65" fill="#6d92b0" fill-opacity="1.0"/>
<circle cx="107.1" cy="233.5" r="0.98" fill="#e4ecf0" fill-opacity="1.0"/>
<circle cx="116.7" cy="225.3" r="0.97" fill="#b0c6d6" fill-opacity="1.0"/>
<circle cx="90.0" cy="223.8" r="0.47" fill="#b0c6d6" fill-opacity="1.0"/>
<circle cx="75.3" cy="248.0" r="0.75" fill="#6d92b0" fill-opacity="1.0"/>
<circle cx="112.7" cy="232.6" r="0.74" fill="#7fa2bc" fill-opacity="1.0"/>
<circle cx="88.6" cy="243.9" r="0.58" fill="#6d92b0" fill-opacity="1.0"/>
<circle cx="110.3" cy="240.9" r="0.46" fill="#e4ecf0" fill-opacity="1.0"/>
<circle cx="101.6" cy="230.3" r="0.47" fill="#e4ecf0" fill-opacity="1.0"/>
<circle cx="122.2" cy="232.7" r="0.58" fill="#9ab6cb" fill-opacity="1.0"/>
<circle cx="96.5" cy="255.5" r="0.56" fill="#e4ecf0" fill-opacity="1.0"/>
<circle cx="125.8" cy="259.2" r="0.97" fill="#6d92b0" fill-opacity="1.0"/>
<circle cx="129.1" cy="254.1" r="0.88" fill="#9ab6cb" fill-opacity="1.0"/>
<circle cx="132.2" cy="246.2" r="0.89" fill="#e4ecf0" fill-opacity="1.0"/>
<circle cx="72.3" cy="231.4" r="0.82" fill="#6d92b0" fill-opacity="1.0"/>
<circle cx="87.2" cy="245.0" r="0.52" fill="#b0c6d6" fill-opacity="1.0"/>
<circle cx="82.0" cy="246.3" r="0.58" fill="#7fa2bc" fill-opacity="1.0"/>
<circle cx="82.7" cy="246.0" r="0.72" fill="#b0c6d6" fill-opacity="1.0"/>
<circle cx="74.0" cy="228.9" r="0.98" fill="#b0c6d6" fill-opacity="1.0"/>
<circle cx="113.2" cy="229.0" r="0.80" fill="#e4ecf0" fill-opacity="1.0"/>
<circle cx="116.6" cy="246.3" r="0.64" fill="#e4ecf0" fill-opacity="1.0"/>
<circle cx="95.8" cy="236.6" r="0.63" fill="#9ab6cb" fill-opacity="1.0"/>
<circle cx="130.3" cy="251.1" r="1.00" fill="#b0c6d6" fill-opacity="1.0"/>
<circle cx="73.6" cy="224.7" r="0.81" fill="#7fa2bc" fill-opacity="1.0"/>
<circle cx="115.0" cy="257.3" r="0.90" fill="#6d92b0" fill-opacity="1.0"/>
<circle cx="125.8" cy="239.0" r="0.60" fill="#e4ecf0" fill-opacity="1.0"/>
<circle cx="93.9" cy="252.0" r="0.91" fill="#e4ecf0" fill-opacity="1.0"/>
<circle cx="112.2" cy="228.1" r="0.49" fill="#e4ecf0" fill-opacity="1.0"/>
<circle cx="103.7" cy="239.8" r="0.92" fill="#e4ecf0" fill-opacity="1.0"/>
<circle cx="80.8" cy="248.8" r="0.53" fill="#6d92b0" fill-opacity="1.0"/>
<circle cx="130.6" cy="232.6" r="0.45" fill="#9ab6cb" fill-opacity="1.0"/>
<circle cx="95.5" cy="222.1" r="0.66" fill="#b0c6d6" fill-opacity="1.0"/>
<circle cx="99.8" cy="238.3" r="0.78" fill="#7fa2bc" fill-opacity="1.0"/>
<circle cx="77.1" cy="257.5" r="0.64" fill="#9ab6cb" fill-opacity="1.0"/>
<circle cx="72.9" cy="225.4" r="0.83" fill="#e4ecf0" fill-opacity="1.0"/>
<circle cx="112.1" cy="225.0" r="0.67" fill="#9ab6cb" fill-opacity="1.0"/>
<circle cx="130.6" cy="235.7" r="0.99" fill="#7fa2bc" fill-opacity="1.0"/>
<circle cx="118.0" cy="244.1" r="0.78" fill="#e4ecf0" fill-opacity="1.0"/>
<circle cx="120.8" cy="248.0" r="0.73" fill="#b0c6d6" fill-opacity="1.0"/>
<circle cx="80.8" cy="242.1" r="0.56" fill="#b0c6d6" fill-opacity="1.0"/>
<circle cx="81.2" cy="225.0" r="0.99" fill="#6d92b0" fill-opacity="1.0"/>
<circle cx="108.0" cy="256.6" r="0.89" fill="#e4ecf0" fill-opacity="1.0"/>
<circle cx="113.1" cy="223.4" r="0.70" fill="#e4ecf0" fill-opacity="1.0"/>
<circle cx="77.6" cy="234.3" r="0.82" fill="#6d92b0" fill-opacity="1.0"/>
<circle cx="111.8" cy="257.2" r="0.87" fill="#b0c6d6" fill-opacity="1.0"/>
<circle cx="98.8" cy="239.3" r="0.74" fill="#7fa2bc" fill-opacity="1.0"/>
<circle cx="113.4" cy="228.3" r="0.47" fill="#9ab6cb" fill-opacity="1.0"/>
<circle cx="84.2" cy="229.5" r="0.80" fill="#9ab6cb" fill-opacity="1.0"/>
<circle cx="129.3" cy="259.5" r="0.67" fill="#7fa2bc" fill-opacity="1.0"/>
<circle cx="109.9" cy="228.2" r="0.98" fill="#9ab6cb" fill-opacity="1.0"/>
<circle cx="98.6" cy="224.2" r="0.42" fill="#b0c6d6" fill-opacity="1.0"/>
<circle cx="116.7" cy="240.8" r="0.45" fill="#9ab6cb" fill-opacity="1.0"/>
<circle cx="123.2" cy="251.2" r="0.75" fill="#9ab6cb" fill-opacity="1.0"/>
<circle cx="92.1" cy="245.6" r="0.65" fill="#7fa2bc" fill-opacity="1.0"/>
<circle cx="110.8" cy="240.8" r="0.59" fill="#e4ecf0" fill-opacity="1.0"/>
<circle cx="119.5" cy="238.0" r="0.53" fill="#7fa2bc" fill-opacity="1.0"/>
<circle cx="73.0" cy="253.6" r="0.91" fill="#b0c6d6" fill-opacity="1.0"/>
<circle cx="114.0" cy="258.3" r="0.90" fill="#e4ecf0" fill-opacity="1.0"/>
<circle cx="94.5" cy="233.6" r="0.98" fill="#6d92b0" fill-opacity="1.0"/>
<circle cx="96.4" cy="258.0" r="0.70" fill="#e4ecf0" fill-opacity="1.0"/>
<circle cx="94.3" cy="240.3" r="0.64" fill="#7fa2bc" fill-opacity="1.0"/>
<circle cx="101.8" cy="238.0" r="0.70" fill="#7fa2bc" fill-opacity="1.0"/>
<circle cx="78.5" cy="244.4" r="0.92" fill="#6d92b0" fill-opacity="1.0"/>
<circle cx="74.2" cy="255.0" r="0.80" fill="#6d92b0" fill-opacity="1.0"/>
<circle cx="112.2" cy="221.7" r="0.68" fill="#9ab6cb" fill-opacity="1.0"/>
<circle cx="92.8" cy="239.4" r="0.46" fill="#e4ecf0" fill-opacity="1.0"/>
<circle cx="109.0" cy="234.2" r="0.73" fill="#e4ecf0" fill-opacity="1.0"/>
<circle cx="95.8" cy="255.3" r="0.88" fill="#7fa2bc" fill-opacity="1.0"/>
<circle cx="97.7" cy="255.1" r="0.78" fill="#e4ecf0" fill-opacity="1.0"/>
<circle cx="130.5" cy="245.3" r="0.69" fill="#e4ecf0" fill-opacity="1.0"/>
<circle cx="74.2" cy="232.6" r="0.80" fill="#9ab6cb" fill-opacity="1.0"/>
<circle cx="90.9" cy="254.9" r="0.44" fill="#9ab6cb" fill-opacity="1.0"/>
<circle cx="73.3" cy="246.2" r="0.88" fill="#9ab6cb" fill-opacity="1.0"/>
<circle cx="116.1" cy="253.4" r="0.85" fill="#e4ecf0" fill-opacity="1.0"/>
<circle cx="131.1" cy="250.8" r="0.77" fill="#9ab6cb" fill-opacity="1.0"/>
<circle cx="129.6" cy="251.2" r="0.97" fill="#9ab6cb" fill-opacity="1.0"/>
<circle cx="98.2" cy="255.3" r="0.97" fill="#9ab6cb" fill-opacity="1.0"/>
<circle cx="120.4" cy="228.2" r="0.74" fill="#6d92b0" fill-opacity="1.0"/>
<circle cx="128.5" cy="222.3" r="0.56" fill="#b0c6d6" fill-opacity="1.0"/>
<circle cx="74.6" cy="226.2" r="0.90" fill="#7fa2bc" fill-opacity="1.0"/>
<circle cx="95.6" cy="242.4" r="0.96" fill="#7fa2bc" fill-opacity="1.0"/>
<circle cx="91.3" cy="224.3" r="0.63" fill="#6d92b0" fill-opacity="1.0"/>
<circle cx="104.4" cy="223.1" r="0.93" fill="#b0c6d6" fill-opacity="1.0"/>
<circle cx="102.3" cy="227.0" r="0.89" fill="#7fa2bc" fill-opacity="1.0"/>
<circle cx="84.6" cy="257.3" r="0.89" fill="#9ab6cb" fill-opacity="1.0"/>
<circle cx="126.4" cy="223.7" r="0.95" fill="#6d92b0" fill-opacity="1.0"/>
<circle cx="77.4" cy="250.7" r="0.86" fill="#e4ecf0" fill-opacity="1.0"/>
<circle cx="122.2" cy="259.0" r="0.60" fill="#9ab6cb" fill-opacity="1.0"/>
<circle cx="127.6" cy="233.5" r="0.81" fill="#9ab6cb" fill-opacity="1.0"/>
<circle cx="123.2" cy="243.1" r="0.57" fill="#6d92b0" fill-opacity="1.0"/>
<circle cx="108.3" cy="228.6" r="0.77" fill="#6d92b0" fill-opacity="1.0"/>
<circle cx="125.6" cy="230.8" r="0.82" fill="#7fa2bc" fill-opacity="1.0"/>
<circle cx="83.7" cy="233.2" r="0.40" fill="#6d92b0" fill-opacity="1.0"/>
<circle cx="77.4" cy="232.3" r="0.86" fill="#b0c6d6" fill-opacity="1.0"/>
<circle cx="120.6" cy="242.1" r="0.67" fill="#7fa2bc" fill-opacity="1.0"/>
<circle cx="92.7" cy="255.0" r="0.50" fill="#7fa2bc" fill-opacity="1.0"/>
<circle cx="128.3" cy="221.9" r="0.95" fill="#b0c6d6" fill-opacity="1.0"/>
<circle cx="76.5" cy="231.0" r="0.80" fill="#b0c6d6" fill-opacity="1.0"/>
<circle cx="109.6" cy="226.0" r="0.64" fill="#9ab6cb" fill-opacity="1.0"/>
<circle cx="86.2" cy="251.6" r="0.83" fill="#b0c6d6" fill-opacity="1.0"/>
<circle cx="103.8" cy="248.2" r="0.48" fill="#b0c6d6" fill-opacity="1.0"/>
<circle cx="75.5" cy="237.5" r="0.58" fill="#7fa2bc" fill-opacity="1.0"/>
<circle cx="84.5" cy="234.0" r="0.57" fill="#b0c6d6" fill-opacity="1.0"/>
<circle cx="89.9" cy="245.3" r="0.45" fill="#7fa2bc" fill-opacity="1.0"/>
<circle cx="98.8" cy="243.1" r="0.92" fill="#6d92b0" fill-opacity="1.0"/>
<circle cx="101.6" cy="236.6" r="0.54" fill="#9ab6cb" fill-opacity="1.0"/>
<circle cx="102.6" cy="228.9" r="0.40" fill="#b0c6d6" fill-opacity="1.0"/>
<circle cx="122.4" cy="258.2" r="0.61" fill="#7fa2bc" fill-opacity="1.0"/>
<ellipse cx="94.5" cy="229.0" rx="10.0" ry="7.0" fill="#eef1f4"/>
<ellipse cx="100.0" cy="252.5" rx="6.5" ry="6.5" fill="#eef1f4"/>
<ellipse cx="116.3" cy="251.0" rx="7.8" ry="7.5" fill="#eef1f4"/>
<ellipse cx="123.6" cy="239.0" rx="6.5" ry="5.5" fill="#eef1f4"/>
<ellipse cx="73.5" cy="233.7" rx="3.5" ry="4.2" fill="#eef1f4"/>
<ellipse cx="83.0" cy="245.0" rx="4.0" ry="3.5" fill="#eef1f4"/>
<ellipse cx="108.0" cy="237.0" rx="3.0" ry="3.0" fill="#eef1f4"/>
<ellipse cx="99.7" cy="241.5" rx="2.4" ry="2.4" fill="#9a5a9e"/>
</g></g>
<g clip-path="url(#c21)"><g filter="url(#hb)">
<rect x="133.00" y="221.60" width="60.20" height="37.20" fill="#eceef1"/>
<circle cx="151.3" cy="250.6" r="0.44" fill="#7fa2bc" fill-opacity="1.0"/>
<circle cx="153.5" cy="243.9" r="0.66" fill="#7fa2bc" fill-opacity="1.0"/>
<circle cx="146.1" cy="252.3" r="0.54" fill="#b5cad8" fill-opacity="1.0"/>
<circle cx="149.5" cy="254.4" r="0.47" fill="#7fa2bc" fill-opacity="1.0"/>
<circle cx="153.1" cy="253.0" r="0.61" fill="#9ab6cb" fill-opacity="1.0"/>
<circle cx="145.0" cy="247.6" r="0.65" fill="#9ab6cb" fill-opacity="1.0"/>
<circle cx="148.4" cy="239.3" r="0.90" fill="#b5cad8" fill-opacity="1.0"/>
<circle cx="143.3" cy="251.8" r="0.77" fill="#9ab6cb" fill-opacity="1.0"/>
<circle cx="153.0" cy="254.9" r="0.56" fill="#9ab6cb" fill-opacity="1.0"/>
<circle cx="148.1" cy="248.2" r="0.85" fill="#7fa2bc" fill-opacity="1.0"/>
<circle cx="152.9" cy="244.8" r="0.45" fill="#9ab6cb" fill-opacity="1.0"/>
<circle cx="145.8" cy="240.8" r="0.77" fill="#7fa2bc" fill-opacity="1.0"/>
<circle cx="153.5" cy="248.1" r="0.72" fill="#9ab6cb" fill-opacity="1.0"/>
<circle cx="159.7" cy="248.5" r="0.67" fill="#7fa2bc" fill-opacity="1.0"/>
<circle cx="146.2" cy="245.2" r="0.90" fill="#b5cad8" fill-opacity="1.0"/>
<circle cx="148.8" cy="254.7" r="0.68" fill="#9ab6cb" fill-opacity="1.0"/>
<circle cx="153.6" cy="252.0" r="0.43" fill="#7fa2bc" fill-opacity="1.0"/>
<circle cx="156.2" cy="253.2" r="0.52" fill="#7fa2bc" fill-opacity="1.0"/>
<circle cx="148.7" cy="247.6" r="0.67" fill="#9ab6cb" fill-opacity="1.0"/>
<circle cx="155.1" cy="241.8" r="0.50" fill="#9ab6cb" fill-opacity="1.0"/>
<circle cx="147.4" cy="253.7" r="0.81" fill="#7fa2bc" fill-opacity="1.0"/>
<circle cx="147.0" cy="241.3" r="0.56" fill="#7fa2bc" fill-opacity="1.0"/>
<circle cx="143.9" cy="239.7" r="0.64" fill="#9ab6cb" fill-opacity="1.0"/>
<circle cx="157.9" cy="245.4" r="0.76" fill="#7fa2bc" fill-opacity="1.0"/>
<circle cx="148.8" cy="242.7" r="0.49" fill="#9ab6cb" fill-opacity="1.0"/>
<circle cx="142.5" cy="251.2" r="0.87" fill="#7fa2bc" fill-opacity="1.0"/>
<circle cx="155.7" cy="241.1" r="0.76" fill="#7fa2bc" fill-opacity="1.0"/>
<circle cx="155.8" cy="240.0" r="0.55" fill="#7fa2bc" fill-opacity="1.0"/>
<circle cx="153.8" cy="247.5" r="0.72" fill="#9ab6cb" fill-opacity="1.0"/>
<circle cx="151.2" cy="245.1" r="0.71" fill="#7fa2bc" fill-opacity="1.0"/>
<circle cx="139.3" cy="246.1" r="0.83" fill="#b5cad8" fill-opacity="1.0"/>
<circle cx="154.8" cy="243.8" r="0.52" fill="#b5cad8" fill-opacity="1.0"/>
<circle cx="143.8" cy="242.3" r="0.72" fill="#b5cad8" fill-opacity="1.0"/>
<circle cx="155.7" cy="248.2" r="0.81" fill="#7fa2bc" fill-opacity="1.0"/>
<circle cx="140.8" cy="252.8" r="0.69" fill="#9ab6cb" fill-opacity="1.0"/>
<circle cx="152.0" cy="250.1" r="0.72" fill="#b5cad8" fill-opacity="1.0"/>
<circle cx="145.9" cy="242.3" r="0.79" fill="#b5cad8" fill-opacity="1.0"/>
<circle cx="152.2" cy="242.3" r="0.89" fill="#7fa2bc" fill-opacity="1.0"/>
<circle cx="156.0" cy="242.5" r="0.64" fill="#9ab6cb" fill-opacity="1.0"/>
<circle cx="154.3" cy="243.7" r="0.74" fill="#9ab6cb" fill-opacity="1.0"/>
<circle cx="153.0" cy="246.1" r="0.77" fill="#b5cad8" fill-opacity="1.0"/>
<circle cx="157.6" cy="243.6" r="0.65" fill="#9ab6cb" fill-opacity="1.0"/>
<circle cx="155.0" cy="242.2" r="0.56" fill="#7fa2bc" fill-opacity="1.0"/>
<circle cx="139.5" cy="243.7" r="0.86" fill="#9ab6cb" fill-opacity="1.0"/>
<circle cx="151.7" cy="241.8" r="0.77" fill="#9ab6cb" fill-opacity="1.0"/>
<circle cx="178.8" cy="246.7" r="0.88" fill="#7fa2bc" fill-opacity="1.0"/>
<circle cx="176.3" cy="244.9" r="0.54" fill="#7fa2bc" fill-opacity="1.0"/>
<circle cx="190.7" cy="239.1" r="0.77" fill="#b5cad8" fill-opacity="1.0"/>
<circle cx="190.3" cy="240.6" r="0.73" fill="#b5cad8" fill-opacity="1.0"/>
<circle cx="171.3" cy="240.3" r="0.56" fill="#9ab6cb" fill-opacity="1.0"/>
<circle cx="187.7" cy="238.6" r="0.57" fill="#b5cad8" fill-opacity="1.0"/>
<circle cx="188.6" cy="239.7" r="0.41" fill="#7fa2bc" fill-opacity="1.0"/>
<circle cx="173.9" cy="241.1" r="0.72" fill="#7fa2bc" fill-opacity="1.0"/>
<circle cx="173.5" cy="236.5" r="0.53" fill="#b5cad8" fill-opacity="1.0"/>
<circle cx="190.4" cy="244.5" r="0.58" fill="#b5cad8" fill-opacity="1.0"/>
<circle cx="187.3" cy="250.1" r="0.57" fill="#b5cad8" fill-opacity="1.0"/>
<circle cx="187.6" cy="246.0" r="0.64" fill="#7fa2bc" fill-opacity="1.0"/>
<circle cx="190.2" cy="238.1" r="0.53" fill="#b5cad8" fill-opacity="1.0"/>
<circle cx="173.1" cy="255.1" r="0.84" fill="#9ab6cb" fill-opacity="1.0"/>
<circle cx="175.1" cy="245.1" r="0.47" fill="#b5cad8" fill-opacity="1.0"/>
<circle cx="188.5" cy="240.8" r="0.65" fill="#b5cad8" fill-opacity="1.0"/>
<circle cx="172.2" cy="248.6" r="0.52" fill="#b5cad8" fill-opacity="1.0"/>
<circle cx="191.6" cy="236.7" r="0.76" fill="#9ab6cb" fill-opacity="1.0"/>
<circle cx="172.8" cy="240.7" r="0.64" fill="#b5cad8" fill-opacity="1.0"/>
<circle cx="182.1" cy="236.4" r="0.80" fill="#9ab6cb" fill-opacity="1.0"/>
<circle cx="181.9" cy="235.7" r="0.59" fill="#7fa2bc" fill-opacity="1.0"/>
<circle cx="175.6" cy="251.1" r="0.64" fill="#7fa2bc" fill-opacity="1.0"/>
<circle cx="178.1" cy="241.9" r="0.88" fill="#7fa2bc" fill-opacity="1.0"/>
<circle cx="171.4" cy="244.3" r="0.64" fill="#9ab6cb" fill-opacity="1.0"/>
<circle cx="182.5" cy="255.5" r="0.46" fill="#7fa2bc" fill-opacity="1.0"/>
<circle cx="187.3" cy="250.7" r="0.70" fill="#9ab6cb" fill-opacity="1.0"/>
<circle cx="178.1" cy="235.7" r="0.50" fill="#b5cad8" fill-opacity="1.0"/>
<circle cx="186.2" cy="239.9" r="0.74" fill="#7fa2bc" fill-opacity="1.0"/>
<circle cx="173.2" cy="245.5" r="0.55" fill="#b5cad8" fill-opacity="1.0"/>
<circle cx="179.1" cy="252.1" r="0.64" fill="#7fa2bc" fill-opacity="1.0"/>
<circle cx="177.3" cy="245.6" r="0.41" fill="#7fa2bc" fill-opacity="1.0"/>
<circle cx="174.7" cy="237.1" r="0.57" fill="#b5cad8" fill-opacity="1.0"/>
<circle cx="179.9" cy="256.4" r="0.87" fill="#b5cad8" fill-opacity="1.0"/>
<circle cx="172.7" cy="249.6" r="0.76" fill="#b5cad8" fill-opacity="1.0"/>
<circle cx="173.7" cy="245.2" r="0.64" fill="#b5cad8" fill-opacity="1.0"/>
<circle cx="184.9" cy="238.3" r="0.86" fill="#7fa2bc" fill-opacity="1.0"/>
<circle cx="190.4" cy="238.8" r="0.42" fill="#9ab6cb" fill-opacity="1.0"/>
<circle cx="180.7" cy="237.2" r="0.83" fill="#9ab6cb" fill-opacity="1.0"/>
<circle cx="174.1" cy="254.4" r="0.73" fill="#b5cad8" fill-opacity="1.0"/>
<circle cx="176.7" cy="244.2" r="0.58" fill="#9ab6cb" fill-opacity="1.0"/>
<circle cx="180.1" cy="249.4" r="0.65" fill="#9ab6cb" fill-opacity="1.0"/>
<circle cx="181.5" cy="246.6" r="0.82" fill="#9ab6cb" fill-opacity="1.0"/>
<circle cx="179.5" cy="235.4" r="0.79" fill="#9ab6cb" fill-opacity="1.0"/>
<circle cx="174.0" cy="244.8" r="0.80" fill="#9ab6cb" fill-opacity="1.0"/>
<circle cx="181.6" cy="255.3" r="0.54" fill="#9ab6cb" fill-opacity="1.0"/>
<circle cx="176.0" cy="243.5" r="0.72" fill="#b5cad8" fill-opacity="1.0"/>
<circle cx="173.1" cy="253.3" r="0.67" fill="#9ab6cb" fill-opacity="1.0"/>
<circle cx="191.8" cy="237.4" r="0.41" fill="#7fa2bc" fill-opacity="1.0"/>
<circle cx="175.9" cy="237.7" r="0.42" fill="#9ab6cb" fill-opacity="1.0"/>
<circle cx="171.7" cy="255.0" r="0.64" fill="#b5cad8" fill-opacity="1.0"/>
<circle cx="185.6" cy="250.2" r="0.78" fill="#7fa2bc" fill-opacity="1.0"/>
<circle cx="186.8" cy="247.8" r="0.47" fill="#b5cad8" fill-opacity="1.0"/>
<circle cx="183.5" cy="251.4" r="0.48" fill="#7fa2bc" fill-opacity="1.0"/>
<circle cx="182.7" cy="237.2" r="0.57" fill="#9ab6cb" fill-opacity="1.0"/>
<circle cx="186.4" cy="243.0" r="0.46" fill="#b5cad8" fill-opacity="1.0"/>
<circle cx="164.7" cy="227.5" r="0.71" fill="#c8d6e0" fill-opacity="1.0"/>
<circle cx="161.8" cy="222.5" r="0.67" fill="#9ab6cb" fill-opacity="1.0"/>
<circle cx="163.2" cy="226.9" r="0.60" fill="#b5cad8" fill-opacity="1.0"/>
<circle cx="161.7" cy="222.3" r="0.57" fill="#b5cad8" fill-opacity="1.0"/>
<circle cx="153.1" cy="223.4" r="0.61" fill="#c8d6e0" fill-opacity="1.0"/>
<circle cx="158.6" cy="225.3" r="0.55" fill="#c8d6e0" fill-opacity="1.0"/>
<circle cx="153.5" cy="221.2" r="0.69" fill="#b5cad8" fill-opacity="1.0"/>
<circle cx="160.4" cy="222.7" r="0.45" fill="#9ab6cb" fill-opacity="1.0"/>
<circle cx="156.1" cy="221.2" r="0.75" fill="#c8d6e0" fill-opacity="1.0"/>
<circle cx="156.9" cy="225.7" r="0.53" fill="#9ab6cb" fill-opacity="1.0"/>
<circle cx="167.4" cy="223.4" r="0.67" fill="#b5cad8" fill-opacity="1.0"/>
<circle cx="156.3" cy="228.0" r="0.72" fill="#b5cad8" fill-opacity="1.0"/>
<circle cx="159.6" cy="222.2" r="0.47" fill="#b5cad8" fill-opacity="1.0"/>
<circle cx="153.9" cy="226.9" r="0.79" fill="#c8d6e0" fill-opacity="1.0"/>
<circle cx="165.4" cy="230.1" r="0.79" fill="#b5cad8" fill-opacity="1.0"/>
<circle cx="164.4" cy="221.7" r="0.72" fill="#c8d6e0" fill-opacity="1.0"/>
<circle cx="161.9" cy="228.9" r="0.77" fill="#c8d6e0" fill-opacity="1.0"/>
<circle cx="154.2" cy="228.0" r="0.40" fill="#b5cad8" fill-opacity="1.0"/>
<circle cx="156.2" cy="230.3" r="0.69" fill="#9ab6cb" fill-opacity="1.0"/>
<circle cx="162.0" cy="225.4" r="0.49" fill="#b5cad8" fill-opacity="1.0"/>
<circle cx="153.5" cy="227.1" r="0.74" fill="#c8d6e0" fill-opacity="1.0"/>
<circle cx="164.2" cy="224.3" r="0.78" fill="#9ab6cb" fill-opacity="1.0"/>
<circle cx="157.6" cy="227.1" r="0.44" fill="#b5cad8" fill-opacity="1.0"/>
<circle cx="167.9" cy="222.8" r="0.60" fill="#9ab6cb" fill-opacity="1.0"/>
<circle cx="159.6" cy="224.2" r="0.48" fill="#b5cad8" fill-opacity="1.0"/>
<ellipse cx="164.2" cy="237.9" rx="3.2" ry="2.2" fill="#c08ab8"/>
</g></g>
<rect x="61.60" y="217.80" width="6.60" height="1.70" fill="#111"/>
<rect x="61.60" y="256.00" width="6.60" height="1.70" fill="#111"/>
<rect x="123.00" y="217.80" width="6.60" height="1.70" fill="#111"/>
<rect x="123.00" y="256.00" width="6.60" height="1.70" fill="#111"/>
<rect x="184.60" y="217.80" width="6.60" height="1.70" fill="#111"/>
<rect x="184.60" y="256.00" width="6.60" height="1.70" fill="#111"/>
<text x="198.80" y="161.10" font-size="11.8" font-weight="bold" fill="#0a0a0a" stroke="#0a0a0a" stroke-width="0.25">D</text>
<rect x="228" y="178.6" width="148.2" height="63.9" fill="none" stroke="#222" stroke-width="1"/>
<line x1="224.60" y1="242.30" x2="228.00" y2="242.30" stroke="#262626" stroke-width="1.0"/>
<text transform="translate(221.60 242.30) scale(1.0 1.15)" font-size="6.0" text-anchor="end" font-weight="normal" fill="#383838" stroke="#383838" stroke-width="0.18" dominant-baseline="central">0</text>
<line x1="224.60" y1="230.06" x2="228.00" y2="230.06" stroke="#262626" stroke-width="1.0"/>
<text transform="translate(221.60 230.06) scale(1.0 1.15)" font-size="6.0" text-anchor="end" font-weight="normal" fill="#383838" stroke="#383838" stroke-width="0.18" dominant-baseline="central">20</text>
<line x1="224.60" y1="217.82" x2="228.00" y2="217.82" stroke="#262626" stroke-width="1.0"/>
<text transform="translate(221.60 217.82) scale(1.0 1.15)" font-size="6.0" text-anchor="end" font-weight="normal" fill="#383838" stroke="#383838" stroke-width="0.18" dominant-baseline="central">40</text>
<line x1="224.60" y1="205.58" x2="228.00" y2="205.58" stroke="#262626" stroke-width="1.0"/>
<text transform="translate(221.60 205.58) scale(1.0 1.15)" font-size="6.0" text-anchor="end" font-weight="normal" fill="#383838" stroke="#383838" stroke-width="0.18" dominant-baseline="central">60</text>
<line x1="224.60" y1="193.34" x2="228.00" y2="193.34" stroke="#262626" stroke-width="1.0"/>
<text transform="translate(221.60 193.34) scale(1.0 1.15)" font-size="6.0" text-anchor="end" font-weight="normal" fill="#383838" stroke="#383838" stroke-width="0.18" dominant-baseline="central">80</text>
<line x1="224.60" y1="181.10" x2="228.00" y2="181.10" stroke="#262626" stroke-width="1.0"/>
<text transform="translate(221.60 181.10) scale(1.0 1.15)" font-size="6.0" text-anchor="end" font-weight="normal" fill="#383838" stroke="#383838" stroke-width="0.18" dominant-baseline="central">100</text>
<line x1="226.40" y1="239.85" x2="228.00" y2="239.85" stroke="#262626" stroke-width="0.6"/>
<line x1="226.40" y1="237.40" x2="228.00" y2="237.40" stroke="#262626" stroke-width="0.6"/>
<line x1="226.40" y1="234.96" x2="228.00" y2="234.96" stroke="#262626" stroke-width="0.6"/>
<line x1="226.40" y1="232.51" x2="228.00" y2="232.51" stroke="#262626" stroke-width="0.6"/>
<line x1="226.40" y1="227.61" x2="228.00" y2="227.61" stroke="#262626" stroke-width="0.6"/>
<line x1="226.40" y1="225.16" x2="228.00" y2="225.16" stroke="#262626" stroke-width="0.6"/>
<line x1="226.40" y1="222.72" x2="228.00" y2="222.72" stroke="#262626" stroke-width="0.6"/>
<line x1="226.40" y1="220.27" x2="228.00" y2="220.27" stroke="#262626" stroke-width="0.6"/>
<line x1="226.40" y1="215.37" x2="228.00" y2="215.37" stroke="#262626" stroke-width="0.6"/>
<line x1="226.40" y1="212.92" x2="228.00" y2="212.92" stroke="#262626" stroke-width="0.6"/>
<line x1="226.40" y1="210.48" x2="228.00" y2="210.48" stroke="#262626" stroke-width="0.6"/>
<line x1="226.40" y1="208.03" x2="228.00" y2="208.03" stroke="#262626" stroke-width="0.6"/>
<line x1="226.40" y1="203.13" x2="228.00" y2="203.13" stroke="#262626" stroke-width="0.6"/>
<line x1="226.40" y1="200.68" x2="228.00" y2="200.68" stroke="#262626" stroke-width="0.6"/>
<line x1="226.40" y1="198.24" x2="228.00" y2="198.24" stroke="#262626" stroke-width="0.6"/>
<line x1="226.40" y1="195.79" x2="228.00" y2="195.79" stroke="#262626" stroke-width="0.6"/>
<line x1="226.40" y1="190.89" x2="228.00" y2="190.89" stroke="#262626" stroke-width="0.6"/>
<line x1="226.40" y1="188.44" x2="228.00" y2="188.44" stroke="#262626" stroke-width="0.6"/>
<line x1="226.40" y1="186.00" x2="228.00" y2="186.00" stroke="#262626" stroke-width="0.6"/>
<line x1="226.40" y1="183.55" x2="228.00" y2="183.55" stroke="#262626" stroke-width="0.6"/>
<text transform="translate(203.20 209.70) rotate(-90) scale(1.0 1.28)" font-size="6.9" text-anchor="middle" font-weight="normal" fill="#383838" stroke="#383838" stroke-width="0.18" dominant-baseline="central">Normalized to mode</text>
<defs><clipPath id="redclip"><path d="M283.0,242.3 L285.8,241.7 L289.6,236.9 L294.4,235.0 L299.2,232.1 L303.1,228.3 L306.0,229.2 L308.8,224.4 L312.7,218.7 L315.6,211.0 L318.5,208.6 L320.4,201.3 L321.3,193.7 L323.8,197.5 L325.8,194.6 L328.7,192.2 L330.6,192.7 L332.5,199.4 L335.4,202.3 L339.2,205.7 L342.1,209.0 L345.0,214.8 L347.9,219.6 L350.8,225.4 L353.7,231.2 L356.5,235.0 L360.4,240.8 L362.0,242.3 Z"/></clipPath></defs>
<path d="M281.0,242.3 L285.8,240.8 L294.4,239.8 L302.1,236.9 L307.9,234.0 L312.7,231.2 L315.6,228.3 L318.5,222.5 L322.3,222.5 L325.2,220.6 L328.7,220.6 L331.5,221.5 L332.5,207.1 L333.9,204.2 L335.9,203.3 L338.3,203.3 L340.2,199.4 L341.2,195.6 L343.1,194.1 L345.0,194.6 L346.4,197.5 L347.4,202.3 L348.4,211.0 L349.8,215.8 L351.7,223.5 L353.7,229.2 L356.5,235.0 L360.4,240.8 L362.0,242.3 Z" fill="#d3d6e6"/>
<path d="M281.0,242.3 L282.9,241.7 L287.7,236.9 L291.5,233.1 L295.4,231.2 L299.2,227.3 L303.1,223.5 L307.9,220.6 L311.7,209.0 L314.6,207.6 L317.5,203.8 L319.4,201.3 L321.3,196.0 L323.3,194.6 L325.8,195.6 L328.7,191.7 L331.5,198.5 L334.4,197.5 L336.8,201.3 L339.2,203.3 L342.1,208.1 L345.0,210.0 L347.9,214.8 L350.8,221.5 L353.2,227.3 L355.6,233.1 L359.4,238.8 L361.3,240.8 L363.0,242.3 Z" fill="#c6cee8" fill-opacity="0.9"/>
<path d="M283.0,242.3 L285.8,241.7 L289.6,236.9 L294.4,235.0 L299.2,232.1 L303.1,228.3 L306.0,229.2 L308.8,224.4 L312.7,218.7 L315.6,211.0 L318.5,208.6 L320.4,201.3 L321.3,193.7 L323.8,197.5 L325.8,194.6 L328.7,192.2 L330.6,192.7 L332.5,199.4 L335.4,202.3 L339.2,205.7 L342.1,209.0 L345.0,214.8 L347.9,219.6 L350.8,225.4 L353.7,231.2 L356.5,235.0 L360.4,240.8 L362.0,242.3 Z" fill="#dba2a8"/>
<path d="M281.0,242.3 L285.8,240.8 L294.4,239.8 L302.1,236.9 L307.9,234.0 L312.7,231.2 L315.6,228.3 L318.5,222.5 L322.3,222.5 L325.2,220.6 L328.7,220.6 L331.5,221.5 L332.5,207.1 L333.9,204.2 L335.9,203.3 L338.3,203.3 L340.2,199.4 L341.2,195.6 L343.1,194.1 L345.0,194.6 L346.4,197.5 L347.4,202.3 L348.4,211.0 L349.8,215.8 L351.7,223.5 L353.7,229.2 L356.5,235.0 L360.4,240.8 L362.0,242.3 Z" fill="#c3858e" clip-path="url(#redclip)"/>
<path d="M281.0,242.3 L285.8,240.8 L294.4,239.8 L302.1,236.9 L307.9,234.0 L312.7,231.2 L315.6,228.3 L318.5,222.5 L322.3,222.5 L325.2,220.6 L328.7,220.6 L331.5,221.5 L332.5,207.1 L333.9,204.2 L335.9,203.3 L338.3,203.3 L340.2,199.4 L341.2,195.6 L343.1,194.1 L345.0,194.6 L346.4,197.5 L347.4,202.3 L348.4,211.0 L349.8,215.8 L351.7,223.5 L353.7,229.2 L356.5,235.0 L360.4,240.8 L362.0,242.3 Z" fill="none" stroke="#55555f" stroke-width="1.1" stroke-linejoin="round"/>
<path d="M281.0,242.3 L282.9,241.7 L287.7,236.9 L291.5,233.1 L295.4,231.2 L299.2,227.3 L303.1,223.5 L307.9,220.6 L311.7,209.0 L314.6,207.6 L317.5,203.8 L319.4,201.3 L321.3,196.0 L323.3,194.6 L325.8,195.6 L328.7,191.7 L331.5,198.5 L334.4,197.5 L336.8,201.3 L339.2,203.3 L342.1,208.1 L345.0,210.0 L347.9,214.8 L350.8,221.5 L353.2,227.3 L355.6,233.1 L359.4,238.8 L361.3,240.8 L363.0,242.3 Z" fill="none" stroke="#1d5a8e" stroke-width="1.15" stroke-linejoin="round"/>
<path d="M283.0,242.3 L285.8,241.7 L289.6,236.9 L294.4,235.0 L299.2,232.1 L303.1,228.3 L306.0,229.2 L308.8,224.4 L312.7,218.7 L315.6,211.0 L318.5,208.6 L320.4,201.3 L321.3,193.7 L323.8,197.5 L325.8,194.6 L328.7,192.2 L330.6,192.7 L332.5,199.4 L335.4,202.3 L339.2,205.7 L342.1,209.0 L345.0,214.8 L347.9,219.6 L350.8,225.4 L353.7,231.2 L356.5,235.0 L360.4,240.8 L362.0,242.3 Z" fill="none" stroke="#c81e40" stroke-width="1.15" stroke-linejoin="round"/>
<rect x="233.7" y="184.7" width="6.6" height="3.8" rx="0.6" fill="#cfcfd8" stroke="#6e6e7c" stroke-width="0.9"/>
<text transform="translate(243.00 186.60) scale(1.0 1.15)" font-size="5.5" text-anchor="start" font-weight="normal" fill="#3a3a3a" stroke="#3a3a3a" stroke-width="0.1" dominant-baseline="central">CRISPR ctrl</text>
<rect x="233.7" y="194.4" width="6.6" height="3.8" rx="0.6" fill="#86a8c8" stroke="#22507a" stroke-width="0.9"/>
<text transform="translate(243.00 196.30) scale(1.0 1.15)" font-size="5.5" text-anchor="start" font-weight="normal" fill="#3a3a3a" stroke="#3a3a3a" stroke-width="0.1" dominant-baseline="central">Animal 1</text>
<rect x="233.7" y="204.3" width="6.6" height="3.8" rx="0.6" fill="#e6909c" stroke="#b02840" stroke-width="0.9"/>
<text transform="translate(243.00 206.20) scale(1.0 1.15)" font-size="5.5" text-anchor="start" font-weight="normal" fill="#3a3a3a" stroke="#3a3a3a" stroke-width="0.1" dominant-baseline="central">Animal 2</text>
<line x1="238.30" y1="242.50" x2="238.30" y2="244.80" stroke="#262626" stroke-width="0.9"/>
<line x1="261.30" y1="242.50" x2="261.30" y2="244.80" stroke="#262626" stroke-width="0.9"/>
<line x1="285.80" y1="242.50" x2="285.80" y2="244.80" stroke="#262626" stroke-width="0.9"/>
<line x1="326.20" y1="242.50" x2="326.20" y2="244.80" stroke="#262626" stroke-width="0.9"/>
<line x1="361.70" y1="242.50" x2="361.70" y2="244.80" stroke="#262626" stroke-width="0.9"/>
<line x1="237.50" y1="242.50" x2="237.50" y2="244.30" stroke="#262626" stroke-width="0.7"/>
<line x1="239.60" y1="242.50" x2="239.60" y2="244.30" stroke="#262626" stroke-width="0.7"/>
<line x1="241.70" y1="242.50" x2="241.70" y2="244.30" stroke="#262626" stroke-width="0.7"/>
<line x1="243.80" y1="242.50" x2="243.80" y2="244.30" stroke="#262626" stroke-width="0.7"/>
<line x1="245.90" y1="242.50" x2="245.90" y2="244.30" stroke="#262626" stroke-width="0.7"/>
<line x1="248.00" y1="242.50" x2="248.00" y2="244.30" stroke="#262626" stroke-width="0.7"/>
<line x1="250.10" y1="242.50" x2="250.10" y2="244.30" stroke="#262626" stroke-width="0.7"/>
<line x1="252.20" y1="242.50" x2="252.20" y2="244.30" stroke="#262626" stroke-width="0.7"/>
<line x1="254.30" y1="242.50" x2="254.30" y2="244.30" stroke="#262626" stroke-width="0.7"/>
<line x1="256.40" y1="242.50" x2="256.40" y2="244.30" stroke="#262626" stroke-width="0.7"/>
<line x1="258.50" y1="242.50" x2="258.50" y2="244.30" stroke="#262626" stroke-width="0.7"/>
<line x1="260.60" y1="242.50" x2="260.60" y2="244.30" stroke="#262626" stroke-width="0.7"/>
<line x1="262.70" y1="242.50" x2="262.70" y2="244.30" stroke="#262626" stroke-width="0.7"/>
<line x1="264.80" y1="242.50" x2="264.80" y2="244.30" stroke="#262626" stroke-width="0.7"/>
<line x1="266.90" y1="242.50" x2="266.90" y2="244.30" stroke="#262626" stroke-width="0.7"/>
<line x1="269.00" y1="242.50" x2="269.00" y2="244.30" stroke="#262626" stroke-width="0.7"/>
<line x1="271.10" y1="242.50" x2="271.10" y2="244.30" stroke="#262626" stroke-width="0.7"/>
<line x1="273.20" y1="242.50" x2="273.20" y2="244.30" stroke="#262626" stroke-width="0.7"/>
<line x1="275.30" y1="242.50" x2="275.30" y2="244.30" stroke="#262626" stroke-width="0.7"/>
<line x1="277.40" y1="242.50" x2="277.40" y2="244.30" stroke="#262626" stroke-width="0.7"/>
<line x1="279.50" y1="242.50" x2="279.50" y2="244.30" stroke="#262626" stroke-width="0.7"/>
<line x1="281.60" y1="242.50" x2="281.60" y2="244.30" stroke="#262626" stroke-width="0.7"/>
<line x1="283.70" y1="242.50" x2="283.70" y2="244.30" stroke="#262626" stroke-width="0.7"/>
<line x1="257.50" y1="243.20" x2="264.00" y2="243.20" stroke="#262626" stroke-width="1.2"/>
<line x1="297.96" y1="242.50" x2="297.96" y2="243.90" stroke="#262626" stroke-width="0.6"/>
<line x1="305.08" y1="242.50" x2="305.08" y2="243.90" stroke="#262626" stroke-width="0.6"/>
<line x1="310.12" y1="242.50" x2="310.12" y2="243.90" stroke="#262626" stroke-width="0.6"/>
<line x1="314.04" y1="242.50" x2="314.04" y2="243.90" stroke="#262626" stroke-width="0.6"/>
<line x1="317.24" y1="242.50" x2="317.24" y2="243.90" stroke="#262626" stroke-width="0.6"/>
<line x1="319.94" y1="242.50" x2="319.94" y2="243.90" stroke="#262626" stroke-width="0.6"/>
<line x1="322.28" y1="242.50" x2="322.28" y2="243.90" stroke="#262626" stroke-width="0.6"/>
<line x1="324.35" y1="242.50" x2="324.35" y2="243.90" stroke="#262626" stroke-width="0.6"/>
<line x1="338.36" y1="242.50" x2="338.36" y2="243.90" stroke="#262626" stroke-width="0.6"/>
<line x1="345.48" y1="242.50" x2="345.48" y2="243.90" stroke="#262626" stroke-width="0.6"/>
<line x1="350.52" y1="242.50" x2="350.52" y2="243.90" stroke="#262626" stroke-width="0.6"/>
<line x1="354.44" y1="242.50" x2="354.44" y2="243.90" stroke="#262626" stroke-width="0.6"/>
<line x1="357.64" y1="242.50" x2="357.64" y2="243.90" stroke="#262626" stroke-width="0.6"/>
<line x1="360.34" y1="242.50" x2="360.34" y2="243.90" stroke="#262626" stroke-width="0.6"/>
<line x1="362.68" y1="242.50" x2="362.68" y2="243.90" stroke="#262626" stroke-width="0.6"/>
<line x1="364.75" y1="242.50" x2="364.75" y2="243.90" stroke="#262626" stroke-width="0.6"/>
<line x1="373.86" y1="242.50" x2="373.86" y2="243.90" stroke="#262626" stroke-width="0.6"/>
<text transform="translate(238.30 252.20) scale(1.0 1.15)" font-size="6.0" text-anchor="middle" font-weight="normal" fill="#383838" stroke="#383838" stroke-width="0.18" dominant-baseline="central">−10<tspan font-size="3.8" dy="-2.2">3</tspan></text>
<text transform="translate(261.30 252.20) scale(1.0 1.15)" font-size="6.0" text-anchor="middle" font-weight="normal" fill="#383838" stroke="#383838" stroke-width="0.18" dominant-baseline="central">0</text>
<text transform="translate(285.80 252.20) scale(1.0 1.15)" font-size="6.0" text-anchor="middle" font-weight="normal" fill="#383838" stroke="#383838" stroke-width="0.18" dominant-baseline="central">10<tspan font-size="3.8" dy="-2.2">3</tspan></text>
<text transform="translate(326.20 252.20) scale(1.0 1.15)" font-size="6.0" text-anchor="middle" font-weight="normal" fill="#383838" stroke="#383838" stroke-width="0.18" dominant-baseline="central">10<tspan font-size="3.8" dy="-2.2">4</tspan></text>
<text transform="translate(361.70 252.20) scale(1.0 1.15)" font-size="6.0" text-anchor="middle" font-weight="normal" fill="#383838" stroke="#383838" stroke-width="0.18" dominant-baseline="central">10<tspan font-size="3.8" dy="-2.2">5</tspan></text>
<line x1="225.80" y1="258.60" x2="372.50" y2="258.60" stroke="#111" stroke-width="1.1"/>
<path d="M377.5,258.6 L370.5,255.6 L370.5,261.6 Z" fill="#111"/>
<text transform="translate(229.00 266.20) scale(1.0 1.42)" font-size="6.2" text-anchor="start" font-weight="normal" fill="#383838" stroke="#383838" stroke-width="0.18" dominant-baseline="central">cMPL-PE</text>
<line x1="415.30" y1="169.60" x2="415.30" y2="242.20" stroke="#262626" stroke-width="1.3"/>
<line x1="412.10" y1="242.20" x2="415.30" y2="242.20" stroke="#262626" stroke-width="1.3"/>
<text transform="translate(408.80 242.20) scale(1.0 1.15)" font-size="6.4" text-anchor="end" font-weight="normal" fill="#383838" stroke="#383838" stroke-width="0.18" dominant-baseline="central">60</text>
<line x1="412.10" y1="227.79" x2="415.30" y2="227.79" stroke="#262626" stroke-width="1.3"/>
<text transform="translate(408.80 227.79) scale(1.0 1.15)" font-size="6.4" text-anchor="end" font-weight="normal" fill="#383838" stroke="#383838" stroke-width="0.18" dominant-baseline="central">70</text>
<line x1="412.10" y1="213.38" x2="415.30" y2="213.38" stroke="#262626" stroke-width="1.3"/>
<text transform="translate(408.80 213.38) scale(1.0 1.15)" font-size="6.4" text-anchor="end" font-weight="normal" fill="#383838" stroke="#383838" stroke-width="0.18" dominant-baseline="central">80</text>
<line x1="412.10" y1="198.97" x2="415.30" y2="198.97" stroke="#262626" stroke-width="1.3"/>
<text transform="translate(408.80 198.97) scale(1.0 1.15)" font-size="6.4" text-anchor="end" font-weight="normal" fill="#383838" stroke="#383838" stroke-width="0.18" dominant-baseline="central">90</text>
<line x1="412.10" y1="184.56" x2="415.30" y2="184.56" stroke="#262626" stroke-width="1.3"/>
<text transform="translate(408.80 184.56) scale(1.0 1.15)" font-size="6.4" text-anchor="end" font-weight="normal" fill="#383838" stroke="#383838" stroke-width="0.18" dominant-baseline="central">100</text>
<line x1="412.10" y1="170.15" x2="415.30" y2="170.15" stroke="#262626" stroke-width="1.3"/>
<text transform="translate(408.80 170.15) scale(1.0 1.15)" font-size="6.4" text-anchor="end" font-weight="normal" fill="#383838" stroke="#383838" stroke-width="0.18" dominant-baseline="central">110</text>
<line x1="415.30" y1="242.20" x2="519.50" y2="242.20" stroke="#262626" stroke-width="1.3"/>
<line x1="435.80" y1="242.20" x2="435.80" y2="245.00" stroke="#262626" stroke-width="1.3"/>
<line x1="467.70" y1="242.20" x2="467.70" y2="245.00" stroke="#262626" stroke-width="1.3"/>
<line x1="499.80" y1="242.20" x2="499.80" y2="245.00" stroke="#262626" stroke-width="1.3"/>
<rect x="424.70" y="184.90" width="21.90" height="57.30" fill="#d6d5dc"/>
<line x1="435.65" y1="181.80" x2="435.65" y2="184.90" stroke="#333333" stroke-width="1.2"/>
<line x1="430.10" y1="181.80" x2="441.20" y2="181.80" stroke="#333333" stroke-width="1.2"/>
<rect x="456.60" y="218.80" width="22.20" height="23.40" fill="#0f4a80"/>
<line x1="467.70" y1="216.50" x2="467.70" y2="218.80" stroke="#333333" stroke-width="1.2"/>
<line x1="462.10" y1="216.50" x2="473.30" y2="216.50" stroke="#333333" stroke-width="1.2"/>
<rect x="488.50" y="208.50" width="22.50" height="33.70" fill="#c40421"/>
<line x1="499.75" y1="206.20" x2="499.75" y2="208.50" stroke="#333333" stroke-width="1.2"/>
<line x1="493.85" y1="206.20" x2="505.65" y2="206.20" stroke="#333333" stroke-width="1.2"/>
<line x1="435.90" y1="176.80" x2="501.50" y2="176.80" stroke="#454545" stroke-width="1.35"/>
<text transform="translate(468.50 172.20) scale(1.0 1.15)" font-size="6.2" text-anchor="middle" font-weight="normal" fill="#383838" stroke="#383838" stroke-width="0.18" dominant-baseline="central"><tspan font-style="italic">P</tspan> &lt; .0001</text>
<line x1="468.20" y1="198.90" x2="498.50" y2="198.90" stroke="#454545" stroke-width="1.35"/>
<text transform="translate(481.50 193.60) scale(1.0 1.15)" font-size="6.2" text-anchor="middle" font-weight="normal" fill="#383838" stroke="#383838" stroke-width="0.18" dominant-baseline="central"><tspan font-style="italic">P</tspan> = .011</text>
<text transform="translate(390.40 205.00) rotate(-90) scale(0.94 1.28)" font-size="7.0" text-anchor="middle" font-weight="normal" fill="#383838" stroke="#383838" stroke-width="0.18" dominant-baseline="central">Relative MFI</text>
<text transform="translate(438.00 249.50) rotate(-45) scale(1.0 1.15)" font-size="6.1" text-anchor="end" font-weight="normal" fill="#383838" stroke="#383838" stroke-width="0.18" dominant-baseline="central">CRISPR ctrl</text>
<text transform="translate(469.90 249.50) rotate(-45) scale(1.0 1.15)" font-size="6.1" text-anchor="end" font-weight="normal" fill="#383838" stroke="#383838" stroke-width="0.18" dominant-baseline="central">Animal 1</text>
<text transform="translate(502.00 249.50) rotate(-45) scale(1.0 1.15)" font-size="6.1" text-anchor="end" font-weight="normal" fill="#383838" stroke="#383838" stroke-width="0.18" dominant-baseline="central">Animal 2</text>
<text x="2.30" y="299.00" font-size="11.8" font-weight="bold" fill="#0a0a0a" stroke="#0a0a0a" stroke-width="0.25">E</text>
<line x1="34.70" y1="317.00" x2="34.70" y2="391.90" stroke="#262626" stroke-width="1.3"/>
<line x1="31.50" y1="391.90" x2="34.70" y2="391.90" stroke="#262626" stroke-width="1.3"/>
<text transform="translate(28.20 391.90) scale(1.0 1.15)" font-size="6.1" text-anchor="end" font-weight="normal" fill="#383838" stroke="#383838" stroke-width="0.18" dominant-baseline="central">0</text>
<line x1="31.50" y1="373.57" x2="34.70" y2="373.57" stroke="#262626" stroke-width="1.3"/>
<text transform="translate(28.20 373.57) scale(1.0 1.15)" font-size="6.1" text-anchor="end" font-weight="normal" fill="#383838" stroke="#383838" stroke-width="0.18" dominant-baseline="central">500</text>
<line x1="31.50" y1="355.25" x2="34.70" y2="355.25" stroke="#262626" stroke-width="1.3"/>
<text transform="translate(28.20 355.25) scale(1.0 1.15)" font-size="6.1" text-anchor="end" font-weight="normal" fill="#383838" stroke="#383838" stroke-width="0.18" dominant-baseline="central">1000</text>
<line x1="31.50" y1="336.92" x2="34.70" y2="336.92" stroke="#262626" stroke-width="1.3"/>
<text transform="translate(28.20 336.92) scale(1.0 1.15)" font-size="6.1" text-anchor="end" font-weight="normal" fill="#383838" stroke="#383838" stroke-width="0.18" dominant-baseline="central">1500</text>
<line x1="31.50" y1="318.60" x2="34.70" y2="318.60" stroke="#262626" stroke-width="1.3"/>
<text transform="translate(28.20 318.60) scale(1.0 1.15)" font-size="6.1" text-anchor="end" font-weight="normal" fill="#383838" stroke="#383838" stroke-width="0.18" dominant-baseline="central">2000</text>
<line x1="34.70" y1="391.90" x2="154.40" y2="391.90" stroke="#262626" stroke-width="1.3"/>
<line x1="47.10" y1="391.90" x2="47.10" y2="394.70" stroke="#262626" stroke-width="1.3"/>
<line x1="66.20" y1="391.90" x2="66.20" y2="394.70" stroke="#262626" stroke-width="1.3"/>
<line x1="84.80" y1="391.90" x2="84.80" y2="394.70" stroke="#262626" stroke-width="1.3"/>
<line x1="103.80" y1="391.90" x2="103.80" y2="394.70" stroke="#262626" stroke-width="1.3"/>
<line x1="122.80" y1="391.90" x2="122.80" y2="394.70" stroke="#262626" stroke-width="1.3"/>
<line x1="141.50" y1="391.90" x2="141.50" y2="394.70" stroke="#262626" stroke-width="1.3"/>
<rect x="41.30" y="356.00" width="11.60" height="35.90" fill="#d6d5dc"/>
<line x1="47.10" y1="355.00" x2="47.10" y2="356.00" stroke="#333333" stroke-width="1.2"/>
<line x1="44.10" y1="355.00" x2="50.10" y2="355.00" stroke="#333333" stroke-width="1.2"/>
<rect x="60.40" y="358.00" width="11.60" height="33.90" fill="#b1b0bc"/>
<line x1="66.20" y1="356.60" x2="66.20" y2="358.00" stroke="#333333" stroke-width="1.2"/>
<line x1="63.20" y1="356.60" x2="69.20" y2="356.60" stroke="#333333" stroke-width="1.2"/>
<rect x="79.00" y="387.90" width="11.60" height="4.00" fill="#9c9ca8"/>
<line x1="84.80" y1="385.40" x2="84.80" y2="387.90" stroke="#333333" stroke-width="1.2"/>
<line x1="81.80" y1="385.40" x2="87.80" y2="385.40" stroke="#333333" stroke-width="1.2"/>
<rect x="98.00" y="371.90" width="11.60" height="20.00" fill="#6a7088"/>
<line x1="103.80" y1="369.60" x2="103.80" y2="371.90" stroke="#333333" stroke-width="1.2"/>
<line x1="100.80" y1="369.60" x2="106.80" y2="369.60" stroke="#333333" stroke-width="1.2"/>
<rect x="117.00" y="326.90" width="11.60" height="65.00" fill="#0f4a80"/>
<line x1="122.80" y1="323.50" x2="122.80" y2="326.90" stroke="#333333" stroke-width="1.2"/>
<line x1="119.80" y1="323.50" x2="125.80" y2="323.50" stroke="#333333" stroke-width="1.2"/>
<rect x="135.70" y="339.40" width="11.60" height="52.50" fill="#c40421"/>
<line x1="141.50" y1="338.30" x2="141.50" y2="339.40" stroke="#333333" stroke-width="1.2"/>
<line x1="138.50" y1="338.30" x2="144.50" y2="338.30" stroke="#333333" stroke-width="1.2"/>
<line x1="50.40" y1="301.90" x2="142.30" y2="301.90" stroke="#454545" stroke-width="1.35"/>
<text transform="translate(87.90 296.90) scale(1.0 1.15)" font-size="6.1" text-anchor="middle" font-weight="normal" fill="#383838" stroke="#383838" stroke-width="0.18" dominant-baseline="central"><tspan font-style="italic">P</tspan> = .0001</text>
<line x1="50.40" y1="317.30" x2="122.50" y2="317.30" stroke="#454545" stroke-width="1.35"/>
<text transform="translate(88.50 312.90) scale(1.0 1.15)" font-size="6.1" text-anchor="middle" font-weight="normal" fill="#383838" stroke="#383838" stroke-width="0.18" dominant-baseline="central">P &lt; .0001</text>
<text transform="translate(6.00 354.40) rotate(-90) scale(0.97 1.28)" font-size="7.0" text-anchor="middle" font-weight="normal" fill="#383838" stroke="#383838" stroke-width="0.18" dominant-baseline="central">TPO (pg/ml)</text>
<text transform="translate(49.50 397.80) rotate(-45) scale(1.0 1.15)" font-size="6.1" text-anchor="end" font-weight="normal" fill="#383838" stroke="#383838" stroke-width="0.18" dominant-baseline="central">CRISPR ctrl 1</text>
<text transform="translate(68.60 397.80) rotate(-45) scale(1.0 1.15)" font-size="6.1" text-anchor="end" font-weight="normal" fill="#383838" stroke="#383838" stroke-width="0.18" dominant-baseline="central">CRISPR ctrl 2</text>
<text transform="translate(87.20 397.80) rotate(-45) scale(1.0 1.15)" font-size="6.1" text-anchor="end" font-weight="normal" fill="#383838" stroke="#383838" stroke-width="0.18" dominant-baseline="central">CRISPR ctrl 3</text>
<text transform="translate(106.20 397.80) rotate(-45) scale(1.0 1.15)" font-size="6.1" text-anchor="end" font-weight="normal" fill="#383838" stroke="#383838" stroke-width="0.18" dominant-baseline="central">CRISPR ctrl 4</text>
<text transform="translate(125.20 397.80) rotate(-45) scale(1.0 1.15)" font-size="6.1" text-anchor="end" font-weight="normal" fill="#383838" stroke="#383838" stroke-width="0.18" dominant-baseline="central">Animal 1</text>
<text transform="translate(143.90 397.80) rotate(-45) scale(1.0 1.15)" font-size="6.1" text-anchor="end" font-weight="normal" fill="#383838" stroke="#383838" stroke-width="0.18" dominant-baseline="central">Animal 2</text>
<text x="171.10" y="295.50" font-size="11.8" font-weight="bold" fill="#0a0a0a" stroke="#0a0a0a" stroke-width="0.25">F</text>
<text transform="translate(262.10 306.90) scale(1.0 1.15)" font-size="6.5" text-anchor="middle" font-weight="normal" fill="#383838" stroke="#383838" stroke-width="0.18" dominant-baseline="central">Animal 1</text>
<line x1="196.40" y1="316.00" x2="196.40" y2="393.30" stroke="#262626" stroke-width="1.3"/>
<line x1="193.20" y1="393.30" x2="196.40" y2="393.30" stroke="#262626" stroke-width="1.3"/>
<text transform="translate(190.00 393.30) scale(1.0 1.15)" font-size="6.1" text-anchor="end" font-weight="normal" fill="#383838" stroke="#383838" stroke-width="0.18" dominant-baseline="central">0</text>
<line x1="193.20" y1="374.25" x2="196.40" y2="374.25" stroke="#262626" stroke-width="1.3"/>
<text transform="translate(190.00 374.25) scale(1.0 1.15)" font-size="6.1" text-anchor="end" font-weight="normal" fill="#383838" stroke="#383838" stroke-width="0.18" dominant-baseline="central">20</text>
<line x1="193.20" y1="355.20" x2="196.40" y2="355.20" stroke="#262626" stroke-width="1.3"/>
<text transform="translate(190.00 355.20) scale(1.0 1.15)" font-size="6.1" text-anchor="end" font-weight="normal" fill="#383838" stroke="#383838" stroke-width="0.18" dominant-baseline="central">40</text>
<line x1="193.20" y1="336.15" x2="196.40" y2="336.15" stroke="#262626" stroke-width="1.3"/>
<text transform="translate(190.00 336.15) scale(1.0 1.15)" font-size="6.1" text-anchor="end" font-weight="normal" fill="#383838" stroke="#383838" stroke-width="0.18" dominant-baseline="central">60</text>
<line x1="193.20" y1="317.10" x2="196.40" y2="317.10" stroke="#262626" stroke-width="1.3"/>
<text transform="translate(190.00 317.10) scale(1.0 1.15)" font-size="6.1" text-anchor="end" font-weight="normal" fill="#383838" stroke="#383838" stroke-width="0.18" dominant-baseline="central">80</text>
<line x1="196.40" y1="393.30" x2="328.00" y2="393.30" stroke="#262626" stroke-width="1.3"/>
<line x1="227.30" y1="393.30" x2="227.30" y2="396.10" stroke="#262626" stroke-width="1.3"/>
<line x1="296.70" y1="393.30" x2="296.70" y2="396.10" stroke="#262626" stroke-width="1.3"/>
<rect x="203.30" y="342.10" width="11.50" height="51.20" fill="#9186c0"/>
<line x1="209.05" y1="339.40" x2="209.05" y2="342.10" stroke="#333333" stroke-width="1.2"/>
<line x1="206.05" y1="339.40" x2="212.05" y2="339.40" stroke="#333333" stroke-width="1.2"/>
<rect x="221.90" y="346.20" width="11.60" height="47.10" fill="#aebf84"/>
<line x1="227.70" y1="337.30" x2="227.70" y2="346.20" stroke="#333333" stroke-width="1.2"/>
<line x1="224.70" y1="337.30" x2="230.70" y2="337.30" stroke="#333333" stroke-width="1.2"/>
<rect x="240.80" y="365.80" width="11.50" height="27.50" fill="#0c6450"/>
<line x1="246.55" y1="359.60" x2="246.55" y2="365.80" stroke="#333333" stroke-width="1.2"/>
<line x1="243.55" y1="359.60" x2="249.55" y2="359.60" stroke="#333333" stroke-width="1.2"/>
<rect x="272.30" y="390.20" width="11.50" height="3.10" fill="#9186c0"/>
<line x1="278.05" y1="388.60" x2="278.05" y2="390.20" stroke="#333333" stroke-width="1.2"/>
<line x1="275.05" y1="388.60" x2="281.05" y2="388.60" stroke="#333333" stroke-width="1.2"/>
<rect x="291.00" y="391.20" width="11.50" height="2.10" fill="#aebf84"/>
<line x1="296.75" y1="389.00" x2="296.75" y2="391.20" stroke="#333333" stroke-width="1.2"/>
<line x1="293.75" y1="389.00" x2="299.75" y2="389.00" stroke="#333333" stroke-width="1.2"/>
<rect x="310.20" y="388.30" width="11.50" height="5.00" fill="#0c6450"/>
<line x1="315.95" y1="386.30" x2="315.95" y2="388.30" stroke="#333333" stroke-width="1.2"/>
<line x1="312.95" y1="386.30" x2="318.95" y2="386.30" stroke="#333333" stroke-width="1.2"/>
<line x1="209.00" y1="331.60" x2="246.50" y2="331.60" stroke="#454545" stroke-width="1.35"/>
<text transform="translate(227.30 326.70) scale(1.0 1.15)" font-size="6.1" text-anchor="middle" font-weight="normal" fill="#383838" stroke="#383838" stroke-width="0.18" dominant-baseline="central">P = .0005</text>
<line x1="277.10" y1="381.90" x2="314.60" y2="381.90" stroke="#454545" stroke-width="1.35"/>
<text transform="translate(296.20 378.00) scale(1.0 1.15)" font-size="6.1" text-anchor="middle" font-weight="normal" fill="#383838" stroke="#383838" stroke-width="0.18" dominant-baseline="central">ns</text>
<text transform="translate(227.30 403.70) scale(1.0 1.15)" font-size="6.3" text-anchor="middle" font-weight="normal" fill="#383838" stroke="#383838" stroke-width="0.18" dominant-baseline="central">RUNX1</text>
<text transform="translate(296.70 403.70) scale(1.0 1.15)" font-size="6.3" text-anchor="middle" font-weight="normal" fill="#383838" stroke="#383838" stroke-width="0.18" dominant-baseline="central">AAVS1</text>
<text transform="translate(175.00 354.30) rotate(-90) scale(1.0 1.28)" font-size="7.0" text-anchor="middle" font-weight="normal" fill="#383838" stroke="#383838" stroke-width="0.18" dominant-baseline="central">Mutation frequency (%)</text>
<text transform="translate(425.00 306.90) scale(1.0 1.15)" font-size="6.5" text-anchor="middle" font-weight="normal" fill="#383838" stroke="#383838" stroke-width="0.18" dominant-baseline="central">Animal 2</text>
<line x1="366.50" y1="316.00" x2="366.50" y2="393.50" stroke="#262626" stroke-width="1.3"/>
<line x1="363.30" y1="393.50" x2="366.50" y2="393.50" stroke="#262626" stroke-width="1.3"/>
<text transform="translate(360.90 393.50) scale(1.0 1.15)" font-size="6.1" text-anchor="end" font-weight="normal" fill="#383838" stroke="#383838" stroke-width="0.18" dominant-baseline="central">0</text>
<line x1="363.30" y1="378.34" x2="366.50" y2="378.34" stroke="#262626" stroke-width="1.3"/>
<text transform="translate(360.90 378.34) scale(1.0 1.15)" font-size="6.1" text-anchor="end" font-weight="normal" fill="#383838" stroke="#383838" stroke-width="0.18" dominant-baseline="central">5</text>
<line x1="363.30" y1="363.18" x2="366.50" y2="363.18" stroke="#262626" stroke-width="1.3"/>
<text transform="translate(360.90 363.18) scale(1.0 1.15)" font-size="6.1" text-anchor="end" font-weight="normal" fill="#383838" stroke="#383838" stroke-width="0.18" dominant-baseline="central">10</text>
<line x1="363.30" y1="348.02" x2="366.50" y2="348.02" stroke="#262626" stroke-width="1.3"/>
<text transform="translate(360.90 348.02) scale(1.0 1.15)" font-size="6.1" text-anchor="end" font-weight="normal" fill="#383838" stroke="#383838" stroke-width="0.18" dominant-baseline="central">15</text>
<line x1="363.30" y1="332.86" x2="366.50" y2="332.86" stroke="#262626" stroke-width="1.3"/>
<text transform="translate(360.90 332.86) scale(1.0 1.15)" font-size="6.1" text-anchor="end" font-weight="normal" fill="#383838" stroke="#383838" stroke-width="0.18" dominant-baseline="central">20</text>
<line x1="363.30" y1="317.70" x2="366.50" y2="317.70" stroke="#262626" stroke-width="1.3"/>
<text transform="translate(360.90 317.70) scale(1.0 1.15)" font-size="6.1" text-anchor="end" font-weight="normal" fill="#383838" stroke="#383838" stroke-width="0.18" dominant-baseline="central">25</text>
<line x1="366.50" y1="393.50" x2="495.00" y2="393.50" stroke="#262626" stroke-width="1.3"/>
<line x1="397.10" y1="393.50" x2="397.10" y2="396.30" stroke="#262626" stroke-width="1.3"/>
<line x1="464.60" y1="393.50" x2="464.60" y2="396.30" stroke="#262626" stroke-width="1.3"/>
<rect x="373.50" y="347.30" width="11.10" height="46.20" fill="#9186c0"/>
<line x1="379.05" y1="332.50" x2="379.05" y2="347.30" stroke="#333333" stroke-width="1.2"/>
<line x1="376.05" y1="332.50" x2="382.05" y2="332.50" stroke="#333333" stroke-width="1.2"/>
<rect x="392.10" y="346.00" width="10.60" height="47.50" fill="#aebf84"/>
<line x1="397.40" y1="334.80" x2="397.40" y2="346.00" stroke="#333333" stroke-width="1.2"/>
<line x1="394.40" y1="334.80" x2="400.40" y2="334.80" stroke="#333333" stroke-width="1.2"/>
<rect x="410.40" y="370.40" width="10.60" height="23.10" fill="#0c6450"/>
<line x1="415.70" y1="367.70" x2="415.70" y2="370.40" stroke="#333333" stroke-width="1.2"/>
<line x1="412.70" y1="367.70" x2="418.70" y2="367.70" stroke="#333333" stroke-width="1.2"/>
<rect x="441.20" y="371.00" width="10.50" height="22.50" fill="#9186c0"/>
<line x1="446.45" y1="366.50" x2="446.45" y2="371.00" stroke="#333333" stroke-width="1.2"/>
<line x1="443.45" y1="366.50" x2="449.45" y2="366.50" stroke="#333333" stroke-width="1.2"/>
<rect x="459.40" y="378.10" width="10.60" height="15.40" fill="#aebf84"/>
<line x1="464.70" y1="374.20" x2="464.70" y2="378.10" stroke="#333333" stroke-width="1.2"/>
<line x1="461.70" y1="374.20" x2="467.70" y2="374.20" stroke="#333333" stroke-width="1.2"/>
<rect x="477.70" y="366.50" width="11.00" height="27.00" fill="#0c6450"/>
<line x1="483.20" y1="358.50" x2="483.20" y2="366.50" stroke="#333333" stroke-width="1.2"/>
<line x1="480.20" y1="358.50" x2="486.20" y2="358.50" stroke="#333333" stroke-width="1.2"/>
<line x1="378.80" y1="325.80" x2="413.80" y2="325.80" stroke="#454545" stroke-width="1.35"/>
<text transform="translate(396.20 319.40) scale(1.0 1.15)" font-size="6.1" text-anchor="middle" font-weight="normal" fill="#383838" stroke="#383838" stroke-width="0.18" dominant-baseline="central">P = .0217</text>
<line x1="446.50" y1="351.90" x2="482.50" y2="351.90" stroke="#454545" stroke-width="1.35"/>
<text transform="translate(464.20 346.00) scale(1.0 1.15)" font-size="6.1" text-anchor="middle" font-weight="normal" fill="#383838" stroke="#383838" stroke-width="0.18" dominant-baseline="central">ns</text>
<text transform="translate(397.10 403.20) scale(1.0 1.15)" font-size="6.3" text-anchor="middle" font-weight="normal" fill="#383838" stroke="#383838" stroke-width="0.18" dominant-baseline="central">RUNX1</text>
<text transform="translate(464.60 403.20) scale(1.0 1.15)" font-size="6.3" text-anchor="middle" font-weight="normal" fill="#383838" stroke="#383838" stroke-width="0.18" dominant-baseline="central">AAVS1</text>
<text transform="translate(345.60 354.60) rotate(-90) scale(1.0 1.28)" font-size="7.0" text-anchor="middle" font-weight="normal" fill="#383838" stroke="#383838" stroke-width="0.18" dominant-baseline="central">Mutation frequency (%)</text>
<rect x="469.60" y="311.70" width="7.70" height="4.20" fill="#9186c0"/>
<text transform="translate(479.60 313.80) scale(1.0 1.15)" font-size="5.6" text-anchor="start" font-weight="normal" fill="#3a3a3a" stroke="#3a3a3a" stroke-width="0.12" dominant-baseline="central">CD34<tspan font-size="3.5" dy="-2">+</tspan></text>
<rect x="469.60" y="321.70" width="7.70" height="4.20" fill="#aebf84"/>
<text transform="translate(479.60 323.80) scale(1.0 1.15)" font-size="5.6" text-anchor="start" font-weight="normal" fill="#3a3a3a" stroke="#3a3a3a" stroke-width="0.12" dominant-baseline="central">BM Gr</text>
<rect x="469.60" y="331.90" width="7.70" height="4.20" fill="#0c6450"/>
<text transform="translate(479.60 334.00) scale(1.0 1.15)" font-size="5.6" text-anchor="start" font-weight="normal" fill="#3a3a3a" stroke="#3a3a3a" stroke-width="0.12" dominant-baseline="central">CD41a<tspan font-size="3.5" dy="-2">+</tspan></text>
<text x="1.00" y="449.60" font-size="11.8" font-weight="bold" fill="#0a0a0a" stroke="#0a0a0a" stroke-width="0.25">G</text>
<line x1="34.40" y1="470.50" x2="34.40" y2="549.40" stroke="#262626" stroke-width="1.3"/>
<line x1="31.20" y1="549.40" x2="34.40" y2="549.40" stroke="#262626" stroke-width="1.3"/>
<text transform="translate(28.10 549.40) scale(1.0 1.15)" font-size="6.1" text-anchor="end" font-weight="normal" fill="#383838" stroke="#383838" stroke-width="0.18" dominant-baseline="central">0</text>
<line x1="31.20" y1="523.70" x2="34.40" y2="523.70" stroke="#262626" stroke-width="1.3"/>
<text transform="translate(28.10 523.70) scale(1.0 1.15)" font-size="6.1" text-anchor="end" font-weight="normal" fill="#383838" stroke="#383838" stroke-width="0.18" dominant-baseline="central">10</text>
<line x1="31.20" y1="498.00" x2="34.40" y2="498.00" stroke="#262626" stroke-width="1.3"/>
<text transform="translate(28.10 498.00) scale(1.0 1.15)" font-size="6.1" text-anchor="end" font-weight="normal" fill="#383838" stroke="#383838" stroke-width="0.18" dominant-baseline="central">20</text>
<line x1="31.20" y1="472.30" x2="34.40" y2="472.30" stroke="#262626" stroke-width="1.3"/>
<text transform="translate(28.10 472.30) scale(1.0 1.15)" font-size="6.1" text-anchor="end" font-weight="normal" fill="#383838" stroke="#383838" stroke-width="0.18" dominant-baseline="central">30</text>
<line x1="34.40" y1="549.40" x2="159.60" y2="549.40" stroke="#262626" stroke-width="1.3"/>
<line x1="59.95" y1="549.40" x2="59.95" y2="552.20" stroke="#262626" stroke-width="1.3"/>
<line x1="97.25" y1="549.40" x2="97.25" y2="552.20" stroke="#262626" stroke-width="1.3"/>
<line x1="134.95" y1="549.40" x2="134.95" y2="552.20" stroke="#262626" stroke-width="1.3"/>
<rect x="48.20" y="495.30" width="23.50" height="54.10" fill="#d6d5dc"/>
<line x1="59.95" y1="477.60" x2="59.95" y2="495.30" stroke="#333333" stroke-width="1.2"/>
<line x1="54.70" y1="477.60" x2="65.20" y2="477.60" stroke="#333333" stroke-width="1.2"/>
<rect x="85.30" y="526.10" width="23.90" height="23.30" fill="#0f4a80"/>
<line x1="97.25" y1="522.10" x2="97.25" y2="526.10" stroke="#333333" stroke-width="1.2"/>
<line x1="91.15" y1="522.10" x2="103.35" y2="522.10" stroke="#333333" stroke-width="1.2"/>
<rect x="123.00" y="517.20" width="23.90" height="32.20" fill="#c40421"/>
<line x1="134.95" y1="514.50" x2="134.95" y2="517.20" stroke="#333333" stroke-width="1.2"/>
<line x1="128.85" y1="514.50" x2="141.05" y2="514.50" stroke="#333333" stroke-width="1.2"/>
<line x1="58.50" y1="455.40" x2="134.00" y2="455.40" stroke="#454545" stroke-width="1.35"/>
<text transform="translate(95.50 449.20) scale(1.0 1.15)" font-size="6.1" text-anchor="middle" font-weight="normal" fill="#383838" stroke="#383838" stroke-width="0.18" dominant-baseline="central"><tspan font-style="italic">P</tspan> = .0020</text>
<line x1="58.50" y1="470.00" x2="99.70" y2="470.00" stroke="#454545" stroke-width="1.35"/>
<text transform="translate(79.00 462.90) scale(1.0 1.15)" font-size="6.1" text-anchor="middle" font-weight="normal" fill="#383838" stroke="#383838" stroke-width="0.18" dominant-baseline="central"><tspan font-style="italic">P</tspan> &lt; .0001</text>
<text transform="translate(60.00 559.00) scale(1.0 1.15)" font-size="6.4" text-anchor="middle" font-weight="normal" fill="#383838" stroke="#383838" stroke-width="0.18" dominant-baseline="central">CRISPR ctrl</text>
<text transform="translate(97.00 559.00) scale(1.0 1.15)" font-size="6.4" text-anchor="middle" font-weight="normal" fill="#383838" stroke="#383838" stroke-width="0.18" dominant-baseline="central">Animal 1</text>
<text transform="translate(134.60 559.00) scale(1.0 1.15)" font-size="6.4" text-anchor="middle" font-weight="normal" fill="#383838" stroke="#383838" stroke-width="0.18" dominant-baseline="central">Animal 2</text>
<text transform="translate(13.30 509.20) rotate(-90) scale(0.96 1.28)" font-size="7.0" text-anchor="middle" font-weight="normal" fill="#383838" stroke="#383838" stroke-width="0.18" dominant-baseline="central">CD41a expression (%)</text>
<text x="170.40" y="449.70" font-size="11.8" font-weight="bold" fill="#0a0a0a" stroke="#0a0a0a" stroke-width="0.25">H</text>
<line x1="196.30" y1="467.00" x2="196.30" y2="549.20" stroke="#262626" stroke-width="1.3"/>
<line x1="193.10" y1="549.20" x2="196.30" y2="549.20" stroke="#262626" stroke-width="1.3"/>
<text transform="translate(190.10 549.20) scale(1.0 1.15)" font-size="6.1" text-anchor="end" font-weight="normal" fill="#383838" stroke="#383838" stroke-width="0.18" dominant-baseline="central">0</text>
<line x1="193.10" y1="533.10" x2="196.30" y2="533.10" stroke="#262626" stroke-width="1.3"/>
<text transform="translate(190.10 533.10) scale(1.0 1.15)" font-size="6.1" text-anchor="end" font-weight="normal" fill="#383838" stroke="#383838" stroke-width="0.18" dominant-baseline="central">10</text>
<line x1="193.10" y1="517.00" x2="196.30" y2="517.00" stroke="#262626" stroke-width="1.3"/>
<text transform="translate(190.10 517.00) scale(1.0 1.15)" font-size="6.1" text-anchor="end" font-weight="normal" fill="#383838" stroke="#383838" stroke-width="0.18" dominant-baseline="central">20</text>
<line x1="193.10" y1="500.90" x2="196.30" y2="500.90" stroke="#262626" stroke-width="1.3"/>
<text transform="translate(190.10 500.90) scale(1.0 1.15)" font-size="6.1" text-anchor="end" font-weight="normal" fill="#383838" stroke="#383838" stroke-width="0.18" dominant-baseline="central">30</text>
<line x1="193.10" y1="484.80" x2="196.30" y2="484.80" stroke="#262626" stroke-width="1.3"/>
<text transform="translate(190.10 484.80) scale(1.0 1.15)" font-size="6.1" text-anchor="end" font-weight="normal" fill="#383838" stroke="#383838" stroke-width="0.18" dominant-baseline="central">40</text>
<line x1="193.10" y1="468.70" x2="196.30" y2="468.70" stroke="#262626" stroke-width="1.3"/>
<text transform="translate(190.10 468.70) scale(1.0 1.15)" font-size="6.1" text-anchor="end" font-weight="normal" fill="#383838" stroke="#383838" stroke-width="0.18" dominant-baseline="central">50</text>
<line x1="196.30" y1="549.20" x2="372.90" y2="549.20" stroke="#262626" stroke-width="1.3"/>
<line x1="217.10" y1="549.20" x2="217.10" y2="552.00" stroke="#262626" stroke-width="1.3"/>
<line x1="262.10" y1="549.20" x2="262.10" y2="552.00" stroke="#262626" stroke-width="1.3"/>
<line x1="307.40" y1="549.20" x2="307.40" y2="552.00" stroke="#262626" stroke-width="1.3"/>
<line x1="352.70" y1="549.20" x2="352.70" y2="552.00" stroke="#262626" stroke-width="1.3"/>
<rect x="201.30" y="536.60" width="6.90" height="12.60" fill="#d6d5dc"/>
<line x1="204.75" y1="535.00" x2="204.75" y2="536.60" stroke="#333333" stroke-width="1.2"/>
<line x1="202.45" y1="535.00" x2="207.05" y2="535.00" stroke="#333333" stroke-width="1.2"/>
<rect x="213.60" y="491.00" width="6.90" height="58.20" fill="#0f4a80"/>
<line x1="217.05" y1="486.20" x2="217.05" y2="491.00" stroke="#333333" stroke-width="1.2"/>
<line x1="214.75" y1="486.20" x2="219.35" y2="486.20" stroke="#333333" stroke-width="1.2"/>
<rect x="226.00" y="512.80" width="7.00" height="36.40" fill="#c40421"/>
<line x1="229.50" y1="509.40" x2="229.50" y2="512.80" stroke="#333333" stroke-width="1.2"/>
<line x1="227.20" y1="509.40" x2="231.80" y2="509.40" stroke="#333333" stroke-width="1.2"/>
<rect x="246.30" y="525.80" width="7.20" height="23.40" fill="#d6d5dc"/>
<line x1="249.90" y1="520.40" x2="249.90" y2="525.80" stroke="#333333" stroke-width="1.2"/>
<line x1="247.60" y1="520.40" x2="252.20" y2="520.40" stroke="#333333" stroke-width="1.2"/>
<rect x="258.70" y="510.40" width="6.90" height="38.80" fill="#0f4a80"/>
<line x1="262.15" y1="505.60" x2="262.15" y2="510.40" stroke="#333333" stroke-width="1.2"/>
<line x1="259.85" y1="505.60" x2="264.45" y2="505.60" stroke="#333333" stroke-width="1.2"/>
<rect x="271.20" y="516.20" width="6.70" height="33.00" fill="#c40421"/>
<line x1="274.55" y1="510.80" x2="274.55" y2="516.20" stroke="#333333" stroke-width="1.2"/>
<line x1="272.25" y1="510.80" x2="276.85" y2="510.80" stroke="#333333" stroke-width="1.2"/>
<rect x="291.90" y="489.60" width="6.80" height="59.60" fill="#d6d5dc"/>
<line x1="295.30" y1="485.40" x2="295.30" y2="489.60" stroke="#333333" stroke-width="1.2"/>
<line x1="293.00" y1="485.40" x2="297.60" y2="485.40" stroke="#333333" stroke-width="1.2"/>
<rect x="304.00" y="519.00" width="6.80" height="30.20" fill="#0f4a80"/>
<line x1="307.40" y1="515.60" x2="307.40" y2="519.00" stroke="#333333" stroke-width="1.2"/>
<line x1="305.10" y1="515.60" x2="309.70" y2="515.60" stroke="#333333" stroke-width="1.2"/>
<rect x="316.30" y="507.90" width="6.80" height="41.30" fill="#c40421"/>
<line x1="319.70" y1="505.00" x2="319.70" y2="507.90" stroke="#333333" stroke-width="1.2"/>
<line x1="317.40" y1="505.00" x2="322.00" y2="505.00" stroke="#333333" stroke-width="1.2"/>
<rect x="336.90" y="502.70" width="7.10" height="46.50" fill="#d6d5dc"/>
<line x1="340.45" y1="494.40" x2="340.45" y2="502.70" stroke="#333333" stroke-width="1.2"/>
<line x1="338.15" y1="494.40" x2="342.75" y2="494.40" stroke="#333333" stroke-width="1.2"/>
<rect x="349.20" y="527.10" width="7.00" height="22.10" fill="#0f4a80"/>
<line x1="352.70" y1="521.30" x2="352.70" y2="527.10" stroke="#333333" stroke-width="1.2"/>
<line x1="350.40" y1="521.30" x2="355.00" y2="521.30" stroke="#333333" stroke-width="1.2"/>
<rect x="361.30" y="510.40" width="7.20" height="38.80" fill="#c40421"/>
<line x1="364.90" y1="506.50" x2="364.90" y2="510.40" stroke="#333333" stroke-width="1.2"/>
<line x1="362.60" y1="506.50" x2="367.20" y2="506.50" stroke="#333333" stroke-width="1.2"/>
<line x1="208.20" y1="483.00" x2="229.40" y2="483.00" stroke="#454545" stroke-width="1.35"/>
<text transform="translate(218.50 477.10) scale(1.0 1.15)" font-size="6.1" text-anchor="middle" font-weight="normal" fill="#383838" stroke="#383838" stroke-width="0.18" dominant-baseline="central"><tspan font-style="italic">P</tspan> &lt; .0001</text>
<line x1="252.50" y1="500.60" x2="273.10" y2="500.60" stroke="#454545" stroke-width="1.35"/>
<text transform="translate(262.10 494.00) scale(1.0 1.15)" font-size="6.1" text-anchor="middle" font-weight="normal" fill="#383838" stroke="#383838" stroke-width="0.18" dominant-baseline="central"><tspan font-style="italic">P</tspan> = .0059</text>
<line x1="297.10" y1="481.00" x2="317.90" y2="481.00" stroke="#454545" stroke-width="1.35"/>
<text transform="translate(307.30 474.60) scale(1.0 1.15)" font-size="6.1" text-anchor="middle" font-weight="normal" fill="#383838" stroke="#383838" stroke-width="0.18" dominant-baseline="central"><tspan font-style="italic">P</tspan> &lt; .0001</text>
<line x1="343.10" y1="488.10" x2="363.80" y2="488.10" stroke="#454545" stroke-width="1.35"/>
<text transform="translate(353.00 481.90) scale(1.0 1.15)" font-size="6.1" text-anchor="middle" font-weight="normal" fill="#383838" stroke="#383838" stroke-width="0.18" dominant-baseline="central"><tspan font-style="italic">P</tspan> = .0290</text>
<line x1="353.70" y1="502.50" x2="365.20" y2="502.50" stroke="#454545" stroke-width="1.35"/>
<text transform="translate(358.60 496.30) scale(1.0 1.15)" font-size="6.1" text-anchor="middle" font-weight="normal" fill="#383838" stroke="#383838" stroke-width="0.18" dominant-baseline="central"><tspan font-style="italic">P</tspan> &lt; .0001</text>
<text transform="translate(216.40 558.90) scale(1.0 1.15)" font-size="6.3" text-anchor="middle" font-weight="normal" fill="#383838" stroke="#383838" stroke-width="0.18" dominant-baseline="central">2N</text>
<text transform="translate(262.10 558.90) scale(1.0 1.15)" font-size="6.3" text-anchor="middle" font-weight="normal" fill="#383838" stroke="#383838" stroke-width="0.18" dominant-baseline="central">4N</text>
<text transform="translate(307.30 558.90) scale(1.0 1.15)" font-size="6.3" text-anchor="middle" font-weight="normal" fill="#383838" stroke="#383838" stroke-width="0.18" dominant-baseline="central">8N</text>
<text transform="translate(352.30 558.90) scale(1.0 1.15)" font-size="6.3" text-anchor="middle" font-weight="normal" fill="#383838" stroke="#383838" stroke-width="0.18" dominant-baseline="central">&gt;16N</text>
<text transform="translate(174.70 507.90) rotate(-90) scale(0.93 1.28)" font-size="7.0" text-anchor="middle" font-weight="normal" fill="#383838" stroke="#383838" stroke-width="0.18" dominant-baseline="central">% ploidy class</text>
<rect x="390.80" y="495.40" width="8.00" height="4.60" fill="#d6d5dc"/>
<text transform="translate(401.80 497.70) scale(1.0 1.15)" font-size="5.6" text-anchor="start" font-weight="normal" fill="#3a3a3a" stroke="#3a3a3a" stroke-width="0.12" dominant-baseline="central">Ctrl</text>
<rect x="390.80" y="504.70" width="8.00" height="4.60" fill="#0f4a80"/>
<text transform="translate(401.80 507.00) scale(1.0 1.15)" font-size="5.6" text-anchor="start" font-weight="normal" fill="#3a3a3a" stroke="#3a3a3a" stroke-width="0.12" dominant-baseline="central">Animal 1</text>
<rect x="390.80" y="514.60" width="8.00" height="4.60" fill="#c40421"/>
<text transform="translate(401.80 516.90) scale(1.0 1.15)" font-size="5.6" text-anchor="start" font-weight="normal" fill="#3a3a3a" stroke="#3a3a3a" stroke-width="0.12" dominant-baseline="central">Animal 2</text>
<text x="2.90" y="581.80" font-size="11.8" font-weight="bold" fill="#0a0a0a" stroke="#0a0a0a" stroke-width="0.25">I</text>
<line x1="34.30" y1="589.00" x2="34.30" y2="666.40" stroke="#262626" stroke-width="1.3"/>
<line x1="31.10" y1="666.40" x2="34.30" y2="666.40" stroke="#262626" stroke-width="1.3"/>
<text transform="translate(27.90 666.40) scale(1.0 1.15)" font-size="6.1" text-anchor="end" font-weight="normal" fill="#383838" stroke="#383838" stroke-width="0.18" dominant-baseline="central">0</text>
<line x1="31.10" y1="641.00" x2="34.30" y2="641.00" stroke="#262626" stroke-width="1.3"/>
<text transform="translate(27.90 641.00) scale(1.0 1.15)" font-size="6.1" text-anchor="end" font-weight="normal" fill="#383838" stroke="#383838" stroke-width="0.18" dominant-baseline="central">20</text>
<line x1="31.10" y1="615.60" x2="34.30" y2="615.60" stroke="#262626" stroke-width="1.3"/>
<text transform="translate(27.90 615.60) scale(1.0 1.15)" font-size="6.1" text-anchor="end" font-weight="normal" fill="#383838" stroke="#383838" stroke-width="0.18" dominant-baseline="central">40</text>
<line x1="31.10" y1="590.20" x2="34.30" y2="590.20" stroke="#262626" stroke-width="1.3"/>
<text transform="translate(27.90 590.20) scale(1.0 1.15)" font-size="6.1" text-anchor="end" font-weight="normal" fill="#383838" stroke="#383838" stroke-width="0.18" dominant-baseline="central">60</text>
<line x1="34.30" y1="666.40" x2="163.40" y2="666.40" stroke="#262626" stroke-width="1.3"/>
<line x1="44.30" y1="666.40" x2="44.30" y2="669.20" stroke="#262626" stroke-width="1.3"/>
<line x1="58.25" y1="666.40" x2="58.25" y2="669.20" stroke="#262626" stroke-width="1.3"/>
<line x1="72.65" y1="666.40" x2="72.65" y2="669.20" stroke="#262626" stroke-width="1.3"/>
<line x1="87.10" y1="666.40" x2="87.10" y2="669.20" stroke="#262626" stroke-width="1.3"/>
<line x1="111.00" y1="666.40" x2="111.00" y2="669.20" stroke="#262626" stroke-width="1.3"/>
<line x1="125.40" y1="666.40" x2="125.40" y2="669.20" stroke="#262626" stroke-width="1.3"/>
<line x1="139.70" y1="666.40" x2="139.70" y2="669.20" stroke="#262626" stroke-width="1.3"/>
<line x1="154.00" y1="666.40" x2="154.00" y2="669.20" stroke="#262626" stroke-width="1.3"/>
<rect x="40.10" y="596.00" width="8.40" height="70.40" fill="#c40421"/>
<rect x="54.00" y="597.20" width="8.50" height="69.20" fill="#c40421"/>
<rect x="68.40" y="604.10" width="8.50" height="62.30" fill="#c40421"/>
<rect x="82.90" y="626.60" width="8.40" height="39.80" fill="#c40421"/>
<rect x="106.80" y="663.40" width="8.40" height="3.00" fill="#0f4a80"/>
<rect x="121.20" y="663.40" width="8.40" height="3.00" fill="#0f4a80"/>
<rect x="135.50" y="661.20" width="8.40" height="5.20" fill="#0f4a80"/>
<rect x="149.80" y="662.00" width="8.40" height="4.40" fill="#0f4a80"/>
<text transform="translate(98.70 581.30) scale(1.0 1.15)" font-size="6.5" text-anchor="middle" font-weight="normal" fill="#383838" stroke="#383838" stroke-width="0.18" dominant-baseline="central">Animal 1</text>
<text transform="translate(44.20 675.60) scale(1.0 1.15)" font-size="6.3" text-anchor="middle" font-weight="normal" fill="#383838" stroke="#383838" stroke-width="0.18" dominant-baseline="central">2N</text>
<text transform="translate(58.20 675.60) scale(1.0 1.15)" font-size="6.3" text-anchor="middle" font-weight="normal" fill="#383838" stroke="#383838" stroke-width="0.18" dominant-baseline="central">4N</text>
<text transform="translate(72.60 675.60) scale(1.0 1.15)" font-size="6.3" text-anchor="middle" font-weight="normal" fill="#383838" stroke="#383838" stroke-width="0.18" dominant-baseline="central">8N</text>
<text transform="translate(87.40 675.60) scale(1.0 1.15)" font-size="6.3" text-anchor="middle" font-weight="normal" fill="#383838" stroke="#383838" stroke-width="0.18" dominant-baseline="central">&gt;16N</text>
<text transform="translate(110.90 675.60) scale(1.0 1.15)" font-size="6.3" text-anchor="middle" font-weight="normal" fill="#383838" stroke="#383838" stroke-width="0.18" dominant-baseline="central">2N</text>
<text transform="translate(125.30 675.60) scale(1.0 1.15)" font-size="6.3" text-anchor="middle" font-weight="normal" fill="#383838" stroke="#383838" stroke-width="0.18" dominant-baseline="central">4N</text>
<text transform="translate(139.00 675.60) scale(1.0 1.15)" font-size="6.3" text-anchor="middle" font-weight="normal" fill="#383838" stroke="#383838" stroke-width="0.18" dominant-baseline="central">8N</text>
<text transform="translate(153.80 675.60) scale(1.0 1.15)" font-size="6.3" text-anchor="middle" font-weight="normal" fill="#383838" stroke="#383838" stroke-width="0.18" dominant-baseline="central">&gt;16N</text>
<text transform="translate(13.30 625.70) rotate(-90) scale(1.0 1.28)" font-size="7.0" text-anchor="middle" font-weight="normal" fill="#383838" stroke="#383838" stroke-width="0.18" dominant-baseline="central">Mutation frequency (%)</text>
<line x1="196.50" y1="589.00" x2="196.50" y2="666.40" stroke="#262626" stroke-width="1.3"/>
<line x1="193.30" y1="666.40" x2="196.50" y2="666.40" stroke="#262626" stroke-width="1.3"/>
<text transform="translate(191.20 666.40) scale(1.0 1.15)" font-size="6.1" text-anchor="end" font-weight="normal" fill="#383838" stroke="#383838" stroke-width="0.18" dominant-baseline="central">0</text>
<line x1="193.30" y1="641.05" x2="196.50" y2="641.05" stroke="#262626" stroke-width="1.3"/>
<text transform="translate(191.20 641.05) scale(1.0 1.15)" font-size="6.1" text-anchor="end" font-weight="normal" fill="#383838" stroke="#383838" stroke-width="0.18" dominant-baseline="central">5</text>
<line x1="193.30" y1="615.70" x2="196.50" y2="615.70" stroke="#262626" stroke-width="1.3"/>
<text transform="translate(191.20 615.70) scale(1.0 1.15)" font-size="6.1" text-anchor="end" font-weight="normal" fill="#383838" stroke="#383838" stroke-width="0.18" dominant-baseline="central">10</text>
<line x1="193.30" y1="590.35" x2="196.50" y2="590.35" stroke="#262626" stroke-width="1.3"/>
<text transform="translate(191.20 590.35) scale(1.0 1.15)" font-size="6.1" text-anchor="end" font-weight="normal" fill="#383838" stroke="#383838" stroke-width="0.18" dominant-baseline="central">15</text>
<line x1="196.50" y1="666.40" x2="325.10" y2="666.40" stroke="#262626" stroke-width="1.3"/>
<line x1="206.05" y1="666.40" x2="206.05" y2="669.20" stroke="#262626" stroke-width="1.3"/>
<line x1="220.15" y1="666.40" x2="220.15" y2="669.20" stroke="#262626" stroke-width="1.3"/>
<line x1="234.60" y1="666.40" x2="234.60" y2="669.20" stroke="#262626" stroke-width="1.3"/>
<line x1="248.95" y1="666.40" x2="248.95" y2="669.20" stroke="#262626" stroke-width="1.3"/>
<line x1="272.95" y1="666.40" x2="272.95" y2="669.20" stroke="#262626" stroke-width="1.3"/>
<line x1="287.35" y1="666.40" x2="287.35" y2="669.20" stroke="#262626" stroke-width="1.3"/>
<line x1="301.65" y1="666.40" x2="301.65" y2="669.20" stroke="#262626" stroke-width="1.3"/>
<line x1="315.95" y1="666.40" x2="315.95" y2="669.20" stroke="#262626" stroke-width="1.3"/>
<rect x="201.90" y="611.00" width="8.30" height="55.40" fill="#c40421"/>
<rect x="216.00" y="610.70" width="8.30" height="55.70" fill="#c40421"/>
<rect x="230.40" y="613.40" width="8.40" height="53.00" fill="#c40421"/>
<rect x="244.80" y="619.30" width="8.30" height="47.10" fill="#c40421"/>
<rect x="268.90" y="644.70" width="8.10" height="21.70" fill="#0f4a80"/>
<rect x="283.30" y="642.00" width="8.10" height="24.40" fill="#0f4a80"/>
<rect x="297.60" y="644.00" width="8.10" height="22.40" fill="#0f4a80"/>
<rect x="311.90" y="641.30" width="8.10" height="25.10" fill="#0f4a80"/>
<text transform="translate(261.10 581.30) scale(1.0 1.15)" font-size="6.5" text-anchor="middle" font-weight="normal" fill="#383838" stroke="#383838" stroke-width="0.18" dominant-baseline="central">Animal 2</text>
<text transform="translate(206.10 675.60) scale(1.0 1.15)" font-size="6.3" text-anchor="middle" font-weight="normal" fill="#383838" stroke="#383838" stroke-width="0.18" dominant-baseline="central">2N</text>
<text transform="translate(220.20 675.60) scale(1.0 1.15)" font-size="6.3" text-anchor="middle" font-weight="normal" fill="#383838" stroke="#383838" stroke-width="0.18" dominant-baseline="central">4N</text>
<text transform="translate(234.60 675.60) scale(1.0 1.15)" font-size="6.3" text-anchor="middle" font-weight="normal" fill="#383838" stroke="#383838" stroke-width="0.18" dominant-baseline="central">8N</text>
<text transform="translate(249.30 675.60) scale(1.0 1.15)" font-size="6.3" text-anchor="middle" font-weight="normal" fill="#383838" stroke="#383838" stroke-width="0.18" dominant-baseline="central">&gt;16N</text>
<text transform="translate(272.90 675.60) scale(1.0 1.15)" font-size="6.3" text-anchor="middle" font-weight="normal" fill="#383838" stroke="#383838" stroke-width="0.18" dominant-baseline="central">2N</text>
<text transform="translate(287.30 675.60) scale(1.0 1.15)" font-size="6.3" text-anchor="middle" font-weight="normal" fill="#383838" stroke="#383838" stroke-width="0.18" dominant-baseline="central">4N</text>
<text transform="translate(301.20 675.60) scale(1.0 1.15)" font-size="6.3" text-anchor="middle" font-weight="normal" fill="#383838" stroke="#383838" stroke-width="0.18" dominant-baseline="central">8N</text>
<text transform="translate(316.30 675.60) scale(1.0 1.15)" font-size="6.3" text-anchor="middle" font-weight="normal" fill="#383838" stroke="#383838" stroke-width="0.18" dominant-baseline="central">&gt;16N</text>
<text transform="translate(174.50 625.00) rotate(-90) scale(1.0 1.28)" font-size="7.0" text-anchor="middle" font-weight="normal" fill="#383838" stroke="#383838" stroke-width="0.18" dominant-baseline="central">Mutation frequency (%)</text>
<rect x="337.90" y="620.00" width="8.10" height="3.80" fill="#c40421"/>
<rect x="337.90" y="629.70" width="8.10" height="3.80" fill="#0f4a80"/>
<text transform="translate(348.70 622.00) scale(1.0 1.15)" font-size="5.6" text-anchor="start" font-weight="normal" fill="#3a3a3a" stroke="#3a3a3a" stroke-width="0.12" dominant-baseline="central">RUNX1</text>
<text transform="translate(348.70 631.70) scale(1.0 1.15)" font-size="5.6" text-anchor="start" font-weight="normal" fill="#3a3a3a" stroke="#3a3a3a" stroke-width="0.12" dominant-baseline="central">AAVS1</text>
</svg>
</body></html>
